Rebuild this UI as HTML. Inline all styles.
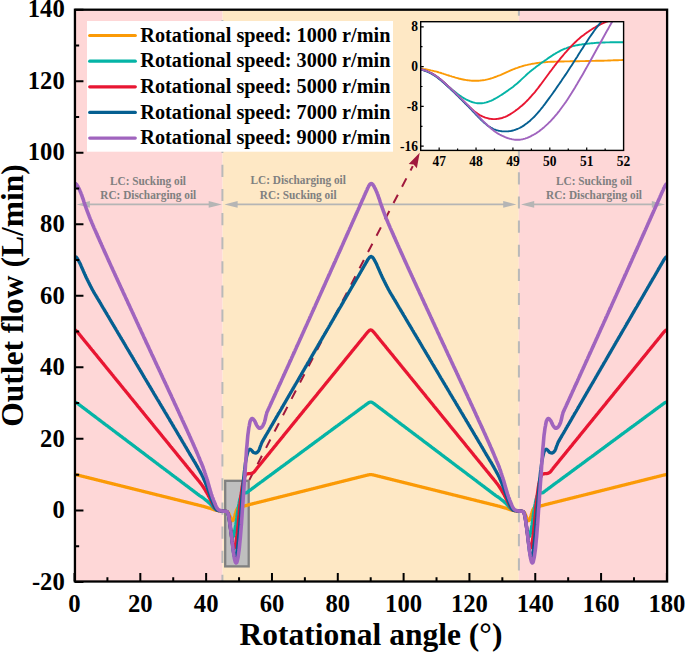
<!DOCTYPE html><html><head><meta charset="utf-8"><style>html,body{margin:0;padding:0;background:#fff;}svg{display:block;}</style></head><body><svg width="685" height="652" viewBox="0 0 685 652"><defs><clipPath id="pc"><rect x="74.95" y="9.70" width="592.15" height="571.80"/></clipPath><clipPath id="ic"><rect x="420.70" y="21.70" width="202.90" height="128.70"/></clipPath></defs><rect width="685" height="652" fill="#fff"/><rect x="74.95" y="9.7" width="147.65" height="571.8" fill="#FED7D7"/><rect x="222.60" y="9.7" width="296.20" height="571.8" fill="#FEE8C5"/><rect x="518.80" y="9.7" width="148.30" height="571.8" fill="#FED7D7"/><line x1="222.4" y1="9.7" x2="222.4" y2="581.5" stroke="#B9B9B9" stroke-width="2" stroke-dasharray="12.2 11.92" stroke-dashoffset="13.74"/><line x1="518.9" y1="9.7" x2="518.9" y2="581.5" stroke="#B9B9B9" stroke-width="2" stroke-dasharray="12.2 11.92" stroke-dashoffset="6.24"/><line x1="88.9" y1="204.4" x2="209.70000000000002" y2="204.4" stroke="#B5B5B5" stroke-width="1.7"/><path d="M76.7,204.4 L89.9,201.0 L89.9,207.8 Z" fill="#B5B5B5"/><path d="M221.9,204.4 L208.70000000000002,201.0 L208.70000000000002,207.8 Z" fill="#B5B5B5"/><line x1="236.6" y1="204.4" x2="504.2" y2="204.4" stroke="#B5B5B5" stroke-width="1.7"/><path d="M224.4,204.4 L237.6,201.0 L237.6,207.8 Z" fill="#B5B5B5"/><path d="M516.4,204.4 L503.2,201.0 L503.2,207.8 Z" fill="#B5B5B5"/><line x1="533.2" y1="204.4" x2="652.8" y2="204.4" stroke="#B5B5B5" stroke-width="1.7"/><path d="M521.0,204.4 L534.2,201.0 L534.2,207.8 Z" fill="#B5B5B5"/><path d="M665.0,204.4 L651.8,201.0 L651.8,207.8 Z" fill="#B5B5B5"/><text x="110.00" y="184.9" font-family="Liberation Serif" font-weight="bold" font-size="12.4" fill="#808080" textLength="76.0" lengthAdjust="spacingAndGlyphs">LC: Sucking oil</text><text x="100.25" y="199.0" font-family="Liberation Serif" font-weight="bold" font-size="12.4" fill="#808080" textLength="96.0" lengthAdjust="spacingAndGlyphs">RC: Discharging oil</text><text x="250.55" y="184.2" font-family="Liberation Serif" font-weight="bold" font-size="12.4" fill="#808080" textLength="95.3" lengthAdjust="spacingAndGlyphs">LC: Discharging oil</text><text x="259.85" y="198.9" font-family="Liberation Serif" font-weight="bold" font-size="12.4" fill="#808080" textLength="76.7" lengthAdjust="spacingAndGlyphs">RC: Sucking oil</text><text x="556.00" y="184.9" font-family="Liberation Serif" font-weight="bold" font-size="12.4" fill="#808080" textLength="76.0" lengthAdjust="spacingAndGlyphs">LC: Sucking oil</text><text x="546.00" y="199.0" font-family="Liberation Serif" font-weight="bold" font-size="12.4" fill="#808080" textLength="96.0" lengthAdjust="spacingAndGlyphs">RC: Discharging oil</text><rect x="225.2" y="480.8" width="23.5" height="85.6" fill="#BFBFBF" stroke="#808080" stroke-width="2.3"/><line x1="249.3" y1="480.0" x2="412.77" y2="166.10" stroke="#A0183C" stroke-width="2" stroke-dasharray="9.4 9.0" stroke-dashoffset="0.55"/><path d="M419.7,152.8 L416.85,168.23 L413.60,164.51 L408.69,163.98 Z" fill="#A0183C"/><g clip-path="url(#pc)" fill="none" stroke-linejoin="round" stroke-linecap="round"><path d="M74.5,474.6 L74.8,474.6 L75.2,474.6 L75.5,474.7 L75.8,474.7 L76.1,474.8 L76.5,474.8 L76.8,474.9 L77.1,474.9 L77.5,475.0 L77.8,475.1 L78.1,475.2 L78.4,475.3 L78.8,475.3 L79.1,475.4 L79.4,475.5 L79.8,475.6 L80.1,475.7 L80.4,475.8 L80.8,475.8 L81.1,475.9 L81.4,476.0 L81.7,476.1 L82.1,476.2 L82.4,476.2 L82.7,476.3 L83.1,476.4 L83.4,476.5 L83.7,476.6 L84.0,476.7 L84.4,476.7 L84.7,476.8 L85.0,476.9 L85.4,477.0 L85.7,477.1 L86.0,477.1 L86.3,477.2 L86.7,477.3 L87.0,477.4 L87.3,477.5 L87.7,477.6 L88.0,477.6 L88.3,477.7 L88.7,477.8 L89.0,477.9 L89.3,478.0 L89.6,478.0 L90.0,478.1 L90.3,478.2 L90.6,478.3 L91.0,478.4 L91.3,478.5 L91.6,478.5 L91.9,478.6 L92.3,478.7 L92.6,478.8 L92.9,478.9 L93.3,478.9 L93.6,479.0 L93.9,479.1 L94.2,479.2 L94.6,479.3 L94.9,479.4 L95.2,479.4 L95.6,479.5 L95.9,479.6 L96.2,479.7 L96.6,479.8 L96.9,479.8 L97.2,479.9 L97.5,480.0 L97.9,480.1 L98.2,480.2 L98.5,480.3 L98.9,480.3 L99.2,480.4 L99.5,480.5 L99.8,480.6 L100.2,480.7 L100.5,480.7 L100.8,480.8 L101.2,480.9 L101.5,481.0 L101.8,481.1 L102.1,481.2 L102.5,481.2 L102.8,481.3 L103.1,481.4 L103.5,481.5 L103.8,481.6 L104.1,481.6 L104.4,481.7 L104.8,481.8 L105.1,481.9 L105.4,482.0 L105.8,482.1 L106.1,482.1 L106.4,482.2 L106.8,482.3 L107.1,482.4 L107.4,482.5 L107.7,482.6 L108.1,482.6 L108.4,482.7 L108.7,482.8 L109.1,482.9 L109.4,483.0 L109.7,483.0 L110.0,483.1 L110.4,483.2 L110.7,483.3 L111.0,483.4 L111.4,483.5 L111.7,483.5 L112.0,483.6 L112.3,483.7 L112.7,483.8 L113.0,483.9 L113.3,483.9 L113.7,484.0 L114.0,484.1 L114.3,484.2 L114.7,484.3 L115.0,484.4 L115.3,484.4 L115.6,484.5 L116.0,484.6 L116.3,484.7 L116.6,484.8 L117.0,484.8 L117.3,484.9 L117.6,485.0 L117.9,485.1 L118.3,485.2 L118.6,485.3 L118.9,485.3 L119.3,485.4 L119.6,485.5 L119.9,485.6 L120.2,485.7 L120.6,485.7 L120.9,485.8 L121.2,485.9 L121.6,486.0 L121.9,486.1 L122.2,486.2 L122.6,486.2 L122.9,486.3 L123.2,486.4 L123.5,486.5 L123.9,486.6 L124.2,486.6 L124.5,486.7 L124.9,486.8 L125.2,486.9 L125.5,487.0 L125.8,487.1 L126.2,487.1 L126.5,487.2 L126.8,487.3 L127.2,487.4 L127.5,487.5 L127.8,487.5 L128.1,487.6 L128.5,487.7 L128.8,487.8 L129.1,487.9 L129.5,488.0 L129.8,488.0 L130.1,488.1 L130.4,488.2 L130.8,488.3 L131.1,488.4 L131.4,488.4 L131.8,488.5 L132.1,488.6 L132.4,488.7 L132.8,488.8 L133.1,488.9 L133.4,488.9 L133.7,489.0 L134.1,489.1 L134.4,489.2 L134.7,489.3 L135.1,489.3 L135.4,489.4 L135.7,489.5 L136.0,489.6 L136.4,489.7 L136.7,489.8 L137.0,489.8 L137.4,489.9 L137.7,490.0 L138.0,490.1 L138.3,490.2 L138.7,490.2 L139.0,490.3 L139.3,490.4 L139.7,490.5 L140.0,490.6 L140.3,490.7 L140.7,490.7 L141.0,490.8 L141.3,490.9 L141.6,491.0 L142.0,491.1 L142.3,491.1 L142.6,491.2 L143.0,491.3 L143.3,491.4 L143.6,491.5 L143.9,491.6 L144.3,491.6 L144.6,491.7 L144.9,491.8 L145.3,491.9 L145.6,492.0 L145.9,492.1 L146.2,492.1 L146.6,492.2 L146.9,492.3 L147.2,492.4 L147.6,492.5 L147.9,492.5 L148.2,492.6 L148.6,492.7 L148.9,492.8 L149.2,492.9 L149.5,493.0 L149.9,493.0 L150.2,493.1 L150.5,493.2 L150.9,493.3 L151.2,493.4 L151.5,493.4 L151.8,493.5 L152.2,493.6 L152.5,493.7 L152.8,493.8 L153.2,493.9 L153.5,493.9 L153.8,494.0 L154.1,494.1 L154.5,494.2 L154.8,494.3 L155.1,494.3 L155.5,494.4 L155.8,494.5 L156.1,494.6 L156.4,494.7 L156.8,494.8 L157.1,494.8 L157.4,494.9 L157.8,495.0 L158.1,495.1 L158.4,495.2 L158.8,495.2 L159.1,495.3 L159.4,495.4 L159.7,495.5 L160.1,495.6 L160.4,495.7 L160.7,495.7 L161.1,495.8 L161.4,495.9 L161.7,496.0 L162.0,496.1 L162.4,496.1 L162.7,496.2 L163.0,496.3 L163.4,496.4 L163.7,496.5 L164.0,496.6 L164.3,496.6 L164.7,496.7 L165.0,496.8 L165.3,496.9 L165.7,497.0 L166.0,497.0 L166.3,497.1 L166.7,497.2 L167.0,497.3 L167.3,497.4 L167.6,497.5 L168.0,497.5 L168.3,497.6 L168.6,497.7 L169.0,497.8 L169.3,497.9 L169.6,497.9 L169.9,498.0 L170.3,498.1 L170.6,498.2 L170.9,498.3 L171.3,498.4 L171.6,498.4 L171.9,498.5 L172.2,498.6 L172.6,498.7 L172.9,498.8 L173.2,498.8 L173.6,498.9 L173.9,499.0 L174.2,499.1 L174.5,499.2 L174.9,499.3 L175.2,499.3 L175.5,499.4 L175.9,499.5 L176.2,499.6 L176.5,499.7 L176.9,499.7 L177.2,499.8 L177.5,499.9 L177.8,500.0 L178.2,500.1 L178.5,500.2 L178.8,500.2 L179.2,500.3 L179.5,500.4 L179.8,500.5 L180.1,500.6 L180.5,500.7 L180.8,500.7 L181.1,500.8 L181.5,500.9 L181.8,501.0 L182.1,501.1 L182.4,501.1 L182.8,501.2 L183.1,501.3 L183.4,501.4 L183.8,501.5 L184.1,501.6 L184.4,501.6 L184.8,501.7 L185.1,501.8 L185.4,501.9 L185.7,502.0 L186.1,502.0 L186.4,502.1 L186.7,502.2 L187.1,502.3 L187.4,502.4 L187.7,502.5 L188.0,502.5 L188.4,502.6 L188.7,502.7 L189.0,502.8 L189.4,502.9 L189.7,502.9 L190.0,503.0 L190.3,503.1 L190.7,503.2 L191.0,503.3 L191.3,503.4 L191.7,503.4 L192.0,503.5 L192.3,503.6 L192.7,503.7 L193.0,503.8 L193.3,503.8 L193.6,503.9 L194.0,504.0 L194.3,504.1 L194.6,504.2 L195.0,504.3 L195.3,504.3 L195.6,504.4 L195.9,504.5 L196.3,504.6 L196.6,504.7 L196.9,504.7 L197.3,504.8 L197.6,504.9 L197.9,505.0 L198.2,505.1 L198.6,505.2 L198.9,505.2 L199.2,505.3 L199.6,505.4 L199.9,505.5 L200.2,505.6 L200.5,505.6 L200.9,505.7 L201.2,505.8 L201.5,505.9 L201.9,506.0 L202.2,506.1 L202.5,506.1 L202.9,506.2 L203.2,506.3 L203.5,506.4 L203.8,506.5 L204.2,506.6 L204.5,506.7 L204.8,506.8 L205.2,506.9 L205.5,507.0 L205.8,507.1 L206.1,507.2 L206.5,507.3 L206.8,507.4 L207.1,507.5 L207.5,507.6 L207.8,507.7 L208.1,507.8 L208.4,507.9 L208.8,508.0 L209.1,508.0 L209.4,508.1 L209.8,508.2 L210.1,508.3 L210.4,508.4 L210.8,508.5 L211.1,508.6 L211.4,508.8 L211.7,508.9 L212.1,509.0 L212.4,509.1 L212.7,509.2 L213.1,509.3 L213.4,509.5 L213.7,509.6 L214.0,509.7 L214.4,509.8 L214.7,509.9 L215.0,510.0 L215.4,510.1 L215.7,510.1 L216.0,510.2 L216.3,510.3 L216.7,510.4 L217.0,510.4 L217.3,510.5 L217.7,510.5 L218.0,510.5 L218.3,510.6 L218.7,510.6 L219.0,510.7 L219.3,510.7 L219.6,510.7 L220.0,510.7 L220.3,510.8 L220.6,510.8 L221.0,510.8 L221.3,510.9 L221.6,510.9 L221.9,511.0 L222.3,511.0 L222.6,511.0 L222.9,511.1 L223.3,511.1 L223.6,511.1 L223.9,511.2 L224.2,511.2 L224.6,511.2 L224.9,511.2 L225.2,511.2 L225.6,511.3 L225.9,511.3 L226.2,511.3 L226.5,511.4 L226.9,511.5 L227.2,511.6 L227.5,511.9 L227.9,512.2 L228.2,512.7 L228.5,513.2 L228.9,513.9 L229.2,514.6 L229.5,515.4 L229.8,516.3 L230.2,517.1 L230.5,518.0 L230.8,518.7 L231.2,519.4 L231.5,519.9 L231.8,520.3 L232.1,520.5 L232.5,520.6 L232.8,520.5 L233.1,520.2 L233.5,519.7 L233.8,519.0 L234.1,518.1 L234.4,517.1 L234.8,515.9 L235.1,514.8 L235.4,513.6 L235.8,512.5 L236.1,511.4 L236.4,510.5 L236.8,509.8 L237.1,509.1 L237.4,508.5 L237.7,508.1 L238.1,507.7 L238.4,507.4 L238.7,507.2 L239.1,507.0 L239.4,506.9 L239.7,506.8 L240.0,506.7 L240.4,506.7 L240.7,506.7 L241.0,506.6 L241.4,506.5 L241.7,506.5 L242.0,506.4 L242.3,506.4 L242.7,506.3 L243.0,506.3 L243.3,506.2 L243.7,506.2 L244.0,506.1 L244.3,506.0 L244.7,505.9 L245.0,505.8 L245.3,505.7 L245.6,505.6 L246.0,505.5 L246.3,505.5 L246.6,505.4 L247.0,505.3 L247.3,505.2 L247.6,505.1 L247.9,505.0 L248.3,504.9 L248.6,504.8 L248.9,504.7 L249.3,504.6 L249.6,504.5 L249.9,504.5 L250.2,504.4 L250.6,504.3 L250.9,504.2 L251.2,504.1 L251.6,504.1 L251.9,504.0 L252.2,503.9 L252.5,503.8 L252.9,503.7 L253.2,503.6 L253.5,503.6 L253.9,503.5 L254.2,503.4 L254.5,503.3 L254.9,503.2 L255.2,503.2 L255.5,503.1 L255.8,503.0 L256.2,502.9 L256.5,502.8 L256.8,502.7 L257.2,502.7 L257.5,502.6 L257.8,502.5 L258.1,502.4 L258.5,502.3 L258.8,502.2 L259.1,502.2 L259.5,502.1 L259.8,502.0 L260.1,501.9 L260.4,501.8 L260.8,501.8 L261.1,501.7 L261.4,501.6 L261.8,501.5 L262.1,501.4 L262.4,501.3 L262.8,501.3 L263.1,501.2 L263.4,501.1 L263.7,501.0 L264.1,500.9 L264.4,500.8 L264.7,500.8 L265.1,500.7 L265.4,500.6 L265.7,500.5 L266.0,500.4 L266.4,500.4 L266.7,500.3 L267.0,500.2 L267.4,500.1 L267.7,500.0 L268.0,499.9 L268.3,499.9 L268.7,499.8 L269.0,499.7 L269.3,499.6 L269.7,499.5 L270.0,499.4 L270.3,499.4 L270.7,499.3 L271.0,499.2 L271.3,499.1 L271.6,499.0 L272.0,499.0 L272.3,498.9 L272.6,498.8 L273.0,498.7 L273.3,498.6 L273.6,498.5 L273.9,498.5 L274.3,498.4 L274.6,498.3 L274.9,498.2 L275.3,498.1 L275.6,498.1 L275.9,498.0 L276.2,497.9 L276.6,497.8 L276.9,497.7 L277.2,497.6 L277.6,497.6 L277.9,497.5 L278.2,497.4 L278.5,497.3 L278.9,497.2 L279.2,497.1 L279.5,497.1 L279.9,497.0 L280.2,496.9 L280.5,496.8 L280.9,496.7 L281.2,496.7 L281.5,496.6 L281.8,496.5 L282.2,496.4 L282.5,496.3 L282.8,496.2 L283.2,496.2 L283.5,496.1 L283.8,496.0 L284.1,495.9 L284.5,495.8 L284.8,495.7 L285.1,495.7 L285.5,495.6 L285.8,495.5 L286.1,495.4 L286.4,495.3 L286.8,495.3 L287.1,495.2 L287.4,495.1 L287.8,495.0 L288.1,494.9 L288.4,494.8 L288.8,494.8 L289.1,494.7 L289.4,494.6 L289.7,494.5 L290.1,494.4 L290.4,494.3 L290.7,494.3 L291.1,494.2 L291.4,494.1 L291.7,494.0 L292.0,493.9 L292.4,493.9 L292.7,493.8 L293.0,493.7 L293.4,493.6 L293.7,493.5 L294.0,493.4 L294.3,493.4 L294.7,493.3 L295.0,493.2 L295.3,493.1 L295.7,493.0 L296.0,493.0 L296.3,492.9 L296.6,492.8 L297.0,492.7 L297.3,492.6 L297.6,492.5 L298.0,492.5 L298.3,492.4 L298.6,492.3 L299.0,492.2 L299.3,492.1 L299.6,492.0 L299.9,492.0 L300.3,491.9 L300.6,491.8 L300.9,491.7 L301.3,491.6 L301.6,491.6 L301.9,491.5 L302.2,491.4 L302.6,491.3 L302.9,491.2 L303.2,491.1 L303.6,491.1 L303.9,491.0 L304.2,490.9 L304.5,490.8 L304.9,490.7 L305.2,490.6 L305.5,490.6 L305.9,490.5 L306.2,490.4 L306.5,490.3 L306.9,490.2 L307.2,490.2 L307.5,490.1 L307.8,490.0 L308.2,489.9 L308.5,489.8 L308.8,489.7 L309.2,489.7 L309.5,489.6 L309.8,489.5 L310.1,489.4 L310.5,489.3 L310.8,489.2 L311.1,489.2 L311.5,489.1 L311.8,489.0 L312.1,488.9 L312.4,488.8 L312.8,488.8 L313.1,488.7 L313.4,488.6 L313.8,488.5 L314.1,488.4 L314.4,488.3 L314.8,488.3 L315.1,488.2 L315.4,488.1 L315.7,488.0 L316.1,487.9 L316.4,487.9 L316.7,487.8 L317.1,487.7 L317.4,487.6 L317.7,487.5 L318.0,487.4 L318.4,487.4 L318.7,487.3 L319.0,487.2 L319.4,487.1 L319.7,487.0 L320.0,486.9 L320.3,486.9 L320.7,486.8 L321.0,486.7 L321.3,486.6 L321.7,486.5 L322.0,486.5 L322.3,486.4 L322.6,486.3 L323.0,486.2 L323.3,486.1 L323.6,486.0 L324.0,486.0 L324.3,485.9 L324.6,485.8 L325.0,485.7 L325.3,485.6 L325.6,485.5 L325.9,485.5 L326.3,485.4 L326.6,485.3 L326.9,485.2 L327.3,485.1 L327.6,485.1 L327.9,485.0 L328.2,484.9 L328.6,484.8 L328.9,484.7 L329.2,484.6 L329.6,484.6 L329.9,484.5 L330.2,484.4 L330.5,484.3 L330.9,484.2 L331.2,484.1 L331.5,484.1 L331.9,484.0 L332.2,483.9 L332.5,483.8 L332.9,483.7 L333.2,483.7 L333.5,483.6 L333.8,483.5 L334.2,483.4 L334.5,483.3 L334.8,483.2 L335.2,483.2 L335.5,483.1 L335.8,483.0 L336.1,482.9 L336.5,482.8 L336.8,482.8 L337.1,482.7 L337.5,482.6 L337.8,482.5 L338.1,482.4 L338.4,482.3 L338.8,482.3 L339.1,482.2 L339.4,482.1 L339.8,482.0 L340.1,481.9 L340.4,481.8 L340.8,481.8 L341.1,481.7 L341.4,481.6 L341.7,481.5 L342.1,481.4 L342.4,481.4 L342.7,481.3 L343.1,481.2 L343.4,481.1 L343.7,481.0 L344.0,480.9 L344.4,480.9 L344.7,480.8 L345.0,480.7 L345.4,480.6 L345.7,480.5 L346.0,480.4 L346.3,480.4 L346.7,480.3 L347.0,480.2 L347.3,480.1 L347.7,480.0 L348.0,480.0 L348.3,479.9 L348.6,479.8 L349.0,479.7 L349.3,479.6 L349.6,479.5 L350.0,479.5 L350.3,479.4 L350.6,479.3 L351.0,479.2 L351.3,479.1 L351.6,479.0 L351.9,479.0 L352.3,478.9 L352.6,478.8 L352.9,478.7 L353.3,478.6 L353.6,478.6 L353.9,478.5 L354.2,478.4 L354.6,478.3 L354.9,478.2 L355.2,478.1 L355.6,478.1 L355.9,478.0 L356.2,477.9 L356.5,477.8 L356.9,477.7 L357.2,477.7 L357.5,477.6 L357.9,477.5 L358.2,477.4 L358.5,477.3 L358.9,477.2 L359.2,477.2 L359.5,477.1 L359.8,477.0 L360.2,476.9 L360.5,476.8 L360.8,476.7 L361.2,476.7 L361.5,476.6 L361.8,476.5 L362.1,476.4 L362.5,476.3 L362.8,476.3 L363.1,476.2 L363.5,476.1 L363.8,476.0 L364.1,475.9 L364.4,475.8 L364.8,475.8 L365.1,475.7 L365.4,475.6 L365.8,475.5 L366.1,475.4 L366.4,475.3 L366.8,475.3 L367.1,475.2 L367.4,475.1 L367.7,475.0 L368.1,475.0 L368.4,474.9 L368.7,474.8 L369.1,474.8 L369.4,474.7 L369.7,474.7 L370.0,474.6 L370.4,474.6 L370.7,474.6 L371.0,474.6 L371.4,474.6 L371.7,474.7 L372.0,474.7 L372.3,474.8 L372.7,474.8 L373.0,474.9 L373.3,474.9 L373.7,475.0 L374.0,475.1 L374.3,475.2 L374.6,475.3 L375.0,475.3 L375.3,475.4 L375.6,475.5 L376.0,475.6 L376.3,475.7 L376.6,475.8 L377.0,475.8 L377.3,475.9 L377.6,476.0 L377.9,476.1 L378.3,476.2 L378.6,476.2 L378.9,476.3 L379.3,476.4 L379.6,476.5 L379.9,476.6 L380.2,476.7 L380.6,476.7 L380.9,476.8 L381.2,476.9 L381.6,477.0 L381.9,477.1 L382.2,477.1 L382.5,477.2 L382.9,477.3 L383.2,477.4 L383.5,477.5 L383.9,477.6 L384.2,477.6 L384.5,477.7 L384.9,477.8 L385.2,477.9 L385.5,478.0 L385.8,478.0 L386.2,478.1 L386.5,478.2 L386.8,478.3 L387.2,478.4 L387.5,478.5 L387.8,478.5 L388.1,478.6 L388.5,478.7 L388.8,478.8 L389.1,478.9 L389.5,478.9 L389.8,479.0 L390.1,479.1 L390.4,479.2 L390.8,479.3 L391.1,479.4 L391.4,479.4 L391.8,479.5 L392.1,479.6 L392.4,479.7 L392.8,479.8 L393.1,479.8 L393.4,479.9 L393.7,480.0 L394.1,480.1 L394.4,480.2 L394.7,480.3 L395.1,480.3 L395.4,480.4 L395.7,480.5 L396.0,480.6 L396.4,480.7 L396.7,480.7 L397.0,480.8 L397.4,480.9 L397.7,481.0 L398.0,481.1 L398.3,481.2 L398.7,481.2 L399.0,481.3 L399.3,481.4 L399.7,481.5 L400.0,481.6 L400.3,481.6 L400.6,481.7 L401.0,481.8 L401.3,481.9 L401.6,482.0 L402.0,482.1 L402.3,482.1 L402.6,482.2 L403.0,482.3 L403.3,482.4 L403.6,482.5 L403.9,482.6 L404.3,482.6 L404.6,482.7 L404.9,482.8 L405.3,482.9 L405.6,483.0 L405.9,483.0 L406.2,483.1 L406.6,483.2 L406.9,483.3 L407.2,483.4 L407.6,483.5 L407.9,483.5 L408.2,483.6 L408.5,483.7 L408.9,483.8 L409.2,483.9 L409.5,483.9 L409.9,484.0 L410.2,484.1 L410.5,484.2 L410.9,484.3 L411.2,484.4 L411.5,484.4 L411.8,484.5 L412.2,484.6 L412.5,484.7 L412.8,484.8 L413.2,484.8 L413.5,484.9 L413.8,485.0 L414.1,485.1 L414.5,485.2 L414.8,485.3 L415.1,485.3 L415.5,485.4 L415.8,485.5 L416.1,485.6 L416.4,485.7 L416.8,485.7 L417.1,485.8 L417.4,485.9 L417.8,486.0 L418.1,486.1 L418.4,486.2 L418.8,486.2 L419.1,486.3 L419.4,486.4 L419.7,486.5 L420.1,486.6 L420.4,486.6 L420.7,486.7 L421.1,486.8 L421.4,486.9 L421.7,487.0 L422.0,487.1 L422.4,487.1 L422.7,487.2 L423.0,487.3 L423.4,487.4 L423.7,487.5 L424.0,487.5 L424.3,487.6 L424.7,487.7 L425.0,487.8 L425.3,487.9 L425.7,488.0 L426.0,488.0 L426.3,488.1 L426.6,488.2 L427.0,488.3 L427.3,488.4 L427.6,488.4 L428.0,488.5 L428.3,488.6 L428.6,488.7 L429.0,488.8 L429.3,488.9 L429.6,488.9 L429.9,489.0 L430.3,489.1 L430.6,489.2 L430.9,489.3 L431.3,489.3 L431.6,489.4 L431.9,489.5 L432.2,489.6 L432.6,489.7 L432.9,489.8 L433.2,489.8 L433.6,489.9 L433.9,490.0 L434.2,490.1 L434.5,490.2 L434.9,490.2 L435.2,490.3 L435.5,490.4 L435.9,490.5 L436.2,490.6 L436.5,490.7 L436.9,490.7 L437.2,490.8 L437.5,490.9 L437.8,491.0 L438.2,491.1 L438.5,491.1 L438.8,491.2 L439.2,491.3 L439.5,491.4 L439.8,491.5 L440.1,491.6 L440.5,491.6 L440.8,491.7 L441.1,491.8 L441.5,491.9 L441.8,492.0 L442.1,492.1 L442.4,492.1 L442.8,492.2 L443.1,492.3 L443.4,492.4 L443.8,492.5 L444.1,492.5 L444.4,492.6 L444.8,492.7 L445.1,492.8 L445.4,492.9 L445.7,493.0 L446.1,493.0 L446.4,493.1 L446.7,493.2 L447.1,493.3 L447.4,493.4 L447.7,493.4 L448.0,493.5 L448.4,493.6 L448.7,493.7 L449.0,493.8 L449.4,493.9 L449.7,493.9 L450.0,494.0 L450.3,494.1 L450.7,494.2 L451.0,494.3 L451.3,494.3 L451.7,494.4 L452.0,494.5 L452.3,494.6 L452.6,494.7 L453.0,494.8 L453.3,494.8 L453.6,494.9 L454.0,495.0 L454.3,495.1 L454.6,495.2 L455.0,495.2 L455.3,495.3 L455.6,495.4 L455.9,495.5 L456.3,495.6 L456.6,495.7 L456.9,495.7 L457.3,495.8 L457.6,495.9 L457.9,496.0 L458.2,496.1 L458.6,496.1 L458.9,496.2 L459.2,496.3 L459.6,496.4 L459.9,496.5 L460.2,496.6 L460.5,496.6 L460.9,496.7 L461.2,496.8 L461.5,496.9 L461.9,497.0 L462.2,497.0 L462.5,497.1 L462.9,497.2 L463.2,497.3 L463.5,497.4 L463.8,497.5 L464.2,497.5 L464.5,497.6 L464.8,497.7 L465.2,497.8 L465.5,497.9 L465.8,497.9 L466.1,498.0 L466.5,498.1 L466.8,498.2 L467.1,498.3 L467.5,498.4 L467.8,498.4 L468.1,498.5 L468.4,498.6 L468.8,498.7 L469.1,498.8 L469.4,498.8 L469.8,498.9 L470.1,499.0 L470.4,499.1 L470.7,499.2 L471.1,499.3 L471.4,499.3 L471.7,499.4 L472.1,499.5 L472.4,499.6 L472.7,499.7 L473.1,499.7 L473.4,499.8 L473.7,499.9 L474.0,500.0 L474.4,500.1 L474.7,500.2 L475.0,500.2 L475.4,500.3 L475.7,500.4 L476.0,500.5 L476.3,500.6 L476.7,500.7 L477.0,500.7 L477.3,500.8 L477.7,500.9 L478.0,501.0 L478.3,501.1 L478.6,501.1 L479.0,501.2 L479.3,501.3 L479.6,501.4 L480.0,501.5 L480.3,501.6 L480.6,501.6 L481.0,501.7 L481.3,501.8 L481.6,501.9 L481.9,502.0 L482.3,502.0 L482.6,502.1 L482.9,502.2 L483.3,502.3 L483.6,502.4 L483.9,502.5 L484.2,502.5 L484.6,502.6 L484.9,502.7 L485.2,502.8 L485.6,502.9 L485.9,502.9 L486.2,503.0 L486.5,503.1 L486.9,503.2 L487.2,503.3 L487.5,503.4 L487.9,503.4 L488.2,503.5 L488.5,503.6 L488.9,503.7 L489.2,503.8 L489.5,503.8 L489.8,503.9 L490.2,504.0 L490.5,504.1 L490.8,504.2 L491.2,504.3 L491.5,504.3 L491.8,504.4 L492.1,504.5 L492.5,504.6 L492.8,504.7 L493.1,504.7 L493.5,504.8 L493.8,504.9 L494.1,505.0 L494.4,505.1 L494.8,505.2 L495.1,505.2 L495.4,505.3 L495.8,505.4 L496.1,505.5 L496.4,505.6 L496.7,505.6 L497.1,505.7 L497.4,505.8 L497.7,505.9 L498.1,506.0 L498.4,506.1 L498.7,506.1 L499.1,506.2 L499.4,506.3 L499.7,506.4 L500.0,506.5 L500.4,506.6 L500.7,506.7 L501.0,506.8 L501.4,506.9 L501.7,507.0 L502.0,507.1 L502.3,507.2 L502.7,507.3 L503.0,507.4 L503.3,507.5 L503.7,507.6 L504.0,507.7 L504.3,507.8 L504.6,507.9 L505.0,508.0 L505.3,508.0 L505.6,508.1 L506.0,508.2 L506.3,508.3 L506.6,508.4 L507.0,508.5 L507.3,508.6 L507.6,508.8 L507.9,508.9 L508.3,509.0 L508.6,509.1 L508.9,509.2 L509.3,509.3 L509.6,509.5 L509.9,509.6 L510.2,509.7 L510.6,509.8 L510.9,509.9 L511.2,510.0 L511.6,510.1 L511.9,510.1 L512.2,510.2 L512.5,510.3 L512.9,510.4 L513.2,510.4 L513.5,510.5 L513.9,510.5 L514.2,510.5 L514.5,510.6 L514.9,510.6 L515.2,510.7 L515.5,510.7 L515.8,510.7 L516.2,510.7 L516.5,510.8 L516.8,510.8 L517.2,510.8 L517.5,510.9 L517.8,510.9 L518.1,511.0 L518.5,511.0 L518.8,511.0 L519.1,511.1 L519.5,511.1 L519.8,511.1 L520.1,511.2 L520.4,511.2 L520.8,511.2 L521.1,511.2 L521.4,511.2 L521.8,511.3 L522.1,511.3 L522.4,511.3 L522.7,511.4 L523.1,511.5 L523.4,511.6 L523.7,511.9 L524.1,512.2 L524.4,512.7 L524.7,513.2 L525.1,513.9 L525.4,514.6 L525.7,515.4 L526.0,516.3 L526.4,517.1 L526.7,518.0 L527.0,518.7 L527.4,519.4 L527.7,519.9 L528.0,520.3 L528.3,520.5 L528.7,520.6 L529.0,520.5 L529.3,520.2 L529.7,519.7 L530.0,519.0 L530.3,518.1 L530.6,517.1 L531.0,515.9 L531.3,514.8 L531.6,513.6 L532.0,512.5 L532.3,511.4 L532.6,510.5 L533.0,509.8 L533.3,509.1 L533.6,508.5 L533.9,508.1 L534.3,507.7 L534.6,507.4 L534.9,507.2 L535.3,507.0 L535.6,506.9 L535.9,506.8 L536.2,506.7 L536.6,506.7 L536.9,506.7 L537.2,506.6 L537.6,506.5 L537.9,506.5 L538.2,506.4 L538.5,506.4 L538.9,506.3 L539.2,506.3 L539.5,506.2 L539.9,506.2 L540.2,506.1 L540.5,506.0 L540.9,505.9 L541.2,505.8 L541.5,505.7 L541.8,505.6 L542.2,505.5 L542.5,505.5 L542.8,505.4 L543.2,505.3 L543.5,505.2 L543.8,505.1 L544.1,505.0 L544.5,504.9 L544.8,504.8 L545.1,504.7 L545.5,504.6 L545.8,504.5 L546.1,504.5 L546.4,504.4 L546.8,504.3 L547.1,504.2 L547.4,504.1 L547.8,504.1 L548.1,504.0 L548.4,503.9 L548.7,503.8 L549.1,503.7 L549.4,503.6 L549.7,503.6 L550.1,503.5 L550.4,503.4 L550.7,503.3 L551.1,503.2 L551.4,503.2 L551.7,503.1 L552.0,503.0 L552.4,502.9 L552.7,502.8 L553.0,502.7 L553.4,502.7 L553.7,502.6 L554.0,502.5 L554.3,502.4 L554.7,502.3 L555.0,502.2 L555.3,502.2 L555.7,502.1 L556.0,502.0 L556.3,501.9 L556.6,501.8 L557.0,501.8 L557.3,501.7 L557.6,501.6 L558.0,501.5 L558.3,501.4 L558.6,501.3 L559.0,501.3 L559.3,501.2 L559.6,501.1 L559.9,501.0 L560.3,500.9 L560.6,500.8 L560.9,500.8 L561.3,500.7 L561.6,500.6 L561.9,500.5 L562.2,500.4 L562.6,500.4 L562.9,500.3 L563.2,500.2 L563.6,500.1 L563.9,500.0 L564.2,499.9 L564.5,499.9 L564.9,499.8 L565.2,499.7 L565.5,499.6 L565.9,499.5 L566.2,499.4 L566.5,499.4 L566.9,499.3 L567.2,499.2 L567.5,499.1 L567.8,499.0 L568.2,499.0 L568.5,498.9 L568.8,498.8 L569.2,498.7 L569.5,498.6 L569.8,498.5 L570.1,498.5 L570.5,498.4 L570.8,498.3 L571.1,498.2 L571.5,498.1 L571.8,498.1 L572.1,498.0 L572.4,497.9 L572.8,497.8 L573.1,497.7 L573.4,497.6 L573.8,497.6 L574.1,497.5 L574.4,497.4 L574.7,497.3 L575.1,497.2 L575.4,497.1 L575.7,497.1 L576.1,497.0 L576.4,496.9 L576.7,496.8 L577.1,496.7 L577.4,496.7 L577.7,496.6 L578.0,496.5 L578.4,496.4 L578.7,496.3 L579.0,496.2 L579.4,496.2 L579.7,496.1 L580.0,496.0 L580.3,495.9 L580.7,495.8 L581.0,495.7 L581.3,495.7 L581.7,495.6 L582.0,495.5 L582.3,495.4 L582.6,495.3 L583.0,495.3 L583.3,495.2 L583.6,495.1 L584.0,495.0 L584.3,494.9 L584.6,494.8 L585.0,494.8 L585.3,494.7 L585.6,494.6 L585.9,494.5 L586.3,494.4 L586.6,494.3 L586.9,494.3 L587.3,494.2 L587.6,494.1 L587.9,494.0 L588.2,493.9 L588.6,493.9 L588.9,493.8 L589.2,493.7 L589.6,493.6 L589.9,493.5 L590.2,493.4 L590.5,493.4 L590.9,493.3 L591.2,493.2 L591.5,493.1 L591.9,493.0 L592.2,493.0 L592.5,492.9 L592.9,492.8 L593.2,492.7 L593.5,492.6 L593.8,492.5 L594.2,492.5 L594.5,492.4 L594.8,492.3 L595.2,492.2 L595.5,492.1 L595.8,492.0 L596.1,492.0 L596.5,491.9 L596.8,491.8 L597.1,491.7 L597.5,491.6 L597.8,491.6 L598.1,491.5 L598.4,491.4 L598.8,491.3 L599.1,491.2 L599.4,491.1 L599.8,491.1 L600.1,491.0 L600.4,490.9 L600.7,490.8 L601.1,490.7 L601.4,490.6 L601.7,490.6 L602.1,490.5 L602.4,490.4 L602.7,490.3 L603.1,490.2 L603.4,490.2 L603.7,490.1 L604.0,490.0 L604.4,489.9 L604.7,489.8 L605.0,489.7 L605.4,489.7 L605.7,489.6 L606.0,489.5 L606.3,489.4 L606.7,489.3 L607.0,489.2 L607.3,489.2 L607.7,489.1 L608.0,489.0 L608.3,488.9 L608.6,488.8 L609.0,488.8 L609.3,488.7 L609.6,488.6 L610.0,488.5 L610.3,488.4 L610.6,488.3 L611.0,488.3 L611.3,488.2 L611.6,488.1 L611.9,488.0 L612.3,487.9 L612.6,487.9 L612.9,487.8 L613.3,487.7 L613.6,487.6 L613.9,487.5 L614.2,487.4 L614.6,487.4 L614.9,487.3 L615.2,487.2 L615.6,487.1 L615.9,487.0 L616.2,486.9 L616.5,486.9 L616.9,486.8 L617.2,486.7 L617.5,486.6 L617.9,486.5 L618.2,486.5 L618.5,486.4 L618.8,486.3 L619.2,486.2 L619.5,486.1 L619.8,486.0 L620.2,486.0 L620.5,485.9 L620.8,485.8 L621.2,485.7 L621.5,485.6 L621.8,485.5 L622.1,485.5 L622.5,485.4 L622.8,485.3 L623.1,485.2 L623.5,485.1 L623.8,485.1 L624.1,485.0 L624.4,484.9 L624.8,484.8 L625.1,484.7 L625.4,484.6 L625.8,484.6 L626.1,484.5 L626.4,484.4 L626.7,484.3 L627.1,484.2 L627.4,484.1 L627.7,484.1 L628.1,484.0 L628.4,483.9 L628.7,483.8 L629.1,483.7 L629.4,483.7 L629.7,483.6 L630.0,483.5 L630.4,483.4 L630.7,483.3 L631.0,483.2 L631.4,483.2 L631.7,483.1 L632.0,483.0 L632.3,482.9 L632.7,482.8 L633.0,482.8 L633.3,482.7 L633.7,482.6 L634.0,482.5 L634.3,482.4 L634.6,482.3 L635.0,482.3 L635.3,482.2 L635.6,482.1 L636.0,482.0 L636.3,481.9 L636.6,481.8 L637.0,481.8 L637.3,481.7 L637.6,481.6 L637.9,481.5 L638.3,481.4 L638.6,481.4 L638.9,481.3 L639.3,481.2 L639.6,481.1 L639.9,481.0 L640.2,480.9 L640.6,480.9 L640.9,480.8 L641.2,480.7 L641.6,480.6 L641.9,480.5 L642.2,480.4 L642.5,480.4 L642.9,480.3 L643.2,480.2 L643.5,480.1 L643.9,480.0 L644.2,480.0 L644.5,479.9 L644.8,479.8 L645.2,479.7 L645.5,479.6 L645.8,479.5 L646.2,479.5 L646.5,479.4 L646.8,479.3 L647.2,479.2 L647.5,479.1 L647.8,479.0 L648.1,479.0 L648.5,478.9 L648.8,478.8 L649.1,478.7 L649.5,478.6 L649.8,478.6 L650.1,478.5 L650.4,478.4 L650.8,478.3 L651.1,478.2 L651.4,478.1 L651.8,478.1 L652.1,478.0 L652.4,477.9 L652.7,477.8 L653.1,477.7 L653.4,477.7 L653.7,477.6 L654.1,477.5 L654.4,477.4 L654.7,477.3 L655.1,477.2 L655.4,477.2 L655.7,477.1 L656.0,477.0 L656.4,476.9 L656.7,476.8 L657.0,476.7 L657.4,476.7 L657.7,476.6 L658.0,476.5 L658.3,476.4 L658.7,476.3 L659.0,476.3 L659.3,476.2 L659.7,476.1 L660.0,476.0 L660.3,475.9 L660.6,475.8 L661.0,475.8 L661.3,475.7 L661.6,475.6 L662.0,475.5 L662.3,475.4 L662.6,475.3 L663.0,475.3 L663.3,475.2 L663.6,475.1 L663.9,475.0 L664.3,475.0 L664.6,474.9 L664.9,474.8 L665.3,474.8 L665.6,474.7 L665.9,474.7 L666.2,474.6 L666.6,474.6 L666.9,474.6" stroke="#FB9A06" stroke-width="3.3"/><path d="M74.5,402.1 L74.8,402.1 L75.2,402.2 L75.5,402.3 L75.8,402.4 L76.1,402.6 L76.5,402.8 L76.8,403.0 L77.1,403.2 L77.5,403.4 L77.8,403.6 L78.1,403.9 L78.4,404.1 L78.8,404.4 L79.1,404.6 L79.4,404.9 L79.8,405.1 L80.1,405.4 L80.4,405.6 L80.8,405.9 L81.1,406.1 L81.4,406.4 L81.7,406.6 L82.1,406.9 L82.4,407.1 L82.7,407.4 L83.1,407.6 L83.4,407.9 L83.7,408.1 L84.0,408.3 L84.4,408.6 L84.7,408.8 L85.0,409.1 L85.4,409.3 L85.7,409.6 L86.0,409.8 L86.3,410.1 L86.7,410.3 L87.0,410.6 L87.3,410.8 L87.7,411.1 L88.0,411.3 L88.3,411.6 L88.7,411.8 L89.0,412.1 L89.3,412.3 L89.6,412.6 L90.0,412.8 L90.3,413.1 L90.6,413.3 L91.0,413.6 L91.3,413.8 L91.6,414.1 L91.9,414.3 L92.3,414.6 L92.6,414.8 L92.9,415.1 L93.3,415.3 L93.6,415.6 L93.9,415.8 L94.2,416.1 L94.6,416.3 L94.9,416.6 L95.2,416.8 L95.6,417.0 L95.9,417.3 L96.2,417.5 L96.6,417.8 L96.9,418.0 L97.2,418.3 L97.5,418.5 L97.9,418.8 L98.2,419.0 L98.5,419.3 L98.9,419.5 L99.2,419.8 L99.5,420.0 L99.8,420.3 L100.2,420.5 L100.5,420.8 L100.8,421.0 L101.2,421.3 L101.5,421.5 L101.8,421.8 L102.1,422.0 L102.5,422.3 L102.8,422.5 L103.1,422.8 L103.5,423.0 L103.8,423.3 L104.1,423.5 L104.4,423.8 L104.8,424.0 L105.1,424.3 L105.4,424.5 L105.8,424.8 L106.1,425.0 L106.4,425.3 L106.8,425.5 L107.1,425.7 L107.4,426.0 L107.7,426.2 L108.1,426.5 L108.4,426.7 L108.7,427.0 L109.1,427.2 L109.4,427.5 L109.7,427.7 L110.0,428.0 L110.4,428.2 L110.7,428.5 L111.0,428.7 L111.4,429.0 L111.7,429.2 L112.0,429.5 L112.3,429.7 L112.7,430.0 L113.0,430.2 L113.3,430.5 L113.7,430.7 L114.0,431.0 L114.3,431.2 L114.7,431.5 L115.0,431.7 L115.3,432.0 L115.6,432.2 L116.0,432.5 L116.3,432.7 L116.6,433.0 L117.0,433.2 L117.3,433.5 L117.6,433.7 L117.9,434.0 L118.3,434.2 L118.6,434.4 L118.9,434.7 L119.3,434.9 L119.6,435.2 L119.9,435.4 L120.2,435.7 L120.6,435.9 L120.9,436.2 L121.2,436.4 L121.6,436.7 L121.9,436.9 L122.2,437.2 L122.6,437.4 L122.9,437.7 L123.2,437.9 L123.5,438.2 L123.9,438.4 L124.2,438.7 L124.5,438.9 L124.9,439.2 L125.2,439.4 L125.5,439.7 L125.8,439.9 L126.2,440.2 L126.5,440.4 L126.8,440.7 L127.2,440.9 L127.5,441.2 L127.8,441.4 L128.1,441.7 L128.5,441.9 L128.8,442.2 L129.1,442.4 L129.5,442.7 L129.8,442.9 L130.1,443.1 L130.4,443.4 L130.8,443.6 L131.1,443.9 L131.4,444.1 L131.8,444.4 L132.1,444.6 L132.4,444.9 L132.8,445.1 L133.1,445.4 L133.4,445.6 L133.7,445.9 L134.1,446.1 L134.4,446.4 L134.7,446.6 L135.1,446.9 L135.4,447.1 L135.7,447.4 L136.0,447.6 L136.4,447.9 L136.7,448.1 L137.0,448.4 L137.4,448.6 L137.7,448.9 L138.0,449.1 L138.3,449.4 L138.7,449.6 L139.0,449.9 L139.3,450.1 L139.7,450.4 L140.0,450.6 L140.3,450.9 L140.7,451.1 L141.0,451.4 L141.3,451.6 L141.6,451.8 L142.0,452.1 L142.3,452.3 L142.6,452.6 L143.0,452.8 L143.3,453.1 L143.6,453.3 L143.9,453.6 L144.3,453.8 L144.6,454.1 L144.9,454.3 L145.3,454.6 L145.6,454.8 L145.9,455.1 L146.2,455.3 L146.6,455.6 L146.9,455.8 L147.2,456.1 L147.6,456.3 L147.9,456.6 L148.2,456.8 L148.6,457.1 L148.9,457.3 L149.2,457.6 L149.5,457.8 L149.9,458.1 L150.2,458.3 L150.5,458.6 L150.9,458.8 L151.2,459.1 L151.5,459.3 L151.8,459.6 L152.2,459.8 L152.5,460.0 L152.8,460.3 L153.2,460.5 L153.5,460.8 L153.8,461.0 L154.1,461.3 L154.5,461.5 L154.8,461.8 L155.1,462.0 L155.5,462.3 L155.8,462.5 L156.1,462.8 L156.4,463.0 L156.8,463.3 L157.1,463.5 L157.4,463.8 L157.8,464.0 L158.1,464.3 L158.4,464.5 L158.8,464.8 L159.1,465.0 L159.4,465.3 L159.7,465.5 L160.1,465.8 L160.4,466.0 L160.7,466.3 L161.1,466.5 L161.4,466.8 L161.7,467.0 L162.0,467.3 L162.4,467.5 L162.7,467.8 L163.0,468.0 L163.4,468.3 L163.7,468.5 L164.0,468.7 L164.3,469.0 L164.7,469.2 L165.0,469.5 L165.3,469.7 L165.7,470.0 L166.0,470.2 L166.3,470.5 L166.7,470.7 L167.0,471.0 L167.3,471.2 L167.6,471.5 L168.0,471.7 L168.3,472.0 L168.6,472.2 L169.0,472.5 L169.3,472.7 L169.6,473.0 L169.9,473.2 L170.3,473.5 L170.6,473.7 L170.9,474.0 L171.3,474.2 L171.6,474.5 L171.9,474.7 L172.2,475.0 L172.6,475.2 L172.9,475.5 L173.2,475.7 L173.6,476.0 L173.9,476.2 L174.2,476.5 L174.5,476.7 L174.9,477.0 L175.2,477.2 L175.5,477.4 L175.9,477.7 L176.2,477.9 L176.5,478.2 L176.9,478.4 L177.2,478.7 L177.5,478.9 L177.8,479.2 L178.2,479.4 L178.5,479.7 L178.8,479.9 L179.2,480.2 L179.5,480.4 L179.8,480.7 L180.1,480.9 L180.5,481.2 L180.8,481.4 L181.1,481.7 L181.5,481.9 L181.8,482.2 L182.1,482.4 L182.4,482.7 L182.8,482.9 L183.1,483.2 L183.4,483.4 L183.8,483.7 L184.1,483.9 L184.4,484.2 L184.8,484.4 L185.1,484.7 L185.4,484.9 L185.7,485.2 L186.1,485.4 L186.4,485.7 L186.7,485.9 L187.1,486.1 L187.4,486.4 L187.7,486.6 L188.0,486.9 L188.4,487.1 L188.7,487.4 L189.0,487.6 L189.4,487.9 L189.7,488.1 L190.0,488.4 L190.3,488.6 L190.7,488.9 L191.0,489.1 L191.3,489.4 L191.7,489.6 L192.0,489.9 L192.3,490.1 L192.7,490.4 L193.0,490.6 L193.3,490.9 L193.6,491.1 L194.0,491.4 L194.3,491.6 L194.6,491.9 L195.0,492.1 L195.3,492.4 L195.6,492.6 L195.9,492.9 L196.3,493.1 L196.6,493.4 L196.9,493.6 L197.3,493.9 L197.6,494.1 L197.9,494.4 L198.2,494.6 L198.6,494.8 L198.9,495.1 L199.2,495.3 L199.6,495.6 L199.9,495.8 L200.2,496.0 L200.5,496.2 L200.9,496.4 L201.2,496.6 L201.5,496.8 L201.9,497.0 L202.2,497.2 L202.5,497.5 L202.9,497.7 L203.2,498.0 L203.5,498.2 L203.8,498.5 L204.2,498.8 L204.5,499.0 L204.8,499.3 L205.2,499.6 L205.5,499.8 L205.8,500.1 L206.1,500.3 L206.5,500.6 L206.8,500.9 L207.1,501.1 L207.5,501.4 L207.8,501.7 L208.1,502.0 L208.4,502.3 L208.8,502.6 L209.1,502.9 L209.4,503.2 L209.8,503.5 L210.1,503.8 L210.4,504.1 L210.8,504.5 L211.1,504.8 L211.4,505.2 L211.7,505.6 L212.1,505.9 L212.4,506.3 L212.7,506.6 L213.1,507.0 L213.4,507.4 L213.7,507.8 L214.0,508.1 L214.4,508.4 L214.7,508.7 L215.0,509.0 L215.4,509.3 L215.7,509.5 L216.0,509.7 L216.3,509.9 L216.7,510.0 L217.0,510.2 L217.3,510.3 L217.7,510.4 L218.0,510.5 L218.3,510.5 L218.7,510.6 L219.0,510.6 L219.3,510.7 L219.6,510.7 L220.0,510.7 L220.3,510.8 L220.6,510.8 L221.0,510.8 L221.3,510.9 L221.6,510.9 L221.9,511.0 L222.3,511.0 L222.6,511.0 L222.9,511.1 L223.3,511.1 L223.6,511.1 L223.9,511.2 L224.2,511.2 L224.6,511.2 L224.9,511.2 L225.2,511.2 L225.6,511.3 L225.9,511.3 L226.2,511.4 L226.5,511.5 L226.9,511.6 L227.2,511.9 L227.5,512.4 L227.9,513.1 L228.2,514.0 L228.5,515.3 L228.9,517.0 L229.2,518.9 L229.5,521.1 L229.8,523.5 L230.2,525.8 L230.5,528.0 L230.8,530.0 L231.2,531.9 L231.5,533.5 L231.8,534.9 L232.1,535.9 L232.5,536.6 L232.8,536.8 L233.1,536.6 L233.5,536.0 L233.8,535.0 L234.1,533.7 L234.4,532.2 L234.8,530.5 L235.1,528.8 L235.4,526.9 L235.8,525.0 L236.1,522.8 L236.4,520.4 L236.8,517.9 L237.1,515.5 L237.4,513.3 L237.7,511.2 L238.1,509.2 L238.4,507.3 L238.7,505.4 L239.1,503.6 L239.4,501.8 L239.7,500.2 L240.0,498.9 L240.4,497.7 L240.7,496.7 L241.0,495.9 L241.4,495.2 L241.7,494.7 L242.0,494.3 L242.3,494.0 L242.7,493.7 L243.0,493.5 L243.3,493.3 L243.7,493.1 L244.0,493.0 L244.3,493.0 L244.7,492.9 L245.0,492.9 L245.3,492.9 L245.6,492.9 L246.0,492.8 L246.3,492.8 L246.6,492.7 L247.0,492.6 L247.3,492.3 L247.6,492.0 L247.9,491.7 L248.3,491.5 L248.6,491.2 L248.9,491.0 L249.3,490.7 L249.6,490.5 L249.9,490.3 L250.2,490.0 L250.6,489.8 L250.9,489.5 L251.2,489.3 L251.6,489.0 L251.9,488.8 L252.2,488.6 L252.5,488.3 L252.9,488.1 L253.2,487.8 L253.5,487.6 L253.9,487.3 L254.2,487.1 L254.5,486.9 L254.9,486.6 L255.2,486.4 L255.5,486.1 L255.8,485.9 L256.2,485.6 L256.5,485.4 L256.8,485.2 L257.2,484.9 L257.5,484.7 L257.8,484.4 L258.1,484.2 L258.5,483.9 L258.8,483.7 L259.1,483.5 L259.5,483.2 L259.8,483.0 L260.1,482.7 L260.4,482.5 L260.8,482.2 L261.1,482.0 L261.4,481.8 L261.8,481.5 L262.1,481.3 L262.4,481.0 L262.8,480.8 L263.1,480.5 L263.4,480.3 L263.7,480.1 L264.1,479.8 L264.4,479.6 L264.7,479.3 L265.1,479.1 L265.4,478.8 L265.7,478.6 L266.0,478.4 L266.4,478.1 L266.7,477.9 L267.0,477.6 L267.4,477.4 L267.7,477.1 L268.0,476.9 L268.3,476.7 L268.7,476.4 L269.0,476.2 L269.3,475.9 L269.7,475.7 L270.0,475.4 L270.3,475.2 L270.7,475.0 L271.0,474.7 L271.3,474.5 L271.6,474.2 L272.0,474.0 L272.3,473.7 L272.6,473.5 L273.0,473.3 L273.3,473.0 L273.6,472.8 L273.9,472.5 L274.3,472.3 L274.6,472.0 L274.9,471.8 L275.3,471.6 L275.6,471.3 L275.9,471.1 L276.2,470.8 L276.6,470.6 L276.9,470.3 L277.2,470.1 L277.6,469.9 L277.9,469.6 L278.2,469.4 L278.5,469.1 L278.9,468.9 L279.2,468.6 L279.5,468.4 L279.9,468.2 L280.2,467.9 L280.5,467.7 L280.9,467.4 L281.2,467.2 L281.5,466.9 L281.8,466.7 L282.2,466.5 L282.5,466.2 L282.8,466.0 L283.2,465.7 L283.5,465.5 L283.8,465.3 L284.1,465.0 L284.5,464.8 L284.8,464.5 L285.1,464.3 L285.5,464.0 L285.8,463.8 L286.1,463.6 L286.4,463.3 L286.8,463.1 L287.1,462.8 L287.4,462.6 L287.8,462.3 L288.1,462.1 L288.4,461.9 L288.8,461.6 L289.1,461.4 L289.4,461.1 L289.7,460.9 L290.1,460.6 L290.4,460.4 L290.7,460.2 L291.1,459.9 L291.4,459.7 L291.7,459.4 L292.0,459.2 L292.4,458.9 L292.7,458.7 L293.0,458.5 L293.4,458.2 L293.7,458.0 L294.0,457.7 L294.3,457.5 L294.7,457.2 L295.0,457.0 L295.3,456.8 L295.7,456.5 L296.0,456.3 L296.3,456.0 L296.6,455.8 L297.0,455.5 L297.3,455.3 L297.6,455.1 L298.0,454.8 L298.3,454.6 L298.6,454.3 L299.0,454.1 L299.3,453.8 L299.6,453.6 L299.9,453.4 L300.3,453.1 L300.6,452.9 L300.9,452.6 L301.3,452.4 L301.6,452.1 L301.9,451.9 L302.2,451.7 L302.6,451.4 L302.9,451.2 L303.2,450.9 L303.6,450.7 L303.9,450.4 L304.2,450.2 L304.5,450.0 L304.9,449.7 L305.2,449.5 L305.5,449.2 L305.9,449.0 L306.2,448.7 L306.5,448.5 L306.9,448.3 L307.2,448.0 L307.5,447.8 L307.8,447.5 L308.2,447.3 L308.5,447.0 L308.8,446.8 L309.2,446.6 L309.5,446.3 L309.8,446.1 L310.1,445.8 L310.5,445.6 L310.8,445.3 L311.1,445.1 L311.5,444.9 L311.8,444.6 L312.1,444.4 L312.4,444.1 L312.8,443.9 L313.1,443.6 L313.4,443.4 L313.8,443.2 L314.1,442.9 L314.4,442.7 L314.8,442.4 L315.1,442.2 L315.4,441.9 L315.7,441.7 L316.1,441.5 L316.4,441.2 L316.7,441.0 L317.1,440.7 L317.4,440.5 L317.7,440.2 L318.0,440.0 L318.4,439.8 L318.7,439.5 L319.0,439.3 L319.4,439.0 L319.7,438.8 L320.0,438.5 L320.3,438.3 L320.7,438.1 L321.0,437.8 L321.3,437.6 L321.7,437.3 L322.0,437.1 L322.3,436.8 L322.6,436.6 L323.0,436.4 L323.3,436.1 L323.6,435.9 L324.0,435.6 L324.3,435.4 L324.6,435.1 L325.0,434.9 L325.3,434.7 L325.6,434.4 L325.9,434.2 L326.3,433.9 L326.6,433.7 L326.9,433.4 L327.3,433.2 L327.6,433.0 L327.9,432.7 L328.2,432.5 L328.6,432.2 L328.9,432.0 L329.2,431.7 L329.6,431.5 L329.9,431.3 L330.2,431.0 L330.5,430.8 L330.9,430.5 L331.2,430.3 L331.5,430.0 L331.9,429.8 L332.2,429.6 L332.5,429.3 L332.9,429.1 L333.2,428.8 L333.5,428.6 L333.8,428.3 L334.2,428.1 L334.5,427.9 L334.8,427.6 L335.2,427.4 L335.5,427.1 L335.8,426.9 L336.1,426.6 L336.5,426.4 L336.8,426.2 L337.1,425.9 L337.5,425.7 L337.8,425.4 L338.1,425.2 L338.4,424.9 L338.8,424.7 L339.1,424.5 L339.4,424.2 L339.8,424.0 L340.1,423.7 L340.4,423.5 L340.8,423.2 L341.1,423.0 L341.4,422.8 L341.7,422.5 L342.1,422.3 L342.4,422.0 L342.7,421.8 L343.1,421.5 L343.4,421.3 L343.7,421.1 L344.0,420.8 L344.4,420.6 L344.7,420.3 L345.0,420.1 L345.4,419.8 L345.7,419.6 L346.0,419.4 L346.3,419.1 L346.7,418.9 L347.0,418.6 L347.3,418.4 L347.7,418.1 L348.0,417.9 L348.3,417.7 L348.6,417.4 L349.0,417.2 L349.3,416.9 L349.6,416.7 L350.0,416.4 L350.3,416.2 L350.6,416.0 L351.0,415.7 L351.3,415.5 L351.6,415.2 L351.9,415.0 L352.3,414.7 L352.6,414.5 L352.9,414.3 L353.3,414.0 L353.6,413.8 L353.9,413.5 L354.2,413.3 L354.6,413.0 L354.9,412.8 L355.2,412.6 L355.6,412.3 L355.9,412.1 L356.2,411.8 L356.5,411.6 L356.9,411.3 L357.2,411.1 L357.5,410.9 L357.9,410.6 L358.2,410.4 L358.5,410.1 L358.9,409.9 L359.2,409.6 L359.5,409.4 L359.8,409.2 L360.2,408.9 L360.5,408.7 L360.8,408.4 L361.2,408.2 L361.5,407.9 L361.8,407.7 L362.1,407.5 L362.5,407.2 L362.8,407.0 L363.1,406.7 L363.5,406.5 L363.8,406.2 L364.1,406.0 L364.4,405.8 L364.8,405.5 L365.1,405.3 L365.4,405.0 L365.8,404.8 L366.1,404.5 L366.4,404.3 L366.8,404.1 L367.1,403.8 L367.4,403.6 L367.7,403.4 L368.1,403.1 L368.4,402.9 L368.7,402.7 L369.1,402.5 L369.4,402.4 L369.7,402.3 L370.0,402.2 L370.4,402.1 L370.7,402.1 L371.0,402.1 L371.4,402.2 L371.7,402.3 L372.0,402.4 L372.3,402.6 L372.7,402.8 L373.0,403.0 L373.3,403.2 L373.7,403.4 L374.0,403.6 L374.3,403.9 L374.6,404.1 L375.0,404.4 L375.3,404.6 L375.6,404.9 L376.0,405.1 L376.3,405.4 L376.6,405.6 L377.0,405.9 L377.3,406.1 L377.6,406.4 L377.9,406.6 L378.3,406.9 L378.6,407.1 L378.9,407.4 L379.3,407.6 L379.6,407.9 L379.9,408.1 L380.2,408.3 L380.6,408.6 L380.9,408.8 L381.2,409.1 L381.6,409.3 L381.9,409.6 L382.2,409.8 L382.5,410.1 L382.9,410.3 L383.2,410.6 L383.5,410.8 L383.9,411.1 L384.2,411.3 L384.5,411.6 L384.9,411.8 L385.2,412.1 L385.5,412.3 L385.8,412.6 L386.2,412.8 L386.5,413.1 L386.8,413.3 L387.2,413.6 L387.5,413.8 L387.8,414.1 L388.1,414.3 L388.5,414.6 L388.8,414.8 L389.1,415.1 L389.5,415.3 L389.8,415.6 L390.1,415.8 L390.4,416.1 L390.8,416.3 L391.1,416.6 L391.4,416.8 L391.8,417.0 L392.1,417.3 L392.4,417.5 L392.8,417.8 L393.1,418.0 L393.4,418.3 L393.7,418.5 L394.1,418.8 L394.4,419.0 L394.7,419.3 L395.1,419.5 L395.4,419.8 L395.7,420.0 L396.0,420.3 L396.4,420.5 L396.7,420.8 L397.0,421.0 L397.4,421.3 L397.7,421.5 L398.0,421.8 L398.3,422.0 L398.7,422.3 L399.0,422.5 L399.3,422.8 L399.7,423.0 L400.0,423.3 L400.3,423.5 L400.6,423.8 L401.0,424.0 L401.3,424.3 L401.6,424.5 L402.0,424.8 L402.3,425.0 L402.6,425.3 L403.0,425.5 L403.3,425.7 L403.6,426.0 L403.9,426.2 L404.3,426.5 L404.6,426.7 L404.9,427.0 L405.3,427.2 L405.6,427.5 L405.9,427.7 L406.2,428.0 L406.6,428.2 L406.9,428.5 L407.2,428.7 L407.6,429.0 L407.9,429.2 L408.2,429.5 L408.5,429.7 L408.9,430.0 L409.2,430.2 L409.5,430.5 L409.9,430.7 L410.2,431.0 L410.5,431.2 L410.9,431.5 L411.2,431.7 L411.5,432.0 L411.8,432.2 L412.2,432.5 L412.5,432.7 L412.8,433.0 L413.2,433.2 L413.5,433.5 L413.8,433.7 L414.1,434.0 L414.5,434.2 L414.8,434.4 L415.1,434.7 L415.5,434.9 L415.8,435.2 L416.1,435.4 L416.4,435.7 L416.8,435.9 L417.1,436.2 L417.4,436.4 L417.8,436.7 L418.1,436.9 L418.4,437.2 L418.8,437.4 L419.1,437.7 L419.4,437.9 L419.7,438.2 L420.1,438.4 L420.4,438.7 L420.7,438.9 L421.1,439.2 L421.4,439.4 L421.7,439.7 L422.0,439.9 L422.4,440.2 L422.7,440.4 L423.0,440.7 L423.4,440.9 L423.7,441.2 L424.0,441.4 L424.3,441.7 L424.7,441.9 L425.0,442.2 L425.3,442.4 L425.7,442.7 L426.0,442.9 L426.3,443.1 L426.6,443.4 L427.0,443.6 L427.3,443.9 L427.6,444.1 L428.0,444.4 L428.3,444.6 L428.6,444.9 L429.0,445.1 L429.3,445.4 L429.6,445.6 L429.9,445.9 L430.3,446.1 L430.6,446.4 L430.9,446.6 L431.3,446.9 L431.6,447.1 L431.9,447.4 L432.2,447.6 L432.6,447.9 L432.9,448.1 L433.2,448.4 L433.6,448.6 L433.9,448.9 L434.2,449.1 L434.5,449.4 L434.9,449.6 L435.2,449.9 L435.5,450.1 L435.9,450.4 L436.2,450.6 L436.5,450.9 L436.9,451.1 L437.2,451.4 L437.5,451.6 L437.8,451.8 L438.2,452.1 L438.5,452.3 L438.8,452.6 L439.2,452.8 L439.5,453.1 L439.8,453.3 L440.1,453.6 L440.5,453.8 L440.8,454.1 L441.1,454.3 L441.5,454.6 L441.8,454.8 L442.1,455.1 L442.4,455.3 L442.8,455.6 L443.1,455.8 L443.4,456.1 L443.8,456.3 L444.1,456.6 L444.4,456.8 L444.8,457.1 L445.1,457.3 L445.4,457.6 L445.7,457.8 L446.1,458.1 L446.4,458.3 L446.7,458.6 L447.1,458.8 L447.4,459.1 L447.7,459.3 L448.0,459.6 L448.4,459.8 L448.7,460.0 L449.0,460.3 L449.4,460.5 L449.7,460.8 L450.0,461.0 L450.3,461.3 L450.7,461.5 L451.0,461.8 L451.3,462.0 L451.7,462.3 L452.0,462.5 L452.3,462.8 L452.6,463.0 L453.0,463.3 L453.3,463.5 L453.6,463.8 L454.0,464.0 L454.3,464.3 L454.6,464.5 L455.0,464.8 L455.3,465.0 L455.6,465.3 L455.9,465.5 L456.3,465.8 L456.6,466.0 L456.9,466.3 L457.3,466.5 L457.6,466.8 L457.9,467.0 L458.2,467.3 L458.6,467.5 L458.9,467.8 L459.2,468.0 L459.6,468.3 L459.9,468.5 L460.2,468.7 L460.5,469.0 L460.9,469.2 L461.2,469.5 L461.5,469.7 L461.9,470.0 L462.2,470.2 L462.5,470.5 L462.9,470.7 L463.2,471.0 L463.5,471.2 L463.8,471.5 L464.2,471.7 L464.5,472.0 L464.8,472.2 L465.2,472.5 L465.5,472.7 L465.8,473.0 L466.1,473.2 L466.5,473.5 L466.8,473.7 L467.1,474.0 L467.5,474.2 L467.8,474.5 L468.1,474.7 L468.4,475.0 L468.8,475.2 L469.1,475.5 L469.4,475.7 L469.8,476.0 L470.1,476.2 L470.4,476.5 L470.7,476.7 L471.1,477.0 L471.4,477.2 L471.7,477.4 L472.1,477.7 L472.4,477.9 L472.7,478.2 L473.1,478.4 L473.4,478.7 L473.7,478.9 L474.0,479.2 L474.4,479.4 L474.7,479.7 L475.0,479.9 L475.4,480.2 L475.7,480.4 L476.0,480.7 L476.3,480.9 L476.7,481.2 L477.0,481.4 L477.3,481.7 L477.7,481.9 L478.0,482.2 L478.3,482.4 L478.6,482.7 L479.0,482.9 L479.3,483.2 L479.6,483.4 L480.0,483.7 L480.3,483.9 L480.6,484.2 L481.0,484.4 L481.3,484.7 L481.6,484.9 L481.9,485.2 L482.3,485.4 L482.6,485.7 L482.9,485.9 L483.3,486.1 L483.6,486.4 L483.9,486.6 L484.2,486.9 L484.6,487.1 L484.9,487.4 L485.2,487.6 L485.6,487.9 L485.9,488.1 L486.2,488.4 L486.5,488.6 L486.9,488.9 L487.2,489.1 L487.5,489.4 L487.9,489.6 L488.2,489.9 L488.5,490.1 L488.9,490.4 L489.2,490.6 L489.5,490.9 L489.8,491.1 L490.2,491.4 L490.5,491.6 L490.8,491.9 L491.2,492.1 L491.5,492.4 L491.8,492.6 L492.1,492.9 L492.5,493.1 L492.8,493.4 L493.1,493.6 L493.5,493.9 L493.8,494.1 L494.1,494.4 L494.4,494.6 L494.8,494.8 L495.1,495.1 L495.4,495.3 L495.8,495.6 L496.1,495.8 L496.4,496.0 L496.7,496.2 L497.1,496.4 L497.4,496.6 L497.7,496.8 L498.1,497.0 L498.4,497.2 L498.7,497.5 L499.1,497.7 L499.4,498.0 L499.7,498.2 L500.0,498.5 L500.4,498.8 L500.7,499.0 L501.0,499.3 L501.4,499.6 L501.7,499.8 L502.0,500.1 L502.3,500.3 L502.7,500.6 L503.0,500.9 L503.3,501.1 L503.7,501.4 L504.0,501.7 L504.3,502.0 L504.6,502.3 L505.0,502.6 L505.3,502.9 L505.6,503.2 L506.0,503.5 L506.3,503.8 L506.6,504.1 L507.0,504.5 L507.3,504.8 L507.6,505.2 L507.9,505.6 L508.3,505.9 L508.6,506.3 L508.9,506.6 L509.3,507.0 L509.6,507.4 L509.9,507.8 L510.2,508.1 L510.6,508.4 L510.9,508.7 L511.2,509.0 L511.6,509.3 L511.9,509.5 L512.2,509.7 L512.5,509.9 L512.9,510.0 L513.2,510.2 L513.5,510.3 L513.9,510.4 L514.2,510.5 L514.5,510.5 L514.9,510.6 L515.2,510.6 L515.5,510.7 L515.8,510.7 L516.2,510.7 L516.5,510.8 L516.8,510.8 L517.2,510.8 L517.5,510.9 L517.8,510.9 L518.1,511.0 L518.5,511.0 L518.8,511.0 L519.1,511.1 L519.5,511.1 L519.8,511.1 L520.1,511.2 L520.4,511.2 L520.8,511.2 L521.1,511.2 L521.4,511.2 L521.8,511.3 L522.1,511.3 L522.4,511.4 L522.7,511.5 L523.1,511.6 L523.4,511.9 L523.7,512.4 L524.1,513.1 L524.4,514.0 L524.7,515.3 L525.1,517.0 L525.4,518.9 L525.7,521.1 L526.0,523.5 L526.4,525.8 L526.7,528.0 L527.0,530.0 L527.4,531.9 L527.7,533.5 L528.0,534.9 L528.3,535.9 L528.7,536.6 L529.0,536.8 L529.3,536.6 L529.7,536.0 L530.0,535.0 L530.3,533.7 L530.6,532.2 L531.0,530.5 L531.3,528.8 L531.6,526.9 L532.0,525.0 L532.3,522.8 L532.6,520.4 L533.0,517.9 L533.3,515.5 L533.6,513.3 L533.9,511.2 L534.3,509.2 L534.6,507.3 L534.9,505.4 L535.3,503.6 L535.6,501.8 L535.9,500.2 L536.2,498.9 L536.6,497.7 L536.9,496.7 L537.2,495.9 L537.6,495.2 L537.9,494.7 L538.2,494.3 L538.5,494.0 L538.9,493.7 L539.2,493.5 L539.5,493.3 L539.9,493.1 L540.2,493.0 L540.5,493.0 L540.9,492.9 L541.2,492.9 L541.5,492.9 L541.8,492.9 L542.2,492.8 L542.5,492.8 L542.8,492.7 L543.2,492.6 L543.5,492.3 L543.8,492.0 L544.1,491.7 L544.5,491.5 L544.8,491.2 L545.1,491.0 L545.5,490.7 L545.8,490.5 L546.1,490.3 L546.4,490.0 L546.8,489.8 L547.1,489.5 L547.4,489.3 L547.8,489.0 L548.1,488.8 L548.4,488.6 L548.7,488.3 L549.1,488.1 L549.4,487.8 L549.7,487.6 L550.1,487.3 L550.4,487.1 L550.7,486.9 L551.1,486.6 L551.4,486.4 L551.7,486.1 L552.0,485.9 L552.4,485.6 L552.7,485.4 L553.0,485.2 L553.4,484.9 L553.7,484.7 L554.0,484.4 L554.3,484.2 L554.7,483.9 L555.0,483.7 L555.3,483.5 L555.7,483.2 L556.0,483.0 L556.3,482.7 L556.6,482.5 L557.0,482.2 L557.3,482.0 L557.6,481.8 L558.0,481.5 L558.3,481.3 L558.6,481.0 L559.0,480.8 L559.3,480.5 L559.6,480.3 L559.9,480.1 L560.3,479.8 L560.6,479.6 L560.9,479.3 L561.3,479.1 L561.6,478.8 L561.9,478.6 L562.2,478.4 L562.6,478.1 L562.9,477.9 L563.2,477.6 L563.6,477.4 L563.9,477.1 L564.2,476.9 L564.5,476.7 L564.9,476.4 L565.2,476.2 L565.5,475.9 L565.9,475.7 L566.2,475.4 L566.5,475.2 L566.9,475.0 L567.2,474.7 L567.5,474.5 L567.8,474.2 L568.2,474.0 L568.5,473.7 L568.8,473.5 L569.2,473.3 L569.5,473.0 L569.8,472.8 L570.1,472.5 L570.5,472.3 L570.8,472.0 L571.1,471.8 L571.5,471.6 L571.8,471.3 L572.1,471.1 L572.4,470.8 L572.8,470.6 L573.1,470.3 L573.4,470.1 L573.8,469.9 L574.1,469.6 L574.4,469.4 L574.7,469.1 L575.1,468.9 L575.4,468.6 L575.7,468.4 L576.1,468.2 L576.4,467.9 L576.7,467.7 L577.1,467.4 L577.4,467.2 L577.7,466.9 L578.0,466.7 L578.4,466.5 L578.7,466.2 L579.0,466.0 L579.4,465.7 L579.7,465.5 L580.0,465.3 L580.3,465.0 L580.7,464.8 L581.0,464.5 L581.3,464.3 L581.7,464.0 L582.0,463.8 L582.3,463.6 L582.6,463.3 L583.0,463.1 L583.3,462.8 L583.6,462.6 L584.0,462.3 L584.3,462.1 L584.6,461.9 L585.0,461.6 L585.3,461.4 L585.6,461.1 L585.9,460.9 L586.3,460.6 L586.6,460.4 L586.9,460.2 L587.3,459.9 L587.6,459.7 L587.9,459.4 L588.2,459.2 L588.6,458.9 L588.9,458.7 L589.2,458.5 L589.6,458.2 L589.9,458.0 L590.2,457.7 L590.5,457.5 L590.9,457.2 L591.2,457.0 L591.5,456.8 L591.9,456.5 L592.2,456.3 L592.5,456.0 L592.9,455.8 L593.2,455.5 L593.5,455.3 L593.8,455.1 L594.2,454.8 L594.5,454.6 L594.8,454.3 L595.2,454.1 L595.5,453.8 L595.8,453.6 L596.1,453.4 L596.5,453.1 L596.8,452.9 L597.1,452.6 L597.5,452.4 L597.8,452.1 L598.1,451.9 L598.4,451.7 L598.8,451.4 L599.1,451.2 L599.4,450.9 L599.8,450.7 L600.1,450.4 L600.4,450.2 L600.7,450.0 L601.1,449.7 L601.4,449.5 L601.7,449.2 L602.1,449.0 L602.4,448.7 L602.7,448.5 L603.1,448.3 L603.4,448.0 L603.7,447.8 L604.0,447.5 L604.4,447.3 L604.7,447.0 L605.0,446.8 L605.4,446.6 L605.7,446.3 L606.0,446.1 L606.3,445.8 L606.7,445.6 L607.0,445.3 L607.3,445.1 L607.7,444.9 L608.0,444.6 L608.3,444.4 L608.6,444.1 L609.0,443.9 L609.3,443.6 L609.6,443.4 L610.0,443.2 L610.3,442.9 L610.6,442.7 L611.0,442.4 L611.3,442.2 L611.6,441.9 L611.9,441.7 L612.3,441.5 L612.6,441.2 L612.9,441.0 L613.3,440.7 L613.6,440.5 L613.9,440.2 L614.2,440.0 L614.6,439.8 L614.9,439.5 L615.2,439.3 L615.6,439.0 L615.9,438.8 L616.2,438.5 L616.5,438.3 L616.9,438.1 L617.2,437.8 L617.5,437.6 L617.9,437.3 L618.2,437.1 L618.5,436.8 L618.8,436.6 L619.2,436.4 L619.5,436.1 L619.8,435.9 L620.2,435.6 L620.5,435.4 L620.8,435.1 L621.2,434.9 L621.5,434.7 L621.8,434.4 L622.1,434.2 L622.5,433.9 L622.8,433.7 L623.1,433.4 L623.5,433.2 L623.8,433.0 L624.1,432.7 L624.4,432.5 L624.8,432.2 L625.1,432.0 L625.4,431.7 L625.8,431.5 L626.1,431.3 L626.4,431.0 L626.7,430.8 L627.1,430.5 L627.4,430.3 L627.7,430.0 L628.1,429.8 L628.4,429.6 L628.7,429.3 L629.1,429.1 L629.4,428.8 L629.7,428.6 L630.0,428.3 L630.4,428.1 L630.7,427.9 L631.0,427.6 L631.4,427.4 L631.7,427.1 L632.0,426.9 L632.3,426.6 L632.7,426.4 L633.0,426.2 L633.3,425.9 L633.7,425.7 L634.0,425.4 L634.3,425.2 L634.6,424.9 L635.0,424.7 L635.3,424.5 L635.6,424.2 L636.0,424.0 L636.3,423.7 L636.6,423.5 L637.0,423.2 L637.3,423.0 L637.6,422.8 L637.9,422.5 L638.3,422.3 L638.6,422.0 L638.9,421.8 L639.3,421.5 L639.6,421.3 L639.9,421.1 L640.2,420.8 L640.6,420.6 L640.9,420.3 L641.2,420.1 L641.6,419.8 L641.9,419.6 L642.2,419.4 L642.5,419.1 L642.9,418.9 L643.2,418.6 L643.5,418.4 L643.9,418.1 L644.2,417.9 L644.5,417.7 L644.8,417.4 L645.2,417.2 L645.5,416.9 L645.8,416.7 L646.2,416.4 L646.5,416.2 L646.8,416.0 L647.2,415.7 L647.5,415.5 L647.8,415.2 L648.1,415.0 L648.5,414.7 L648.8,414.5 L649.1,414.3 L649.5,414.0 L649.8,413.8 L650.1,413.5 L650.4,413.3 L650.8,413.0 L651.1,412.8 L651.4,412.6 L651.8,412.3 L652.1,412.1 L652.4,411.8 L652.7,411.6 L653.1,411.3 L653.4,411.1 L653.7,410.9 L654.1,410.6 L654.4,410.4 L654.7,410.1 L655.1,409.9 L655.4,409.6 L655.7,409.4 L656.0,409.2 L656.4,408.9 L656.7,408.7 L657.0,408.4 L657.4,408.2 L657.7,407.9 L658.0,407.7 L658.3,407.5 L658.7,407.2 L659.0,407.0 L659.3,406.7 L659.7,406.5 L660.0,406.2 L660.3,406.0 L660.6,405.8 L661.0,405.5 L661.3,405.3 L661.6,405.0 L662.0,404.8 L662.3,404.5 L662.6,404.3 L663.0,404.1 L663.3,403.8 L663.6,403.6 L663.9,403.4 L664.3,403.1 L664.6,402.9 L664.9,402.7 L665.3,402.5 L665.6,402.4 L665.9,402.3 L666.2,402.2 L666.6,402.1 L666.9,402.1" stroke="#05B4A6" stroke-width="3.3"/><path d="M74.5,330.0 L74.8,330.0 L75.2,330.1 L75.5,330.2 L75.8,330.4 L76.1,330.7 L76.5,331.0 L76.8,331.3 L77.1,331.7 L77.5,332.0 L77.8,332.4 L78.1,332.8 L78.4,333.2 L78.8,333.6 L79.1,334.0 L79.4,334.4 L79.8,334.8 L80.1,335.2 L80.4,335.6 L80.8,336.0 L81.1,336.4 L81.4,336.8 L81.7,337.3 L82.1,337.7 L82.4,338.1 L82.7,338.5 L83.1,338.9 L83.4,339.3 L83.7,339.7 L84.0,340.1 L84.4,340.5 L84.7,340.9 L85.0,341.3 L85.4,341.7 L85.7,342.1 L86.0,342.5 L86.3,342.9 L86.7,343.3 L87.0,343.7 L87.3,344.1 L87.7,344.5 L88.0,344.9 L88.3,345.3 L88.7,345.7 L89.0,346.1 L89.3,346.5 L89.6,347.0 L90.0,347.4 L90.3,347.8 L90.6,348.2 L91.0,348.6 L91.3,349.0 L91.6,349.4 L91.9,349.8 L92.3,350.2 L92.6,350.6 L92.9,351.0 L93.3,351.4 L93.6,351.8 L93.9,352.2 L94.2,352.6 L94.6,353.0 L94.9,353.4 L95.2,353.8 L95.6,354.2 L95.9,354.6 L96.2,355.0 L96.6,355.4 L96.9,355.8 L97.2,356.2 L97.5,356.7 L97.9,357.1 L98.2,357.5 L98.5,357.9 L98.9,358.3 L99.2,358.7 L99.5,359.1 L99.8,359.5 L100.2,359.9 L100.5,360.3 L100.8,360.7 L101.2,361.1 L101.5,361.5 L101.8,361.9 L102.1,362.3 L102.5,362.7 L102.8,363.1 L103.1,363.5 L103.5,363.9 L103.8,364.3 L104.1,364.7 L104.4,365.1 L104.8,365.5 L105.1,365.9 L105.4,366.3 L105.8,366.8 L106.1,367.2 L106.4,367.6 L106.8,368.0 L107.1,368.4 L107.4,368.8 L107.7,369.2 L108.1,369.6 L108.4,370.0 L108.7,370.4 L109.1,370.8 L109.4,371.2 L109.7,371.6 L110.0,372.0 L110.4,372.4 L110.7,372.8 L111.0,373.2 L111.4,373.6 L111.7,374.0 L112.0,374.4 L112.3,374.8 L112.7,375.2 L113.0,375.6 L113.3,376.0 L113.7,376.5 L114.0,376.9 L114.3,377.3 L114.7,377.7 L115.0,378.1 L115.3,378.5 L115.6,378.9 L116.0,379.3 L116.3,379.7 L116.6,380.1 L117.0,380.5 L117.3,380.9 L117.6,381.3 L117.9,381.7 L118.3,382.1 L118.6,382.5 L118.9,382.9 L119.3,383.3 L119.6,383.7 L119.9,384.1 L120.2,384.5 L120.6,384.9 L120.9,385.3 L121.2,385.7 L121.6,386.2 L121.9,386.6 L122.2,387.0 L122.6,387.4 L122.9,387.8 L123.2,388.2 L123.5,388.6 L123.9,389.0 L124.2,389.4 L124.5,389.8 L124.9,390.2 L125.2,390.6 L125.5,391.0 L125.8,391.4 L126.2,391.8 L126.5,392.2 L126.8,392.6 L127.2,393.0 L127.5,393.4 L127.8,393.8 L128.1,394.2 L128.5,394.6 L128.8,395.0 L129.1,395.4 L129.5,395.9 L129.8,396.3 L130.1,396.7 L130.4,397.1 L130.8,397.5 L131.1,397.9 L131.4,398.3 L131.8,398.7 L132.1,399.1 L132.4,399.5 L132.8,399.9 L133.1,400.3 L133.4,400.7 L133.7,401.1 L134.1,401.5 L134.4,401.9 L134.7,402.3 L135.1,402.7 L135.4,403.1 L135.7,403.5 L136.0,403.9 L136.4,404.3 L136.7,404.7 L137.0,405.1 L137.4,405.6 L137.7,406.0 L138.0,406.4 L138.3,406.8 L138.7,407.2 L139.0,407.6 L139.3,408.0 L139.7,408.4 L140.0,408.8 L140.3,409.2 L140.7,409.6 L141.0,410.0 L141.3,410.4 L141.6,410.8 L142.0,411.2 L142.3,411.6 L142.6,412.0 L143.0,412.4 L143.3,412.8 L143.6,413.2 L143.9,413.6 L144.3,414.0 L144.6,414.4 L144.9,414.8 L145.3,415.2 L145.6,415.7 L145.9,416.1 L146.2,416.5 L146.6,416.9 L146.9,417.3 L147.2,417.7 L147.6,418.1 L147.9,418.5 L148.2,418.9 L148.6,419.3 L148.9,419.7 L149.2,420.1 L149.5,420.5 L149.9,420.9 L150.2,421.3 L150.5,421.7 L150.9,422.1 L151.2,422.5 L151.5,422.9 L151.8,423.3 L152.2,423.7 L152.5,424.1 L152.8,424.5 L153.2,424.9 L153.5,425.4 L153.8,425.8 L154.1,426.2 L154.5,426.6 L154.8,427.0 L155.1,427.4 L155.5,427.8 L155.8,428.2 L156.1,428.6 L156.4,429.0 L156.8,429.4 L157.1,429.8 L157.4,430.2 L157.8,430.6 L158.1,431.0 L158.4,431.4 L158.8,431.8 L159.1,432.2 L159.4,432.6 L159.7,433.0 L160.1,433.4 L160.4,433.8 L160.7,434.2 L161.1,434.6 L161.4,435.1 L161.7,435.5 L162.0,435.9 L162.4,436.3 L162.7,436.7 L163.0,437.1 L163.4,437.5 L163.7,437.9 L164.0,438.3 L164.3,438.7 L164.7,439.1 L165.0,439.5 L165.3,439.9 L165.7,440.3 L166.0,440.7 L166.3,441.1 L166.7,441.5 L167.0,441.9 L167.3,442.3 L167.6,442.7 L168.0,443.1 L168.3,443.5 L168.6,443.9 L169.0,444.3 L169.3,444.8 L169.6,445.2 L169.9,445.6 L170.3,446.0 L170.6,446.4 L170.9,446.8 L171.3,447.2 L171.6,447.6 L171.9,448.0 L172.2,448.4 L172.6,448.8 L172.9,449.2 L173.2,449.6 L173.6,450.0 L173.9,450.4 L174.2,450.8 L174.5,451.2 L174.9,451.6 L175.2,452.0 L175.5,452.4 L175.9,452.8 L176.2,453.2 L176.5,453.6 L176.9,454.0 L177.2,454.5 L177.5,454.9 L177.8,455.3 L178.2,455.7 L178.5,456.1 L178.8,456.5 L179.2,456.9 L179.5,457.3 L179.8,457.7 L180.1,458.1 L180.5,458.5 L180.8,458.9 L181.1,459.3 L181.5,459.7 L181.8,460.1 L182.1,460.5 L182.4,460.9 L182.8,461.3 L183.1,461.7 L183.4,462.1 L183.8,462.5 L184.1,462.9 L184.4,463.3 L184.8,463.7 L185.1,464.1 L185.4,464.6 L185.7,465.0 L186.1,465.4 L186.4,465.8 L186.7,466.2 L187.1,466.6 L187.4,467.0 L187.7,467.4 L188.0,467.8 L188.4,468.2 L188.7,468.6 L189.0,469.0 L189.4,469.4 L189.7,469.8 L190.0,470.2 L190.3,470.6 L190.7,471.0 L191.0,471.4 L191.3,471.8 L191.7,472.2 L192.0,472.6 L192.3,473.0 L192.7,473.4 L193.0,473.8 L193.3,474.3 L193.6,474.7 L194.0,475.1 L194.3,475.5 L194.6,475.9 L195.0,476.3 L195.3,476.7 L195.6,477.1 L195.9,477.5 L196.3,477.9 L196.6,478.3 L196.9,478.7 L197.3,479.1 L197.6,479.5 L197.9,479.9 L198.2,480.3 L198.6,480.7 L198.9,481.1 L199.2,481.5 L199.6,481.9 L199.9,482.4 L200.2,482.8 L200.5,483.2 L200.9,483.6 L201.2,484.1 L201.5,484.5 L201.9,485.0 L202.2,485.5 L202.5,486.0 L202.9,486.4 L203.2,486.9 L203.5,487.4 L203.8,487.9 L204.2,488.4 L204.5,489.0 L204.8,489.5 L205.2,490.0 L205.5,490.6 L205.8,491.1 L206.1,491.7 L206.5,492.2 L206.8,492.8 L207.1,493.4 L207.5,494.0 L207.8,494.5 L208.1,495.1 L208.4,495.8 L208.8,496.4 L209.1,497.0 L209.4,497.7 L209.8,498.3 L210.1,499.0 L210.4,499.6 L210.8,500.3 L211.1,500.9 L211.4,501.6 L211.7,502.2 L212.1,502.9 L212.4,503.5 L212.7,504.2 L213.1,504.8 L213.4,505.5 L213.7,506.1 L214.0,506.6 L214.4,507.2 L214.7,507.7 L215.0,508.2 L215.4,508.6 L215.7,509.0 L216.0,509.3 L216.3,509.6 L216.7,509.9 L217.0,510.1 L217.3,510.2 L217.7,510.4 L218.0,510.4 L218.3,510.5 L218.7,510.6 L219.0,510.6 L219.3,510.7 L219.6,510.7 L220.0,510.7 L220.3,510.8 L220.6,510.8 L221.0,510.8 L221.3,510.9 L221.6,510.9 L221.9,511.0 L222.3,511.0 L222.6,511.0 L222.9,511.1 L223.3,511.1 L223.6,511.1 L223.9,511.2 L224.2,511.2 L224.6,511.2 L224.9,511.2 L225.2,511.2 L225.6,511.3 L225.9,511.3 L226.2,511.4 L226.5,511.5 L226.9,511.6 L227.2,511.9 L227.5,512.4 L227.9,513.1 L228.2,514.0 L228.5,515.3 L228.9,516.9 L229.2,518.8 L229.5,521.0 L229.8,523.4 L230.2,525.9 L230.5,528.5 L230.8,531.1 L231.2,533.7 L231.5,536.3 L231.8,538.9 L232.1,541.3 L232.5,543.4 L232.8,545.2 L233.1,546.5 L233.5,547.4 L233.8,548.0 L234.1,548.1 L234.4,547.9 L234.8,547.3 L235.1,546.4 L235.4,545.0 L235.8,543.4 L236.1,541.5 L236.4,539.4 L236.8,537.1 L237.1,534.5 L237.4,531.6 L237.7,528.5 L238.1,525.1 L238.4,521.6 L238.7,518.0 L239.1,514.4 L239.4,510.9 L239.7,507.5 L240.0,504.2 L240.4,501.0 L240.7,498.0 L241.0,495.2 L241.4,492.6 L241.7,490.2 L242.0,488.0 L242.3,486.0 L242.7,484.2 L243.0,482.6 L243.3,481.1 L243.7,479.7 L244.0,478.5 L244.3,477.5 L244.7,476.7 L245.0,476.0 L245.3,475.4 L245.6,474.9 L246.0,474.5 L246.3,474.2 L246.6,473.8 L247.0,473.8 L247.3,473.8 L247.6,473.8 L247.9,473.8 L248.3,473.7 L248.6,473.7 L248.9,473.7 L249.3,473.7 L249.6,473.7 L249.9,473.6 L250.2,473.6 L250.6,473.6 L250.9,473.5 L251.2,473.4 L251.6,473.4 L251.9,473.2 L252.2,473.1 L252.5,473.0 L252.9,472.8 L253.2,472.7 L253.5,472.4 L253.9,472.1 L254.2,471.8 L254.5,471.4 L254.9,471.0 L255.2,470.6 L255.5,470.2 L255.8,469.7 L256.2,469.3 L256.5,468.9 L256.8,468.4 L257.2,468.0 L257.5,467.6 L257.8,467.2 L258.1,466.8 L258.5,466.4 L258.8,466.0 L259.1,465.6 L259.5,465.2 L259.8,464.8 L260.1,464.4 L260.4,464.0 L260.8,463.6 L261.1,463.2 L261.4,462.8 L261.8,462.4 L262.1,462.0 L262.4,461.6 L262.8,461.2 L263.1,460.7 L263.4,460.3 L263.7,459.9 L264.1,459.5 L264.4,459.1 L264.7,458.7 L265.1,458.3 L265.4,457.9 L265.7,457.5 L266.0,457.1 L266.4,456.7 L266.7,456.3 L267.0,455.9 L267.4,455.5 L267.7,455.1 L268.0,454.7 L268.3,454.3 L268.7,453.9 L269.0,453.5 L269.3,453.1 L269.7,452.6 L270.0,452.2 L270.3,451.8 L270.7,451.4 L271.0,451.0 L271.3,450.6 L271.6,450.2 L272.0,449.8 L272.3,449.4 L272.6,449.0 L273.0,448.6 L273.3,448.2 L273.6,447.8 L273.9,447.4 L274.3,447.0 L274.6,446.6 L274.9,446.2 L275.3,445.8 L275.6,445.4 L275.9,445.0 L276.2,444.6 L276.6,444.1 L276.9,443.7 L277.2,443.3 L277.6,442.9 L277.9,442.5 L278.2,442.1 L278.5,441.7 L278.9,441.3 L279.2,440.9 L279.5,440.5 L279.9,440.1 L280.2,439.7 L280.5,439.3 L280.9,438.9 L281.2,438.5 L281.5,438.1 L281.8,437.7 L282.2,437.3 L282.5,436.9 L282.8,436.5 L283.2,436.1 L283.5,435.6 L283.8,435.2 L284.1,434.8 L284.5,434.4 L284.8,434.0 L285.1,433.6 L285.5,433.2 L285.8,432.8 L286.1,432.4 L286.4,432.0 L286.8,431.6 L287.1,431.2 L287.4,430.8 L287.8,430.4 L288.1,430.0 L288.4,429.6 L288.8,429.2 L289.1,428.8 L289.4,428.4 L289.7,428.0 L290.1,427.5 L290.4,427.1 L290.7,426.7 L291.1,426.3 L291.4,425.9 L291.7,425.5 L292.0,425.1 L292.4,424.7 L292.7,424.3 L293.0,423.9 L293.4,423.5 L293.7,423.1 L294.0,422.7 L294.3,422.3 L294.7,421.9 L295.0,421.5 L295.3,421.1 L295.7,420.7 L296.0,420.3 L296.3,419.9 L296.6,419.5 L297.0,419.0 L297.3,418.6 L297.6,418.2 L298.0,417.8 L298.3,417.4 L298.6,417.0 L299.0,416.6 L299.3,416.2 L299.6,415.8 L299.9,415.4 L300.3,415.0 L300.6,414.6 L300.9,414.2 L301.3,413.8 L301.6,413.4 L301.9,413.0 L302.2,412.6 L302.6,412.2 L302.9,411.8 L303.2,411.4 L303.6,411.0 L303.9,410.5 L304.2,410.1 L304.5,409.7 L304.9,409.3 L305.2,408.9 L305.5,408.5 L305.9,408.1 L306.2,407.7 L306.5,407.3 L306.9,406.9 L307.2,406.5 L307.5,406.1 L307.8,405.7 L308.2,405.3 L308.5,404.9 L308.8,404.5 L309.2,404.1 L309.5,403.7 L309.8,403.3 L310.1,402.9 L310.5,402.4 L310.8,402.0 L311.1,401.6 L311.5,401.2 L311.8,400.8 L312.1,400.4 L312.4,400.0 L312.8,399.6 L313.1,399.2 L313.4,398.8 L313.8,398.4 L314.1,398.0 L314.4,397.6 L314.8,397.2 L315.1,396.8 L315.4,396.4 L315.7,396.0 L316.1,395.6 L316.4,395.2 L316.7,394.8 L317.1,394.4 L317.4,393.9 L317.7,393.5 L318.0,393.1 L318.4,392.7 L318.7,392.3 L319.0,391.9 L319.4,391.5 L319.7,391.1 L320.0,390.7 L320.3,390.3 L320.7,389.9 L321.0,389.5 L321.3,389.1 L321.7,388.7 L322.0,388.3 L322.3,387.9 L322.6,387.5 L323.0,387.1 L323.3,386.7 L323.6,386.3 L324.0,385.8 L324.3,385.4 L324.6,385.0 L325.0,384.6 L325.3,384.2 L325.6,383.8 L325.9,383.4 L326.3,383.0 L326.6,382.6 L326.9,382.2 L327.3,381.8 L327.6,381.4 L327.9,381.0 L328.2,380.6 L328.6,380.2 L328.9,379.8 L329.2,379.4 L329.6,379.0 L329.9,378.6 L330.2,378.2 L330.5,377.8 L330.9,377.3 L331.2,376.9 L331.5,376.5 L331.9,376.1 L332.2,375.7 L332.5,375.3 L332.9,374.9 L333.2,374.5 L333.5,374.1 L333.8,373.7 L334.2,373.3 L334.5,372.9 L334.8,372.5 L335.2,372.1 L335.5,371.7 L335.8,371.3 L336.1,370.9 L336.5,370.5 L336.8,370.1 L337.1,369.7 L337.5,369.3 L337.8,368.8 L338.1,368.4 L338.4,368.0 L338.8,367.6 L339.1,367.2 L339.4,366.8 L339.8,366.4 L340.1,366.0 L340.4,365.6 L340.8,365.2 L341.1,364.8 L341.4,364.4 L341.7,364.0 L342.1,363.6 L342.4,363.2 L342.7,362.8 L343.1,362.4 L343.4,362.0 L343.7,361.6 L344.0,361.2 L344.4,360.7 L344.7,360.3 L345.0,359.9 L345.4,359.5 L345.7,359.1 L346.0,358.7 L346.3,358.3 L346.7,357.9 L347.0,357.5 L347.3,357.1 L347.7,356.7 L348.0,356.3 L348.3,355.9 L348.6,355.5 L349.0,355.1 L349.3,354.7 L349.6,354.3 L350.0,353.9 L350.3,353.5 L350.6,353.1 L351.0,352.7 L351.3,352.2 L351.6,351.8 L351.9,351.4 L352.3,351.0 L352.6,350.6 L352.9,350.2 L353.3,349.8 L353.6,349.4 L353.9,349.0 L354.2,348.6 L354.6,348.2 L354.9,347.8 L355.2,347.4 L355.6,347.0 L355.9,346.6 L356.2,346.2 L356.5,345.8 L356.9,345.4 L357.2,345.0 L357.5,344.6 L357.9,344.2 L358.2,343.7 L358.5,343.3 L358.9,342.9 L359.2,342.5 L359.5,342.1 L359.8,341.7 L360.2,341.3 L360.5,340.9 L360.8,340.5 L361.2,340.1 L361.5,339.7 L361.8,339.3 L362.1,338.9 L362.5,338.5 L362.8,338.1 L363.1,337.7 L363.5,337.3 L363.8,336.9 L364.1,336.5 L364.4,336.1 L364.8,335.6 L365.1,335.2 L365.4,334.8 L365.8,334.4 L366.1,334.0 L366.4,333.6 L366.8,333.2 L367.1,332.8 L367.4,332.4 L367.7,332.0 L368.1,331.7 L368.4,331.3 L368.7,331.0 L369.1,330.7 L369.4,330.4 L369.7,330.2 L370.0,330.1 L370.4,330.0 L370.7,330.0 L371.0,330.0 L371.4,330.1 L371.7,330.2 L372.0,330.4 L372.3,330.7 L372.7,331.0 L373.0,331.3 L373.3,331.7 L373.7,332.0 L374.0,332.4 L374.3,332.8 L374.6,333.2 L375.0,333.6 L375.3,334.0 L375.6,334.4 L376.0,334.8 L376.3,335.2 L376.6,335.6 L377.0,336.0 L377.3,336.4 L377.6,336.8 L377.9,337.3 L378.3,337.7 L378.6,338.1 L378.9,338.5 L379.3,338.9 L379.6,339.3 L379.9,339.7 L380.2,340.1 L380.6,340.5 L380.9,340.9 L381.2,341.3 L381.6,341.7 L381.9,342.1 L382.2,342.5 L382.5,342.9 L382.9,343.3 L383.2,343.7 L383.5,344.1 L383.9,344.5 L384.2,344.9 L384.5,345.3 L384.9,345.7 L385.2,346.1 L385.5,346.5 L385.8,347.0 L386.2,347.4 L386.5,347.8 L386.8,348.2 L387.2,348.6 L387.5,349.0 L387.8,349.4 L388.1,349.8 L388.5,350.2 L388.8,350.6 L389.1,351.0 L389.5,351.4 L389.8,351.8 L390.1,352.2 L390.4,352.6 L390.8,353.0 L391.1,353.4 L391.4,353.8 L391.8,354.2 L392.1,354.6 L392.4,355.0 L392.8,355.4 L393.1,355.8 L393.4,356.2 L393.7,356.7 L394.1,357.1 L394.4,357.5 L394.7,357.9 L395.1,358.3 L395.4,358.7 L395.7,359.1 L396.0,359.5 L396.4,359.9 L396.7,360.3 L397.0,360.7 L397.4,361.1 L397.7,361.5 L398.0,361.9 L398.3,362.3 L398.7,362.7 L399.0,363.1 L399.3,363.5 L399.7,363.9 L400.0,364.3 L400.3,364.7 L400.6,365.1 L401.0,365.5 L401.3,365.9 L401.6,366.3 L402.0,366.8 L402.3,367.2 L402.6,367.6 L403.0,368.0 L403.3,368.4 L403.6,368.8 L403.9,369.2 L404.3,369.6 L404.6,370.0 L404.9,370.4 L405.3,370.8 L405.6,371.2 L405.9,371.6 L406.2,372.0 L406.6,372.4 L406.9,372.8 L407.2,373.2 L407.6,373.6 L407.9,374.0 L408.2,374.4 L408.5,374.8 L408.9,375.2 L409.2,375.6 L409.5,376.0 L409.9,376.5 L410.2,376.9 L410.5,377.3 L410.9,377.7 L411.2,378.1 L411.5,378.5 L411.8,378.9 L412.2,379.3 L412.5,379.7 L412.8,380.1 L413.2,380.5 L413.5,380.9 L413.8,381.3 L414.1,381.7 L414.5,382.1 L414.8,382.5 L415.1,382.9 L415.5,383.3 L415.8,383.7 L416.1,384.1 L416.4,384.5 L416.8,384.9 L417.1,385.3 L417.4,385.7 L417.8,386.2 L418.1,386.6 L418.4,387.0 L418.8,387.4 L419.1,387.8 L419.4,388.2 L419.7,388.6 L420.1,389.0 L420.4,389.4 L420.7,389.8 L421.1,390.2 L421.4,390.6 L421.7,391.0 L422.0,391.4 L422.4,391.8 L422.7,392.2 L423.0,392.6 L423.4,393.0 L423.7,393.4 L424.0,393.8 L424.3,394.2 L424.7,394.6 L425.0,395.0 L425.3,395.4 L425.7,395.9 L426.0,396.3 L426.3,396.7 L426.6,397.1 L427.0,397.5 L427.3,397.9 L427.6,398.3 L428.0,398.7 L428.3,399.1 L428.6,399.5 L429.0,399.9 L429.3,400.3 L429.6,400.7 L429.9,401.1 L430.3,401.5 L430.6,401.9 L430.9,402.3 L431.3,402.7 L431.6,403.1 L431.9,403.5 L432.2,403.9 L432.6,404.3 L432.9,404.7 L433.2,405.1 L433.6,405.6 L433.9,406.0 L434.2,406.4 L434.5,406.8 L434.9,407.2 L435.2,407.6 L435.5,408.0 L435.9,408.4 L436.2,408.8 L436.5,409.2 L436.9,409.6 L437.2,410.0 L437.5,410.4 L437.8,410.8 L438.2,411.2 L438.5,411.6 L438.8,412.0 L439.2,412.4 L439.5,412.8 L439.8,413.2 L440.1,413.6 L440.5,414.0 L440.8,414.4 L441.1,414.8 L441.5,415.2 L441.8,415.7 L442.1,416.1 L442.4,416.5 L442.8,416.9 L443.1,417.3 L443.4,417.7 L443.8,418.1 L444.1,418.5 L444.4,418.9 L444.8,419.3 L445.1,419.7 L445.4,420.1 L445.7,420.5 L446.1,420.9 L446.4,421.3 L446.7,421.7 L447.1,422.1 L447.4,422.5 L447.7,422.9 L448.0,423.3 L448.4,423.7 L448.7,424.1 L449.0,424.5 L449.4,424.9 L449.7,425.4 L450.0,425.8 L450.3,426.2 L450.7,426.6 L451.0,427.0 L451.3,427.4 L451.7,427.8 L452.0,428.2 L452.3,428.6 L452.6,429.0 L453.0,429.4 L453.3,429.8 L453.6,430.2 L454.0,430.6 L454.3,431.0 L454.6,431.4 L455.0,431.8 L455.3,432.2 L455.6,432.6 L455.9,433.0 L456.3,433.4 L456.6,433.8 L456.9,434.2 L457.3,434.6 L457.6,435.1 L457.9,435.5 L458.2,435.9 L458.6,436.3 L458.9,436.7 L459.2,437.1 L459.6,437.5 L459.9,437.9 L460.2,438.3 L460.5,438.7 L460.9,439.1 L461.2,439.5 L461.5,439.9 L461.9,440.3 L462.2,440.7 L462.5,441.1 L462.9,441.5 L463.2,441.9 L463.5,442.3 L463.8,442.7 L464.2,443.1 L464.5,443.5 L464.8,443.9 L465.2,444.3 L465.5,444.8 L465.8,445.2 L466.1,445.6 L466.5,446.0 L466.8,446.4 L467.1,446.8 L467.5,447.2 L467.8,447.6 L468.1,448.0 L468.4,448.4 L468.8,448.8 L469.1,449.2 L469.4,449.6 L469.8,450.0 L470.1,450.4 L470.4,450.8 L470.7,451.2 L471.1,451.6 L471.4,452.0 L471.7,452.4 L472.1,452.8 L472.4,453.2 L472.7,453.6 L473.1,454.0 L473.4,454.5 L473.7,454.9 L474.0,455.3 L474.4,455.7 L474.7,456.1 L475.0,456.5 L475.4,456.9 L475.7,457.3 L476.0,457.7 L476.3,458.1 L476.7,458.5 L477.0,458.9 L477.3,459.3 L477.7,459.7 L478.0,460.1 L478.3,460.5 L478.6,460.9 L479.0,461.3 L479.3,461.7 L479.6,462.1 L480.0,462.5 L480.3,462.9 L480.6,463.3 L481.0,463.7 L481.3,464.1 L481.6,464.6 L481.9,465.0 L482.3,465.4 L482.6,465.8 L482.9,466.2 L483.3,466.6 L483.6,467.0 L483.9,467.4 L484.2,467.8 L484.6,468.2 L484.9,468.6 L485.2,469.0 L485.6,469.4 L485.9,469.8 L486.2,470.2 L486.5,470.6 L486.9,471.0 L487.2,471.4 L487.5,471.8 L487.9,472.2 L488.2,472.6 L488.5,473.0 L488.9,473.4 L489.2,473.8 L489.5,474.3 L489.8,474.7 L490.2,475.1 L490.5,475.5 L490.8,475.9 L491.2,476.3 L491.5,476.7 L491.8,477.1 L492.1,477.5 L492.5,477.9 L492.8,478.3 L493.1,478.7 L493.5,479.1 L493.8,479.5 L494.1,479.9 L494.4,480.3 L494.8,480.7 L495.1,481.1 L495.4,481.5 L495.8,481.9 L496.1,482.4 L496.4,482.8 L496.7,483.2 L497.1,483.6 L497.4,484.1 L497.7,484.5 L498.1,485.0 L498.4,485.5 L498.7,486.0 L499.1,486.4 L499.4,486.9 L499.7,487.4 L500.0,487.9 L500.4,488.4 L500.7,489.0 L501.0,489.5 L501.4,490.0 L501.7,490.6 L502.0,491.1 L502.3,491.7 L502.7,492.2 L503.0,492.8 L503.3,493.4 L503.7,494.0 L504.0,494.5 L504.3,495.1 L504.6,495.8 L505.0,496.4 L505.3,497.0 L505.6,497.7 L506.0,498.3 L506.3,499.0 L506.6,499.6 L507.0,500.3 L507.3,500.9 L507.6,501.6 L507.9,502.2 L508.3,502.9 L508.6,503.5 L508.9,504.2 L509.3,504.8 L509.6,505.5 L509.9,506.1 L510.2,506.6 L510.6,507.2 L510.9,507.7 L511.2,508.2 L511.6,508.6 L511.9,509.0 L512.2,509.3 L512.5,509.6 L512.9,509.9 L513.2,510.1 L513.5,510.2 L513.9,510.4 L514.2,510.4 L514.5,510.5 L514.9,510.6 L515.2,510.6 L515.5,510.7 L515.8,510.7 L516.2,510.7 L516.5,510.8 L516.8,510.8 L517.2,510.8 L517.5,510.9 L517.8,510.9 L518.1,511.0 L518.5,511.0 L518.8,511.0 L519.1,511.1 L519.5,511.1 L519.8,511.1 L520.1,511.2 L520.4,511.2 L520.8,511.2 L521.1,511.2 L521.4,511.2 L521.8,511.3 L522.1,511.3 L522.4,511.4 L522.7,511.5 L523.1,511.6 L523.4,511.9 L523.7,512.4 L524.1,513.1 L524.4,514.0 L524.7,515.3 L525.1,516.9 L525.4,518.8 L525.7,521.0 L526.0,523.4 L526.4,525.9 L526.7,528.5 L527.0,531.1 L527.4,533.7 L527.7,536.3 L528.0,538.9 L528.3,541.3 L528.7,543.4 L529.0,545.2 L529.3,546.5 L529.7,547.4 L530.0,548.0 L530.3,548.1 L530.6,547.9 L531.0,547.3 L531.3,546.4 L531.6,545.0 L532.0,543.4 L532.3,541.5 L532.6,539.4 L533.0,537.1 L533.3,534.5 L533.6,531.6 L533.9,528.5 L534.3,525.1 L534.6,521.6 L534.9,518.0 L535.3,514.4 L535.6,510.9 L535.9,507.5 L536.2,504.2 L536.6,501.0 L536.9,498.0 L537.2,495.2 L537.6,492.6 L537.9,490.2 L538.2,488.0 L538.5,486.0 L538.9,484.2 L539.2,482.6 L539.5,481.1 L539.9,479.7 L540.2,478.5 L540.5,477.5 L540.9,476.7 L541.2,476.0 L541.5,475.4 L541.8,474.9 L542.2,474.5 L542.5,474.2 L542.8,473.8 L543.2,473.8 L543.5,473.8 L543.8,473.8 L544.1,473.8 L544.5,473.7 L544.8,473.7 L545.1,473.7 L545.5,473.7 L545.8,473.7 L546.1,473.6 L546.4,473.6 L546.8,473.6 L547.1,473.5 L547.4,473.4 L547.8,473.4 L548.1,473.2 L548.4,473.1 L548.7,473.0 L549.1,472.8 L549.4,472.7 L549.7,472.4 L550.1,472.1 L550.4,471.8 L550.7,471.4 L551.1,471.0 L551.4,470.6 L551.7,470.2 L552.0,469.7 L552.4,469.3 L552.7,468.9 L553.0,468.4 L553.4,468.0 L553.7,467.6 L554.0,467.2 L554.3,466.8 L554.7,466.4 L555.0,466.0 L555.3,465.6 L555.7,465.2 L556.0,464.8 L556.3,464.4 L556.6,464.0 L557.0,463.6 L557.3,463.2 L557.6,462.8 L558.0,462.4 L558.3,462.0 L558.6,461.6 L559.0,461.2 L559.3,460.7 L559.6,460.3 L559.9,459.9 L560.3,459.5 L560.6,459.1 L560.9,458.7 L561.3,458.3 L561.6,457.9 L561.9,457.5 L562.2,457.1 L562.6,456.7 L562.9,456.3 L563.2,455.9 L563.6,455.5 L563.9,455.1 L564.2,454.7 L564.5,454.3 L564.9,453.9 L565.2,453.5 L565.5,453.1 L565.9,452.6 L566.2,452.2 L566.5,451.8 L566.9,451.4 L567.2,451.0 L567.5,450.6 L567.8,450.2 L568.2,449.8 L568.5,449.4 L568.8,449.0 L569.2,448.6 L569.5,448.2 L569.8,447.8 L570.1,447.4 L570.5,447.0 L570.8,446.6 L571.1,446.2 L571.5,445.8 L571.8,445.4 L572.1,445.0 L572.4,444.6 L572.8,444.1 L573.1,443.7 L573.4,443.3 L573.8,442.9 L574.1,442.5 L574.4,442.1 L574.7,441.7 L575.1,441.3 L575.4,440.9 L575.7,440.5 L576.1,440.1 L576.4,439.7 L576.7,439.3 L577.1,438.9 L577.4,438.5 L577.7,438.1 L578.0,437.7 L578.4,437.3 L578.7,436.9 L579.0,436.5 L579.4,436.1 L579.7,435.6 L580.0,435.2 L580.3,434.8 L580.7,434.4 L581.0,434.0 L581.3,433.6 L581.7,433.2 L582.0,432.8 L582.3,432.4 L582.6,432.0 L583.0,431.6 L583.3,431.2 L583.6,430.8 L584.0,430.4 L584.3,430.0 L584.6,429.6 L585.0,429.2 L585.3,428.8 L585.6,428.4 L585.9,428.0 L586.3,427.5 L586.6,427.1 L586.9,426.7 L587.3,426.3 L587.6,425.9 L587.9,425.5 L588.2,425.1 L588.6,424.7 L588.9,424.3 L589.2,423.9 L589.6,423.5 L589.9,423.1 L590.2,422.7 L590.5,422.3 L590.9,421.9 L591.2,421.5 L591.5,421.1 L591.9,420.7 L592.2,420.3 L592.5,419.9 L592.9,419.5 L593.2,419.0 L593.5,418.6 L593.8,418.2 L594.2,417.8 L594.5,417.4 L594.8,417.0 L595.2,416.6 L595.5,416.2 L595.8,415.8 L596.1,415.4 L596.5,415.0 L596.8,414.6 L597.1,414.2 L597.5,413.8 L597.8,413.4 L598.1,413.0 L598.4,412.6 L598.8,412.2 L599.1,411.8 L599.4,411.4 L599.8,411.0 L600.1,410.5 L600.4,410.1 L600.7,409.7 L601.1,409.3 L601.4,408.9 L601.7,408.5 L602.1,408.1 L602.4,407.7 L602.7,407.3 L603.1,406.9 L603.4,406.5 L603.7,406.1 L604.0,405.7 L604.4,405.3 L604.7,404.9 L605.0,404.5 L605.4,404.1 L605.7,403.7 L606.0,403.3 L606.3,402.9 L606.7,402.4 L607.0,402.0 L607.3,401.6 L607.7,401.2 L608.0,400.8 L608.3,400.4 L608.6,400.0 L609.0,399.6 L609.3,399.2 L609.6,398.8 L610.0,398.4 L610.3,398.0 L610.6,397.6 L611.0,397.2 L611.3,396.8 L611.6,396.4 L611.9,396.0 L612.3,395.6 L612.6,395.2 L612.9,394.8 L613.3,394.4 L613.6,393.9 L613.9,393.5 L614.2,393.1 L614.6,392.7 L614.9,392.3 L615.2,391.9 L615.6,391.5 L615.9,391.1 L616.2,390.7 L616.5,390.3 L616.9,389.9 L617.2,389.5 L617.5,389.1 L617.9,388.7 L618.2,388.3 L618.5,387.9 L618.8,387.5 L619.2,387.1 L619.5,386.7 L619.8,386.3 L620.2,385.8 L620.5,385.4 L620.8,385.0 L621.2,384.6 L621.5,384.2 L621.8,383.8 L622.1,383.4 L622.5,383.0 L622.8,382.6 L623.1,382.2 L623.5,381.8 L623.8,381.4 L624.1,381.0 L624.4,380.6 L624.8,380.2 L625.1,379.8 L625.4,379.4 L625.8,379.0 L626.1,378.6 L626.4,378.2 L626.7,377.8 L627.1,377.3 L627.4,376.9 L627.7,376.5 L628.1,376.1 L628.4,375.7 L628.7,375.3 L629.1,374.9 L629.4,374.5 L629.7,374.1 L630.0,373.7 L630.4,373.3 L630.7,372.9 L631.0,372.5 L631.4,372.1 L631.7,371.7 L632.0,371.3 L632.3,370.9 L632.7,370.5 L633.0,370.1 L633.3,369.7 L633.7,369.3 L634.0,368.8 L634.3,368.4 L634.6,368.0 L635.0,367.6 L635.3,367.2 L635.6,366.8 L636.0,366.4 L636.3,366.0 L636.6,365.6 L637.0,365.2 L637.3,364.8 L637.6,364.4 L637.9,364.0 L638.3,363.6 L638.6,363.2 L638.9,362.8 L639.3,362.4 L639.6,362.0 L639.9,361.6 L640.2,361.2 L640.6,360.7 L640.9,360.3 L641.2,359.9 L641.6,359.5 L641.9,359.1 L642.2,358.7 L642.5,358.3 L642.9,357.9 L643.2,357.5 L643.5,357.1 L643.9,356.7 L644.2,356.3 L644.5,355.9 L644.8,355.5 L645.2,355.1 L645.5,354.7 L645.8,354.3 L646.2,353.9 L646.5,353.5 L646.8,353.1 L647.2,352.7 L647.5,352.2 L647.8,351.8 L648.1,351.4 L648.5,351.0 L648.8,350.6 L649.1,350.2 L649.5,349.8 L649.8,349.4 L650.1,349.0 L650.4,348.6 L650.8,348.2 L651.1,347.8 L651.4,347.4 L651.8,347.0 L652.1,346.6 L652.4,346.2 L652.7,345.8 L653.1,345.4 L653.4,345.0 L653.7,344.6 L654.1,344.2 L654.4,343.7 L654.7,343.3 L655.1,342.9 L655.4,342.5 L655.7,342.1 L656.0,341.7 L656.4,341.3 L656.7,340.9 L657.0,340.5 L657.4,340.1 L657.7,339.7 L658.0,339.3 L658.3,338.9 L658.7,338.5 L659.0,338.1 L659.3,337.7 L659.7,337.3 L660.0,336.9 L660.3,336.5 L660.6,336.1 L661.0,335.6 L661.3,335.2 L661.6,334.8 L662.0,334.4 L662.3,334.0 L662.6,333.6 L663.0,333.2 L663.3,332.8 L663.6,332.4 L663.9,332.0 L664.3,331.7 L664.6,331.3 L664.9,331.0 L665.3,330.7 L665.6,330.4 L665.9,330.2 L666.2,330.1 L666.6,330.0 L666.9,330.0" stroke="#E81632" stroke-width="3.3"/><path d="M74.5,256.6 L74.8,256.5 L75.2,256.5 L75.5,256.7 L75.8,256.8 L76.1,257.1 L76.5,257.4 L76.8,257.8 L77.1,258.3 L77.5,258.8 L77.8,259.3 L78.1,259.9 L78.4,260.5 L78.8,261.1 L79.1,261.7 L79.4,262.4 L79.8,263.0 L80.1,263.7 L80.4,264.4 L80.8,265.1 L81.1,265.9 L81.4,266.6 L81.7,267.4 L82.1,268.1 L82.4,268.8 L82.7,269.6 L83.1,270.3 L83.4,271.1 L83.7,271.8 L84.0,272.6 L84.4,273.3 L84.7,274.1 L85.0,274.8 L85.4,275.6 L85.7,276.3 L86.0,277.0 L86.3,277.7 L86.7,278.4 L87.0,279.1 L87.3,279.7 L87.7,280.4 L88.0,281.1 L88.3,281.7 L88.7,282.4 L89.0,283.1 L89.3,283.7 L89.6,284.4 L90.0,285.0 L90.3,285.6 L90.6,286.3 L91.0,286.9 L91.3,287.5 L91.6,288.1 L91.9,288.8 L92.3,289.4 L92.6,290.0 L92.9,290.6 L93.3,291.2 L93.6,291.8 L93.9,292.3 L94.2,292.9 L94.6,293.5 L94.9,294.0 L95.2,294.6 L95.6,295.2 L95.9,295.7 L96.2,296.3 L96.6,296.8 L96.9,297.4 L97.2,297.9 L97.5,298.5 L97.9,299.0 L98.2,299.5 L98.5,300.1 L98.9,300.6 L99.2,301.2 L99.5,301.7 L99.8,302.3 L100.2,302.8 L100.5,303.4 L100.8,303.9 L101.2,304.5 L101.5,305.1 L101.8,305.6 L102.1,306.2 L102.5,306.7 L102.8,307.3 L103.1,307.8 L103.5,308.4 L103.8,308.9 L104.1,309.5 L104.4,310.1 L104.8,310.6 L105.1,311.2 L105.4,311.7 L105.8,312.3 L106.1,312.8 L106.4,313.4 L106.8,313.9 L107.1,314.5 L107.4,315.1 L107.7,315.6 L108.1,316.2 L108.4,316.7 L108.7,317.3 L109.1,317.8 L109.4,318.4 L109.7,319.0 L110.0,319.5 L110.4,320.1 L110.7,320.6 L111.0,321.2 L111.4,321.7 L111.7,322.3 L112.0,322.8 L112.3,323.4 L112.7,324.0 L113.0,324.5 L113.3,325.1 L113.7,325.6 L114.0,326.2 L114.3,326.7 L114.7,327.3 L115.0,327.8 L115.3,328.4 L115.6,328.9 L116.0,329.5 L116.3,330.1 L116.6,330.6 L117.0,331.2 L117.3,331.7 L117.6,332.3 L117.9,332.8 L118.3,333.4 L118.6,333.9 L118.9,334.5 L119.3,335.1 L119.6,335.6 L119.9,336.2 L120.2,336.7 L120.6,337.3 L120.9,337.8 L121.2,338.4 L121.6,338.9 L121.9,339.5 L122.2,340.0 L122.6,340.6 L122.9,341.2 L123.2,341.7 L123.5,342.3 L123.9,342.8 L124.2,343.4 L124.5,343.9 L124.9,344.5 L125.2,345.0 L125.5,345.6 L125.8,346.2 L126.2,346.7 L126.5,347.3 L126.8,347.8 L127.2,348.4 L127.5,348.9 L127.8,349.5 L128.1,350.0 L128.5,350.6 L128.8,351.1 L129.1,351.7 L129.5,352.3 L129.8,352.8 L130.1,353.4 L130.4,353.9 L130.8,354.5 L131.1,355.0 L131.4,355.6 L131.8,356.1 L132.1,356.7 L132.4,357.2 L132.8,357.8 L133.1,358.4 L133.4,358.9 L133.7,359.5 L134.1,360.0 L134.4,360.6 L134.7,361.1 L135.1,361.7 L135.4,362.2 L135.7,362.8 L136.0,363.3 L136.4,363.9 L136.7,364.5 L137.0,365.0 L137.4,365.6 L137.7,366.1 L138.0,366.7 L138.3,367.2 L138.7,367.8 L139.0,368.3 L139.3,368.9 L139.7,369.5 L140.0,370.0 L140.3,370.6 L140.7,371.1 L141.0,371.7 L141.3,372.2 L141.6,372.8 L142.0,373.3 L142.3,373.9 L142.6,374.4 L143.0,375.0 L143.3,375.6 L143.6,376.1 L143.9,376.7 L144.3,377.2 L144.6,377.8 L144.9,378.3 L145.3,378.9 L145.6,379.4 L145.9,380.0 L146.2,380.5 L146.6,381.1 L146.9,381.6 L147.2,382.2 L147.6,382.8 L147.9,383.3 L148.2,383.9 L148.6,384.4 L148.9,385.0 L149.2,385.5 L149.5,386.1 L149.9,386.6 L150.2,387.2 L150.5,387.7 L150.9,388.3 L151.2,388.8 L151.5,389.4 L151.8,389.9 L152.2,390.5 L152.5,391.0 L152.8,391.6 L153.2,392.2 L153.5,392.7 L153.8,393.3 L154.1,393.8 L154.5,394.4 L154.8,394.9 L155.1,395.5 L155.5,396.0 L155.8,396.6 L156.1,397.1 L156.4,397.7 L156.8,398.2 L157.1,398.8 L157.4,399.3 L157.8,399.9 L158.1,400.4 L158.4,401.0 L158.8,401.5 L159.1,402.1 L159.4,402.7 L159.7,403.2 L160.1,403.8 L160.4,404.3 L160.7,404.9 L161.1,405.4 L161.4,406.0 L161.7,406.5 L162.0,407.1 L162.4,407.6 L162.7,408.2 L163.0,408.7 L163.4,409.3 L163.7,409.8 L164.0,410.4 L164.3,410.9 L164.7,411.5 L165.0,412.1 L165.3,412.6 L165.7,413.2 L166.0,413.7 L166.3,414.3 L166.7,414.8 L167.0,415.4 L167.3,415.9 L167.6,416.5 L168.0,417.0 L168.3,417.6 L168.6,418.1 L169.0,418.7 L169.3,419.2 L169.6,419.8 L169.9,420.4 L170.3,420.9 L170.6,421.5 L170.9,422.0 L171.3,422.6 L171.6,423.1 L171.9,423.7 L172.2,424.2 L172.6,424.8 L172.9,425.3 L173.2,425.9 L173.6,426.4 L173.9,427.0 L174.2,427.6 L174.5,428.1 L174.9,428.7 L175.2,429.2 L175.5,429.8 L175.9,430.3 L176.2,430.9 L176.5,431.4 L176.9,432.0 L177.2,432.6 L177.5,433.1 L177.8,433.7 L178.2,434.2 L178.5,434.8 L178.8,435.3 L179.2,435.9 L179.5,436.4 L179.8,437.0 L180.1,437.6 L180.5,438.1 L180.8,438.7 L181.1,439.2 L181.5,439.8 L181.8,440.3 L182.1,440.9 L182.4,441.5 L182.8,442.0 L183.1,442.6 L183.4,443.1 L183.8,443.7 L184.1,444.2 L184.4,444.8 L184.8,445.4 L185.1,445.9 L185.4,446.5 L185.7,447.0 L186.1,447.6 L186.4,448.2 L186.7,448.7 L187.1,449.3 L187.4,449.8 L187.7,450.4 L188.0,451.0 L188.4,451.5 L188.7,452.1 L189.0,452.6 L189.4,453.2 L189.7,453.8 L190.0,454.3 L190.3,454.9 L190.7,455.4 L191.0,456.0 L191.3,456.5 L191.7,457.1 L192.0,457.6 L192.3,458.2 L192.7,458.7 L193.0,459.3 L193.3,459.8 L193.6,460.4 L194.0,460.9 L194.3,461.5 L194.6,462.0 L195.0,462.6 L195.3,463.2 L195.6,463.7 L195.9,464.3 L196.3,464.8 L196.6,465.4 L196.9,466.0 L197.3,466.6 L197.6,467.1 L197.9,467.7 L198.2,468.3 L198.6,468.9 L198.9,469.5 L199.2,470.1 L199.6,470.7 L199.9,471.3 L200.2,471.9 L200.5,472.5 L200.9,473.1 L201.2,473.7 L201.5,474.3 L201.9,475.0 L202.2,475.7 L202.5,476.3 L202.9,477.0 L203.2,477.7 L203.5,478.4 L203.8,479.2 L204.2,479.9 L204.5,480.7 L204.8,481.4 L205.2,482.2 L205.5,483.0 L205.8,483.8 L206.1,484.6 L206.5,485.5 L206.8,486.3 L207.1,487.2 L207.5,488.1 L207.8,488.9 L208.1,489.8 L208.4,490.7 L208.8,491.7 L209.1,492.6 L209.4,493.5 L209.8,494.5 L210.1,495.4 L210.4,496.3 L210.8,497.2 L211.1,498.1 L211.4,499.0 L211.7,499.9 L212.1,500.7 L212.4,501.6 L212.7,502.4 L213.1,503.3 L213.4,504.1 L213.7,504.9 L214.0,505.6 L214.4,506.3 L214.7,506.9 L215.0,507.6 L215.4,508.1 L215.7,508.6 L216.0,509.0 L216.3,509.4 L216.7,509.7 L217.0,510.0 L217.3,510.1 L217.7,510.3 L218.0,510.4 L218.3,510.5 L218.7,510.6 L219.0,510.6 L219.3,510.7 L219.6,510.7 L220.0,510.7 L220.3,510.8 L220.6,510.8 L221.0,510.8 L221.3,510.9 L221.6,510.9 L221.9,511.0 L222.3,511.0 L222.6,511.0 L222.9,511.1 L223.3,511.1 L223.6,511.1 L223.9,511.2 L224.2,511.2 L224.6,511.2 L224.9,511.2 L225.2,511.2 L225.6,511.3 L225.9,511.3 L226.2,511.3 L226.5,511.5 L226.9,511.6 L227.2,512.0 L227.5,512.5 L227.9,513.3 L228.2,514.3 L228.5,515.7 L228.9,517.3 L229.2,519.3 L229.5,521.5 L229.8,523.8 L230.2,526.3 L230.5,528.8 L230.8,531.4 L231.2,534.0 L231.5,536.6 L231.8,539.4 L232.1,542.1 L232.5,544.9 L232.8,547.6 L233.1,550.2 L233.5,552.5 L233.8,554.3 L234.1,555.6 L234.4,556.4 L234.8,556.9 L235.1,557.0 L235.4,556.8 L235.8,556.3 L236.1,555.5 L236.4,554.3 L236.8,552.7 L237.1,550.7 L237.4,548.4 L237.7,545.8 L238.1,542.8 L238.4,539.6 L238.7,536.2 L239.1,532.5 L239.4,528.8 L239.7,525.0 L240.0,521.1 L240.4,517.2 L240.7,513.2 L241.0,509.2 L241.4,505.1 L241.7,500.9 L242.0,496.6 L242.3,492.5 L242.7,488.6 L243.0,484.8 L243.3,481.3 L243.7,477.9 L244.0,474.9 L244.3,472.0 L244.7,469.2 L245.0,466.6 L245.3,464.2 L245.6,461.9 L246.0,459.9 L246.3,458.2 L246.6,456.6 L247.0,455.2 L247.3,453.8 L247.6,452.7 L247.9,451.7 L248.3,451.0 L248.6,450.5 L248.9,450.0 L249.3,449.6 L249.6,449.3 L249.9,449.2 L250.2,449.3 L250.6,449.5 L250.9,449.7 L251.2,450.0 L251.6,450.3 L251.9,450.6 L252.2,451.1 L252.5,451.5 L252.9,451.9 L253.2,452.3 L253.5,452.5 L253.9,452.6 L254.2,452.7 L254.5,452.8 L254.9,452.9 L255.2,452.9 L255.5,453.0 L255.8,453.0 L256.2,453.0 L256.5,452.8 L256.8,452.6 L257.2,452.4 L257.5,452.1 L257.8,451.7 L258.1,451.4 L258.5,451.0 L258.8,450.4 L259.1,449.7 L259.5,448.9 L259.8,448.1 L260.1,447.1 L260.4,446.2 L260.8,445.3 L261.1,444.4 L261.4,443.5 L261.8,442.7 L262.1,442.0 L262.4,441.4 L262.8,440.9 L263.1,440.3 L263.4,439.7 L263.7,439.1 L264.1,438.6 L264.4,438.0 L264.7,437.4 L265.1,436.9 L265.4,436.3 L265.7,435.7 L266.0,435.2 L266.4,434.6 L266.7,434.0 L267.0,433.5 L267.4,432.9 L267.7,432.3 L268.0,431.8 L268.3,431.2 L268.7,430.6 L269.0,430.1 L269.3,429.5 L269.7,428.9 L270.0,428.4 L270.3,427.8 L270.7,427.2 L271.0,426.7 L271.3,426.1 L271.6,425.5 L272.0,425.0 L272.3,424.4 L272.6,423.8 L273.0,423.3 L273.3,422.7 L273.6,422.1 L273.9,421.6 L274.3,421.0 L274.6,420.4 L274.9,419.9 L275.3,419.3 L275.6,418.7 L275.9,418.1 L276.2,417.6 L276.6,417.0 L276.9,416.4 L277.2,415.9 L277.6,415.3 L277.9,414.7 L278.2,414.2 L278.5,413.6 L278.9,413.0 L279.2,412.5 L279.5,411.9 L279.9,411.3 L280.2,410.8 L280.5,410.2 L280.9,409.6 L281.2,409.1 L281.5,408.5 L281.8,407.9 L282.2,407.4 L282.5,406.8 L282.8,406.2 L283.2,405.7 L283.5,405.1 L283.8,404.5 L284.1,404.0 L284.5,403.4 L284.8,402.8 L285.1,402.3 L285.5,401.7 L285.8,401.1 L286.1,400.6 L286.4,400.0 L286.8,399.4 L287.1,398.9 L287.4,398.3 L287.8,397.7 L288.1,397.1 L288.4,396.6 L288.8,396.0 L289.1,395.4 L289.4,394.9 L289.7,394.3 L290.1,393.7 L290.4,393.2 L290.7,392.6 L291.1,392.0 L291.4,391.5 L291.7,390.9 L292.0,390.3 L292.4,389.8 L292.7,389.2 L293.0,388.6 L293.4,388.1 L293.7,387.5 L294.0,386.9 L294.3,386.4 L294.7,385.8 L295.0,385.2 L295.3,384.7 L295.7,384.1 L296.0,383.5 L296.3,383.0 L296.6,382.4 L297.0,381.8 L297.3,381.3 L297.6,380.7 L298.0,380.1 L298.3,379.6 L298.6,379.0 L299.0,378.4 L299.3,377.9 L299.6,377.3 L299.9,376.7 L300.3,376.1 L300.6,375.6 L300.9,375.0 L301.3,374.4 L301.6,373.9 L301.9,373.3 L302.2,372.7 L302.6,372.2 L302.9,371.6 L303.2,371.0 L303.6,370.5 L303.9,369.9 L304.2,369.3 L304.5,368.8 L304.9,368.2 L305.2,367.6 L305.5,367.1 L305.9,366.5 L306.2,365.9 L306.5,365.4 L306.9,364.8 L307.2,364.2 L307.5,363.7 L307.8,363.1 L308.2,362.5 L308.5,362.0 L308.8,361.4 L309.2,360.8 L309.5,360.3 L309.8,359.7 L310.1,359.1 L310.5,358.6 L310.8,358.0 L311.1,357.4 L311.5,356.9 L311.8,356.3 L312.1,355.7 L312.4,355.1 L312.8,354.6 L313.1,354.0 L313.4,353.4 L313.8,352.9 L314.1,352.3 L314.4,351.7 L314.8,351.2 L315.1,350.6 L315.4,350.0 L315.7,349.5 L316.1,348.9 L316.4,348.3 L316.7,347.8 L317.1,347.2 L317.4,346.6 L317.7,346.1 L318.0,345.5 L318.4,344.9 L318.7,344.4 L319.0,343.8 L319.4,343.2 L319.7,342.7 L320.0,342.1 L320.3,341.5 L320.7,341.0 L321.0,340.4 L321.3,339.8 L321.7,339.3 L322.0,338.7 L322.3,338.1 L322.6,337.6 L323.0,337.0 L323.3,336.4 L323.6,335.9 L324.0,335.3 L324.3,334.7 L324.6,334.1 L325.0,333.6 L325.3,333.0 L325.6,332.4 L325.9,331.9 L326.3,331.3 L326.6,330.7 L326.9,330.2 L327.3,329.6 L327.6,329.0 L327.9,328.5 L328.2,327.9 L328.6,327.3 L328.9,326.8 L329.2,326.2 L329.6,325.6 L329.9,325.1 L330.2,324.5 L330.5,323.9 L330.9,323.4 L331.2,322.8 L331.5,322.2 L331.9,321.7 L332.2,321.1 L332.5,320.5 L332.9,320.0 L333.2,319.4 L333.5,318.8 L333.8,318.3 L334.2,317.7 L334.5,317.1 L334.8,316.6 L335.2,316.0 L335.5,315.4 L335.8,314.9 L336.1,314.3 L336.5,313.7 L336.8,313.1 L337.1,312.6 L337.5,312.0 L337.8,311.4 L338.1,310.9 L338.4,310.3 L338.8,309.7 L339.1,309.2 L339.4,308.6 L339.8,308.0 L340.1,307.5 L340.4,306.9 L340.8,306.3 L341.1,305.8 L341.4,305.2 L341.7,304.6 L342.1,304.1 L342.4,303.5 L342.7,302.9 L343.1,302.4 L343.4,301.8 L343.7,301.2 L344.0,300.7 L344.4,300.1 L344.7,299.5 L345.0,299.0 L345.4,298.4 L345.7,297.8 L346.0,297.3 L346.3,296.7 L346.7,296.1 L347.0,295.6 L347.3,295.0 L347.7,294.4 L348.0,293.9 L348.3,293.3 L348.6,292.7 L349.0,292.1 L349.3,291.6 L349.6,291.0 L350.0,290.4 L350.3,289.9 L350.6,289.3 L351.0,288.7 L351.3,288.2 L351.6,287.6 L351.9,287.0 L352.3,286.5 L352.6,285.9 L352.9,285.3 L353.3,284.8 L353.6,284.2 L353.9,283.6 L354.2,283.1 L354.6,282.5 L354.9,281.9 L355.2,281.4 L355.6,280.8 L355.9,280.2 L356.2,279.7 L356.5,279.1 L356.9,278.5 L357.2,278.0 L357.5,277.4 L357.9,276.8 L358.2,276.3 L358.5,275.7 L358.9,275.1 L359.2,274.6 L359.5,274.0 L359.8,273.4 L360.2,272.8 L360.5,272.3 L360.8,271.7 L361.2,271.1 L361.5,270.6 L361.8,270.0 L362.1,269.4 L362.5,268.9 L362.8,268.3 L363.1,267.7 L363.5,267.2 L363.8,266.6 L364.1,266.0 L364.4,265.5 L364.8,264.9 L365.1,264.3 L365.4,263.8 L365.8,263.2 L366.1,262.6 L366.4,262.1 L366.8,261.5 L367.1,260.9 L367.4,260.4 L367.7,259.8 L368.1,259.3 L368.4,258.8 L368.7,258.3 L369.1,257.9 L369.4,257.5 L369.7,257.2 L370.0,256.9 L370.4,256.7 L370.7,256.6 L371.0,256.5 L371.4,256.5 L371.7,256.7 L372.0,256.8 L372.3,257.1 L372.7,257.4 L373.0,257.8 L373.3,258.3 L373.7,258.8 L374.0,259.3 L374.3,259.9 L374.6,260.5 L375.0,261.1 L375.3,261.7 L375.6,262.4 L376.0,263.0 L376.3,263.7 L376.6,264.4 L377.0,265.1 L377.3,265.9 L377.6,266.6 L377.9,267.4 L378.3,268.1 L378.6,268.8 L378.9,269.6 L379.3,270.3 L379.6,271.1 L379.9,271.8 L380.2,272.6 L380.6,273.3 L380.9,274.1 L381.2,274.8 L381.6,275.6 L381.9,276.3 L382.2,277.0 L382.5,277.7 L382.9,278.4 L383.2,279.1 L383.5,279.7 L383.9,280.4 L384.2,281.1 L384.5,281.7 L384.9,282.4 L385.2,283.1 L385.5,283.7 L385.8,284.4 L386.2,285.0 L386.5,285.6 L386.8,286.3 L387.2,286.9 L387.5,287.5 L387.8,288.1 L388.1,288.8 L388.5,289.4 L388.8,290.0 L389.1,290.6 L389.5,291.2 L389.8,291.8 L390.1,292.3 L390.4,292.9 L390.8,293.5 L391.1,294.0 L391.4,294.6 L391.8,295.2 L392.1,295.7 L392.4,296.3 L392.8,296.8 L393.1,297.4 L393.4,297.9 L393.7,298.5 L394.1,299.0 L394.4,299.5 L394.7,300.1 L395.1,300.6 L395.4,301.2 L395.7,301.7 L396.0,302.3 L396.4,302.8 L396.7,303.4 L397.0,303.9 L397.4,304.5 L397.7,305.1 L398.0,305.6 L398.3,306.2 L398.7,306.7 L399.0,307.3 L399.3,307.8 L399.7,308.4 L400.0,308.9 L400.3,309.5 L400.6,310.1 L401.0,310.6 L401.3,311.2 L401.6,311.7 L402.0,312.3 L402.3,312.8 L402.6,313.4 L403.0,313.9 L403.3,314.5 L403.6,315.1 L403.9,315.6 L404.3,316.2 L404.6,316.7 L404.9,317.3 L405.3,317.8 L405.6,318.4 L405.9,319.0 L406.2,319.5 L406.6,320.1 L406.9,320.6 L407.2,321.2 L407.6,321.7 L407.9,322.3 L408.2,322.8 L408.5,323.4 L408.9,324.0 L409.2,324.5 L409.5,325.1 L409.9,325.6 L410.2,326.2 L410.5,326.7 L410.9,327.3 L411.2,327.8 L411.5,328.4 L411.8,328.9 L412.2,329.5 L412.5,330.1 L412.8,330.6 L413.2,331.2 L413.5,331.7 L413.8,332.3 L414.1,332.8 L414.5,333.4 L414.8,333.9 L415.1,334.5 L415.5,335.1 L415.8,335.6 L416.1,336.2 L416.4,336.7 L416.8,337.3 L417.1,337.8 L417.4,338.4 L417.8,338.9 L418.1,339.5 L418.4,340.0 L418.8,340.6 L419.1,341.2 L419.4,341.7 L419.7,342.3 L420.1,342.8 L420.4,343.4 L420.7,343.9 L421.1,344.5 L421.4,345.0 L421.7,345.6 L422.0,346.2 L422.4,346.7 L422.7,347.3 L423.0,347.8 L423.4,348.4 L423.7,348.9 L424.0,349.5 L424.3,350.0 L424.7,350.6 L425.0,351.1 L425.3,351.7 L425.7,352.3 L426.0,352.8 L426.3,353.4 L426.6,353.9 L427.0,354.5 L427.3,355.0 L427.6,355.6 L428.0,356.1 L428.3,356.7 L428.6,357.2 L429.0,357.8 L429.3,358.4 L429.6,358.9 L429.9,359.5 L430.3,360.0 L430.6,360.6 L430.9,361.1 L431.3,361.7 L431.6,362.2 L431.9,362.8 L432.2,363.3 L432.6,363.9 L432.9,364.5 L433.2,365.0 L433.6,365.6 L433.9,366.1 L434.2,366.7 L434.5,367.2 L434.9,367.8 L435.2,368.3 L435.5,368.9 L435.9,369.5 L436.2,370.0 L436.5,370.6 L436.9,371.1 L437.2,371.7 L437.5,372.2 L437.8,372.8 L438.2,373.3 L438.5,373.9 L438.8,374.4 L439.2,375.0 L439.5,375.6 L439.8,376.1 L440.1,376.7 L440.5,377.2 L440.8,377.8 L441.1,378.3 L441.5,378.9 L441.8,379.4 L442.1,380.0 L442.4,380.5 L442.8,381.1 L443.1,381.6 L443.4,382.2 L443.8,382.8 L444.1,383.3 L444.4,383.9 L444.8,384.4 L445.1,385.0 L445.4,385.5 L445.7,386.1 L446.1,386.6 L446.4,387.2 L446.7,387.7 L447.1,388.3 L447.4,388.8 L447.7,389.4 L448.0,389.9 L448.4,390.5 L448.7,391.0 L449.0,391.6 L449.4,392.2 L449.7,392.7 L450.0,393.3 L450.3,393.8 L450.7,394.4 L451.0,394.9 L451.3,395.5 L451.7,396.0 L452.0,396.6 L452.3,397.1 L452.6,397.7 L453.0,398.2 L453.3,398.8 L453.6,399.3 L454.0,399.9 L454.3,400.4 L454.6,401.0 L455.0,401.5 L455.3,402.1 L455.6,402.7 L455.9,403.2 L456.3,403.8 L456.6,404.3 L456.9,404.9 L457.3,405.4 L457.6,406.0 L457.9,406.5 L458.2,407.1 L458.6,407.6 L458.9,408.2 L459.2,408.7 L459.6,409.3 L459.9,409.8 L460.2,410.4 L460.5,410.9 L460.9,411.5 L461.2,412.1 L461.5,412.6 L461.9,413.2 L462.2,413.7 L462.5,414.3 L462.9,414.8 L463.2,415.4 L463.5,415.9 L463.8,416.5 L464.2,417.0 L464.5,417.6 L464.8,418.1 L465.2,418.7 L465.5,419.2 L465.8,419.8 L466.1,420.4 L466.5,420.9 L466.8,421.5 L467.1,422.0 L467.5,422.6 L467.8,423.1 L468.1,423.7 L468.4,424.2 L468.8,424.8 L469.1,425.3 L469.4,425.9 L469.8,426.4 L470.1,427.0 L470.4,427.6 L470.7,428.1 L471.1,428.7 L471.4,429.2 L471.7,429.8 L472.1,430.3 L472.4,430.9 L472.7,431.4 L473.1,432.0 L473.4,432.6 L473.7,433.1 L474.0,433.7 L474.4,434.2 L474.7,434.8 L475.0,435.3 L475.4,435.9 L475.7,436.4 L476.0,437.0 L476.3,437.6 L476.7,438.1 L477.0,438.7 L477.3,439.2 L477.7,439.8 L478.0,440.3 L478.3,440.9 L478.6,441.5 L479.0,442.0 L479.3,442.6 L479.6,443.1 L480.0,443.7 L480.3,444.2 L480.6,444.8 L481.0,445.4 L481.3,445.9 L481.6,446.5 L481.9,447.0 L482.3,447.6 L482.6,448.2 L482.9,448.7 L483.3,449.3 L483.6,449.8 L483.9,450.4 L484.2,451.0 L484.6,451.5 L484.9,452.1 L485.2,452.6 L485.6,453.2 L485.9,453.8 L486.2,454.3 L486.5,454.9 L486.9,455.4 L487.2,456.0 L487.5,456.5 L487.9,457.1 L488.2,457.6 L488.5,458.2 L488.9,458.7 L489.2,459.3 L489.5,459.8 L489.8,460.4 L490.2,460.9 L490.5,461.5 L490.8,462.0 L491.2,462.6 L491.5,463.2 L491.8,463.7 L492.1,464.3 L492.5,464.8 L492.8,465.4 L493.1,466.0 L493.5,466.6 L493.8,467.1 L494.1,467.7 L494.4,468.3 L494.8,468.9 L495.1,469.5 L495.4,470.1 L495.8,470.7 L496.1,471.3 L496.4,471.9 L496.7,472.5 L497.1,473.1 L497.4,473.7 L497.7,474.3 L498.1,475.0 L498.4,475.7 L498.7,476.3 L499.1,477.0 L499.4,477.7 L499.7,478.4 L500.0,479.2 L500.4,479.9 L500.7,480.7 L501.0,481.4 L501.4,482.2 L501.7,483.0 L502.0,483.8 L502.3,484.6 L502.7,485.5 L503.0,486.3 L503.3,487.2 L503.7,488.1 L504.0,488.9 L504.3,489.8 L504.6,490.7 L505.0,491.7 L505.3,492.6 L505.6,493.5 L506.0,494.5 L506.3,495.4 L506.6,496.3 L507.0,497.2 L507.3,498.1 L507.6,499.0 L507.9,499.9 L508.3,500.7 L508.6,501.6 L508.9,502.4 L509.3,503.3 L509.6,504.1 L509.9,504.9 L510.2,505.6 L510.6,506.3 L510.9,506.9 L511.2,507.6 L511.6,508.1 L511.9,508.6 L512.2,509.0 L512.5,509.4 L512.9,509.7 L513.2,510.0 L513.5,510.1 L513.9,510.3 L514.2,510.4 L514.5,510.5 L514.9,510.6 L515.2,510.6 L515.5,510.7 L515.8,510.7 L516.2,510.7 L516.5,510.8 L516.8,510.8 L517.2,510.8 L517.5,510.9 L517.8,510.9 L518.1,511.0 L518.5,511.0 L518.8,511.0 L519.1,511.1 L519.5,511.1 L519.8,511.1 L520.1,511.2 L520.4,511.2 L520.8,511.2 L521.1,511.2 L521.4,511.2 L521.8,511.3 L522.1,511.3 L522.4,511.3 L522.7,511.5 L523.1,511.6 L523.4,512.0 L523.7,512.5 L524.1,513.3 L524.4,514.3 L524.7,515.7 L525.1,517.3 L525.4,519.3 L525.7,521.5 L526.0,523.8 L526.4,526.3 L526.7,528.8 L527.0,531.4 L527.4,534.0 L527.7,536.6 L528.0,539.4 L528.3,542.1 L528.7,544.9 L529.0,547.6 L529.3,550.2 L529.7,552.5 L530.0,554.3 L530.3,555.6 L530.6,556.4 L531.0,556.9 L531.3,557.0 L531.6,556.8 L532.0,556.3 L532.3,555.5 L532.6,554.3 L533.0,552.7 L533.3,550.7 L533.6,548.4 L533.9,545.8 L534.3,542.8 L534.6,539.6 L534.9,536.2 L535.3,532.5 L535.6,528.8 L535.9,525.0 L536.2,521.1 L536.6,517.2 L536.9,513.2 L537.2,509.2 L537.6,505.1 L537.9,500.9 L538.2,496.6 L538.5,492.5 L538.9,488.6 L539.2,484.8 L539.5,481.3 L539.9,477.9 L540.2,474.9 L540.5,472.0 L540.9,469.2 L541.2,466.6 L541.5,464.2 L541.8,461.9 L542.2,459.9 L542.5,458.2 L542.8,456.6 L543.2,455.2 L543.5,453.8 L543.8,452.7 L544.1,451.7 L544.5,451.0 L544.8,450.5 L545.1,450.0 L545.5,449.6 L545.8,449.3 L546.1,449.2 L546.4,449.3 L546.8,449.5 L547.1,449.7 L547.4,450.0 L547.8,450.3 L548.1,450.6 L548.4,451.1 L548.7,451.5 L549.1,451.9 L549.4,452.3 L549.7,452.5 L550.1,452.6 L550.4,452.7 L550.7,452.8 L551.1,452.9 L551.4,452.9 L551.7,453.0 L552.0,453.0 L552.4,453.0 L552.7,452.8 L553.0,452.6 L553.4,452.4 L553.7,452.1 L554.0,451.7 L554.3,451.4 L554.7,451.0 L555.0,450.4 L555.3,449.7 L555.7,448.9 L556.0,448.1 L556.3,447.1 L556.6,446.2 L557.0,445.3 L557.3,444.4 L557.6,443.5 L558.0,442.7 L558.3,442.0 L558.6,441.4 L559.0,440.9 L559.3,440.3 L559.6,439.7 L559.9,439.1 L560.3,438.6 L560.6,438.0 L560.9,437.4 L561.3,436.9 L561.6,436.3 L561.9,435.7 L562.2,435.2 L562.6,434.6 L562.9,434.0 L563.2,433.5 L563.6,432.9 L563.9,432.3 L564.2,431.8 L564.5,431.2 L564.9,430.6 L565.2,430.1 L565.5,429.5 L565.9,428.9 L566.2,428.4 L566.5,427.8 L566.9,427.2 L567.2,426.7 L567.5,426.1 L567.8,425.5 L568.2,425.0 L568.5,424.4 L568.8,423.8 L569.2,423.3 L569.5,422.7 L569.8,422.1 L570.1,421.6 L570.5,421.0 L570.8,420.4 L571.1,419.9 L571.5,419.3 L571.8,418.7 L572.1,418.1 L572.4,417.6 L572.8,417.0 L573.1,416.4 L573.4,415.9 L573.8,415.3 L574.1,414.7 L574.4,414.2 L574.7,413.6 L575.1,413.0 L575.4,412.5 L575.7,411.9 L576.1,411.3 L576.4,410.8 L576.7,410.2 L577.1,409.6 L577.4,409.1 L577.7,408.5 L578.0,407.9 L578.4,407.4 L578.7,406.8 L579.0,406.2 L579.4,405.7 L579.7,405.1 L580.0,404.5 L580.3,404.0 L580.7,403.4 L581.0,402.8 L581.3,402.3 L581.7,401.7 L582.0,401.1 L582.3,400.6 L582.6,400.0 L583.0,399.4 L583.3,398.9 L583.6,398.3 L584.0,397.7 L584.3,397.1 L584.6,396.6 L585.0,396.0 L585.3,395.4 L585.6,394.9 L585.9,394.3 L586.3,393.7 L586.6,393.2 L586.9,392.6 L587.3,392.0 L587.6,391.5 L587.9,390.9 L588.2,390.3 L588.6,389.8 L588.9,389.2 L589.2,388.6 L589.6,388.1 L589.9,387.5 L590.2,386.9 L590.5,386.4 L590.9,385.8 L591.2,385.2 L591.5,384.7 L591.9,384.1 L592.2,383.5 L592.5,383.0 L592.9,382.4 L593.2,381.8 L593.5,381.3 L593.8,380.7 L594.2,380.1 L594.5,379.6 L594.8,379.0 L595.2,378.4 L595.5,377.9 L595.8,377.3 L596.1,376.7 L596.5,376.1 L596.8,375.6 L597.1,375.0 L597.5,374.4 L597.8,373.9 L598.1,373.3 L598.4,372.7 L598.8,372.2 L599.1,371.6 L599.4,371.0 L599.8,370.5 L600.1,369.9 L600.4,369.3 L600.7,368.8 L601.1,368.2 L601.4,367.6 L601.7,367.1 L602.1,366.5 L602.4,365.9 L602.7,365.4 L603.1,364.8 L603.4,364.2 L603.7,363.7 L604.0,363.1 L604.4,362.5 L604.7,362.0 L605.0,361.4 L605.4,360.8 L605.7,360.3 L606.0,359.7 L606.3,359.1 L606.7,358.6 L607.0,358.0 L607.3,357.4 L607.7,356.9 L608.0,356.3 L608.3,355.7 L608.6,355.1 L609.0,354.6 L609.3,354.0 L609.6,353.4 L610.0,352.9 L610.3,352.3 L610.6,351.7 L611.0,351.2 L611.3,350.6 L611.6,350.0 L611.9,349.5 L612.3,348.9 L612.6,348.3 L612.9,347.8 L613.3,347.2 L613.6,346.6 L613.9,346.1 L614.2,345.5 L614.6,344.9 L614.9,344.4 L615.2,343.8 L615.6,343.2 L615.9,342.7 L616.2,342.1 L616.5,341.5 L616.9,341.0 L617.2,340.4 L617.5,339.8 L617.9,339.3 L618.2,338.7 L618.5,338.1 L618.8,337.6 L619.2,337.0 L619.5,336.4 L619.8,335.9 L620.2,335.3 L620.5,334.7 L620.8,334.1 L621.2,333.6 L621.5,333.0 L621.8,332.4 L622.1,331.9 L622.5,331.3 L622.8,330.7 L623.1,330.2 L623.5,329.6 L623.8,329.0 L624.1,328.5 L624.4,327.9 L624.8,327.3 L625.1,326.8 L625.4,326.2 L625.8,325.6 L626.1,325.1 L626.4,324.5 L626.7,323.9 L627.1,323.4 L627.4,322.8 L627.7,322.2 L628.1,321.7 L628.4,321.1 L628.7,320.5 L629.1,320.0 L629.4,319.4 L629.7,318.8 L630.0,318.3 L630.4,317.7 L630.7,317.1 L631.0,316.6 L631.4,316.0 L631.7,315.4 L632.0,314.9 L632.3,314.3 L632.7,313.7 L633.0,313.1 L633.3,312.6 L633.7,312.0 L634.0,311.4 L634.3,310.9 L634.6,310.3 L635.0,309.7 L635.3,309.2 L635.6,308.6 L636.0,308.0 L636.3,307.5 L636.6,306.9 L637.0,306.3 L637.3,305.8 L637.6,305.2 L637.9,304.6 L638.3,304.1 L638.6,303.5 L638.9,302.9 L639.3,302.4 L639.6,301.8 L639.9,301.2 L640.2,300.7 L640.6,300.1 L640.9,299.5 L641.2,299.0 L641.6,298.4 L641.9,297.8 L642.2,297.3 L642.5,296.7 L642.9,296.1 L643.2,295.6 L643.5,295.0 L643.9,294.4 L644.2,293.9 L644.5,293.3 L644.8,292.7 L645.2,292.1 L645.5,291.6 L645.8,291.0 L646.2,290.4 L646.5,289.9 L646.8,289.3 L647.2,288.7 L647.5,288.2 L647.8,287.6 L648.1,287.0 L648.5,286.5 L648.8,285.9 L649.1,285.3 L649.5,284.8 L649.8,284.2 L650.1,283.6 L650.4,283.1 L650.8,282.5 L651.1,281.9 L651.4,281.4 L651.8,280.8 L652.1,280.2 L652.4,279.7 L652.7,279.1 L653.1,278.5 L653.4,278.0 L653.7,277.4 L654.1,276.8 L654.4,276.3 L654.7,275.7 L655.1,275.1 L655.4,274.6 L655.7,274.0 L656.0,273.4 L656.4,272.8 L656.7,272.3 L657.0,271.7 L657.4,271.1 L657.7,270.6 L658.0,270.0 L658.3,269.4 L658.7,268.9 L659.0,268.3 L659.3,267.7 L659.7,267.2 L660.0,266.6 L660.3,266.0 L660.6,265.5 L661.0,264.9 L661.3,264.3 L661.6,263.8 L662.0,263.2 L662.3,262.6 L662.6,262.1 L663.0,261.5 L663.3,260.9 L663.6,260.4 L663.9,259.8 L664.3,259.3 L664.6,258.8 L664.9,258.3 L665.3,257.9 L665.6,257.5 L665.9,257.2 L666.2,256.9 L666.6,256.7 L666.9,256.6" stroke="#055F91" stroke-width="3.3"/><path d="M74.5,183.7 L74.8,183.6 L75.2,183.6 L75.5,183.7 L75.8,183.8 L76.1,184.1 L76.5,184.4 L76.8,184.8 L77.1,185.3 L77.5,185.8 L77.8,186.4 L78.1,187.0 L78.4,187.6 L78.8,188.3 L79.1,188.9 L79.4,189.7 L79.8,190.4 L80.1,191.2 L80.4,191.9 L80.8,192.7 L81.1,193.6 L81.4,194.4 L81.7,195.3 L82.1,196.2 L82.4,197.2 L82.7,198.2 L83.1,199.1 L83.4,200.1 L83.7,201.1 L84.0,202.1 L84.4,203.1 L84.7,204.1 L85.0,205.0 L85.4,205.9 L85.7,206.9 L86.0,207.8 L86.3,208.7 L86.7,209.6 L87.0,210.5 L87.3,211.4 L87.7,212.2 L88.0,213.1 L88.3,214.0 L88.7,214.9 L89.0,215.7 L89.3,216.6 L89.6,217.4 L90.0,218.2 L90.3,219.1 L90.6,219.9 L91.0,220.7 L91.3,221.4 L91.6,222.2 L91.9,223.0 L92.3,223.8 L92.6,224.5 L92.9,225.3 L93.3,226.1 L93.6,226.8 L93.9,227.6 L94.2,228.3 L94.6,229.1 L94.9,229.8 L95.2,230.5 L95.6,231.3 L95.9,232.0 L96.2,232.8 L96.6,233.5 L96.9,234.3 L97.2,235.0 L97.5,235.8 L97.9,236.5 L98.2,237.3 L98.5,238.0 L98.9,238.7 L99.2,239.5 L99.5,240.2 L99.8,241.0 L100.2,241.7 L100.5,242.5 L100.8,243.2 L101.2,243.9 L101.5,244.7 L101.8,245.4 L102.1,246.1 L102.5,246.9 L102.8,247.6 L103.1,248.3 L103.5,249.1 L103.8,249.8 L104.1,250.5 L104.4,251.3 L104.8,252.0 L105.1,252.7 L105.4,253.5 L105.8,254.2 L106.1,254.9 L106.4,255.7 L106.8,256.4 L107.1,257.1 L107.4,257.9 L107.7,258.6 L108.1,259.3 L108.4,260.0 L108.7,260.8 L109.1,261.5 L109.4,262.2 L109.7,262.9 L110.0,263.7 L110.4,264.4 L110.7,265.1 L111.0,265.8 L111.4,266.6 L111.7,267.3 L112.0,268.0 L112.3,268.7 L112.7,269.4 L113.0,270.2 L113.3,270.9 L113.7,271.6 L114.0,272.3 L114.3,273.0 L114.7,273.8 L115.0,274.5 L115.3,275.2 L115.6,275.9 L116.0,276.6 L116.3,277.4 L116.6,278.1 L117.0,278.8 L117.3,279.5 L117.6,280.2 L117.9,280.9 L118.3,281.7 L118.6,282.4 L118.9,283.1 L119.3,283.8 L119.6,284.5 L119.9,285.2 L120.2,285.9 L120.6,286.7 L120.9,287.4 L121.2,288.1 L121.6,288.8 L121.9,289.5 L122.2,290.2 L122.6,290.9 L122.9,291.7 L123.2,292.4 L123.5,293.1 L123.9,293.8 L124.2,294.5 L124.5,295.2 L124.9,295.9 L125.2,296.6 L125.5,297.4 L125.8,298.1 L126.2,298.8 L126.5,299.5 L126.8,300.2 L127.2,300.9 L127.5,301.6 L127.8,302.3 L128.1,303.1 L128.5,303.8 L128.8,304.5 L129.1,305.2 L129.5,305.9 L129.8,306.6 L130.1,307.3 L130.4,308.0 L130.8,308.8 L131.1,309.5 L131.4,310.2 L131.8,310.9 L132.1,311.6 L132.4,312.3 L132.8,313.0 L133.1,313.7 L133.4,314.4 L133.7,315.2 L134.1,315.9 L134.4,316.6 L134.7,317.3 L135.1,318.0 L135.4,318.7 L135.7,319.4 L136.0,320.1 L136.4,320.9 L136.7,321.6 L137.0,322.3 L137.4,323.0 L137.7,323.7 L138.0,324.4 L138.3,325.1 L138.7,325.9 L139.0,326.6 L139.3,327.3 L139.7,328.0 L140.0,328.7 L140.3,329.4 L140.7,330.1 L141.0,330.9 L141.3,331.6 L141.6,332.3 L142.0,333.0 L142.3,333.7 L142.6,334.4 L143.0,335.1 L143.3,335.9 L143.6,336.6 L143.9,337.3 L144.3,338.0 L144.6,338.7 L144.9,339.4 L145.3,340.1 L145.6,340.8 L145.9,341.5 L146.2,342.3 L146.6,343.0 L146.9,343.7 L147.2,344.4 L147.6,345.1 L147.9,345.8 L148.2,346.5 L148.6,347.2 L148.9,347.9 L149.2,348.6 L149.5,349.3 L149.9,350.1 L150.2,350.8 L150.5,351.5 L150.9,352.2 L151.2,352.9 L151.5,353.6 L151.8,354.3 L152.2,355.0 L152.5,355.7 L152.8,356.4 L153.2,357.1 L153.5,357.8 L153.8,358.5 L154.1,359.2 L154.5,359.9 L154.8,360.6 L155.1,361.3 L155.5,362.1 L155.8,362.8 L156.1,363.5 L156.4,364.2 L156.8,364.9 L157.1,365.6 L157.4,366.3 L157.8,367.0 L158.1,367.7 L158.4,368.4 L158.8,369.1 L159.1,369.8 L159.4,370.5 L159.7,371.2 L160.1,371.9 L160.4,372.6 L160.7,373.3 L161.1,374.0 L161.4,374.7 L161.7,375.4 L162.0,376.1 L162.4,376.9 L162.7,377.6 L163.0,378.3 L163.4,379.0 L163.7,379.7 L164.0,380.4 L164.3,381.1 L164.7,381.8 L165.0,382.5 L165.3,383.2 L165.7,383.9 L166.0,384.6 L166.3,385.3 L166.7,386.0 L167.0,386.7 L167.3,387.4 L167.6,388.2 L168.0,388.9 L168.3,389.6 L168.6,390.3 L169.0,391.0 L169.3,391.7 L169.6,392.4 L169.9,393.1 L170.3,393.8 L170.6,394.5 L170.9,395.2 L171.3,395.9 L171.6,396.7 L171.9,397.4 L172.2,398.1 L172.6,398.8 L172.9,399.5 L173.2,400.2 L173.6,400.9 L173.9,401.6 L174.2,402.3 L174.5,403.1 L174.9,403.8 L175.2,404.5 L175.5,405.2 L175.9,405.9 L176.2,406.6 L176.5,407.3 L176.9,408.1 L177.2,408.8 L177.5,409.5 L177.8,410.2 L178.2,410.9 L178.5,411.6 L178.8,412.4 L179.2,413.1 L179.5,413.8 L179.8,414.5 L180.1,415.2 L180.5,416.0 L180.8,416.7 L181.1,417.4 L181.5,418.1 L181.8,418.8 L182.1,419.6 L182.4,420.3 L182.8,421.0 L183.1,421.7 L183.4,422.4 L183.8,423.2 L184.1,423.9 L184.4,424.6 L184.8,425.3 L185.1,426.0 L185.4,426.8 L185.7,427.5 L186.1,428.2 L186.4,428.9 L186.7,429.6 L187.1,430.4 L187.4,431.1 L187.7,431.8 L188.0,432.5 L188.4,433.3 L188.7,434.0 L189.0,434.7 L189.4,435.4 L189.7,436.2 L190.0,436.9 L190.3,437.6 L190.7,438.4 L191.0,439.1 L191.3,439.8 L191.7,440.6 L192.0,441.3 L192.3,442.0 L192.7,442.8 L193.0,443.5 L193.3,444.2 L193.6,445.0 L194.0,445.7 L194.3,446.5 L194.6,447.2 L195.0,448.0 L195.3,448.8 L195.6,449.5 L195.9,450.3 L196.3,451.0 L196.6,451.8 L196.9,452.6 L197.3,453.4 L197.6,454.1 L197.9,454.9 L198.2,455.7 L198.6,456.5 L198.9,457.3 L199.2,458.1 L199.6,458.9 L199.9,459.7 L200.2,460.5 L200.5,461.2 L200.9,462.0 L201.2,462.8 L201.5,463.6 L201.9,464.4 L202.2,465.2 L202.5,466.1 L202.9,466.9 L203.2,467.8 L203.5,468.7 L203.8,469.7 L204.2,470.6 L204.5,471.6 L204.8,472.6 L205.2,473.6 L205.5,474.6 L205.8,475.5 L206.1,476.6 L206.5,477.6 L206.8,478.6 L207.1,479.7 L207.5,480.7 L207.8,481.8 L208.1,482.9 L208.4,484.1 L208.8,485.3 L209.1,486.5 L209.4,487.7 L209.8,488.8 L210.1,490.0 L210.4,491.1 L210.8,492.2 L211.1,493.2 L211.4,494.3 L211.7,495.2 L212.1,496.2 L212.4,497.2 L212.7,498.1 L213.1,498.9 L213.4,499.8 L213.7,500.6 L214.0,501.4 L214.4,502.2 L214.7,503.0 L215.0,503.8 L215.4,504.6 L215.7,505.4 L216.0,506.1 L216.3,506.8 L216.7,507.4 L217.0,508.0 L217.3,508.5 L217.7,509.0 L218.0,509.3 L218.3,509.6 L218.7,509.8 L219.0,510.0 L219.3,510.1 L219.6,510.3 L220.0,510.4 L220.3,510.5 L220.6,510.6 L221.0,510.7 L221.3,510.8 L221.6,510.9 L221.9,510.9 L222.3,511.0 L222.6,511.0 L222.9,511.1 L223.3,511.1 L223.6,511.1 L223.9,511.2 L224.2,511.2 L224.6,511.2 L224.9,511.2 L225.2,511.2 L225.6,511.3 L225.9,511.3 L226.2,511.4 L226.5,511.5 L226.9,511.6 L227.2,511.9 L227.5,512.4 L227.9,513.1 L228.2,514.0 L228.5,515.3 L228.9,516.9 L229.2,518.8 L229.5,521.0 L229.8,523.4 L230.2,525.9 L230.5,528.4 L230.8,530.9 L231.2,533.5 L231.5,536.1 L231.8,538.8 L232.1,541.5 L232.5,544.2 L232.8,547.0 L233.1,549.8 L233.5,552.4 L233.8,554.7 L234.1,556.8 L234.4,558.6 L234.8,560.1 L235.1,561.2 L235.4,562.1 L235.8,562.7 L236.1,563.0 L236.4,562.9 L236.8,562.4 L237.1,561.5 L237.4,560.2 L237.7,558.8 L238.1,557.0 L238.4,555.0 L238.7,552.7 L239.1,550.1 L239.4,547.3 L239.7,544.2 L240.0,540.8 L240.4,537.1 L240.7,533.1 L241.0,529.0 L241.4,524.7 L241.7,520.2 L242.0,515.6 L242.3,510.9 L242.7,506.1 L243.0,501.4 L243.3,496.6 L243.7,491.8 L244.0,487.0 L244.3,482.3 L244.7,477.7 L245.0,473.2 L245.3,468.4 L245.6,463.2 L246.0,458.0 L246.3,453.2 L246.6,448.9 L247.0,445.0 L247.3,441.3 L247.6,437.9 L247.9,434.7 L248.3,431.9 L248.6,429.6 L248.9,427.5 L249.3,425.6 L249.6,423.8 L249.9,422.3 L250.2,421.1 L250.6,420.3 L250.9,419.7 L251.2,419.2 L251.6,418.8 L251.9,418.6 L252.2,418.5 L252.5,418.6 L252.9,418.8 L253.2,419.1 L253.5,419.5 L253.9,419.9 L254.2,420.3 L254.5,420.7 L254.9,421.3 L255.2,422.0 L255.5,422.8 L255.8,423.5 L256.2,424.2 L256.5,424.9 L256.8,425.5 L257.2,426.0 L257.5,426.4 L257.8,426.8 L258.1,427.2 L258.5,427.6 L258.8,427.9 L259.1,428.1 L259.5,428.3 L259.8,428.3 L260.1,428.3 L260.4,428.1 L260.8,427.9 L261.1,427.7 L261.4,427.4 L261.8,427.1 L262.1,426.7 L262.4,426.3 L262.8,425.8 L263.1,425.2 L263.4,424.6 L263.7,423.9 L264.1,423.1 L264.4,422.2 L264.7,421.1 L265.1,419.9 L265.4,418.5 L265.7,417.1 L266.0,415.7 L266.4,414.3 L266.7,413.1 L267.0,412.1 L267.4,411.4 L267.7,410.7 L268.0,410.0 L268.3,409.3 L268.7,408.5 L269.0,407.8 L269.3,407.1 L269.7,406.4 L270.0,405.7 L270.3,404.9 L270.7,404.2 L271.0,403.5 L271.3,402.8 L271.6,402.0 L272.0,401.3 L272.3,400.6 L272.6,399.9 L273.0,399.2 L273.3,398.4 L273.6,397.7 L273.9,397.0 L274.3,396.3 L274.6,395.5 L274.9,394.8 L275.3,394.1 L275.6,393.4 L275.9,392.6 L276.2,391.9 L276.6,391.2 L276.9,390.5 L277.2,389.8 L277.6,389.0 L277.9,388.3 L278.2,387.6 L278.5,386.9 L278.9,386.1 L279.2,385.4 L279.5,384.7 L279.9,384.0 L280.2,383.2 L280.5,382.5 L280.9,381.8 L281.2,381.1 L281.5,380.3 L281.8,379.6 L282.2,378.9 L282.5,378.2 L282.8,377.4 L283.2,376.7 L283.5,376.0 L283.8,375.3 L284.1,374.5 L284.5,373.8 L284.8,373.1 L285.1,372.4 L285.5,371.6 L285.8,370.9 L286.1,370.2 L286.4,369.5 L286.8,368.7 L287.1,368.0 L287.4,367.3 L287.8,366.6 L288.1,365.8 L288.4,365.1 L288.8,364.4 L289.1,363.7 L289.4,362.9 L289.7,362.2 L290.1,361.5 L290.4,360.8 L290.7,360.0 L291.1,359.3 L291.4,358.6 L291.7,357.8 L292.0,357.1 L292.4,356.4 L292.7,355.7 L293.0,354.9 L293.4,354.2 L293.7,353.5 L294.0,352.8 L294.3,352.0 L294.7,351.3 L295.0,350.6 L295.3,349.8 L295.7,349.1 L296.0,348.4 L296.3,347.7 L296.6,346.9 L297.0,346.2 L297.3,345.5 L297.6,344.8 L298.0,344.0 L298.3,343.3 L298.6,342.6 L299.0,341.8 L299.3,341.1 L299.6,340.4 L299.9,339.7 L300.3,338.9 L300.6,338.2 L300.9,337.5 L301.3,336.7 L301.6,336.0 L301.9,335.3 L302.2,334.6 L302.6,333.8 L302.9,333.1 L303.2,332.4 L303.6,331.6 L303.9,330.9 L304.2,330.2 L304.5,329.4 L304.9,328.7 L305.2,328.0 L305.5,327.3 L305.9,326.5 L306.2,325.8 L306.5,325.1 L306.9,324.3 L307.2,323.6 L307.5,322.9 L307.8,322.1 L308.2,321.4 L308.5,320.7 L308.8,320.0 L309.2,319.2 L309.5,318.5 L309.8,317.8 L310.1,317.0 L310.5,316.3 L310.8,315.6 L311.1,314.8 L311.5,314.1 L311.8,313.4 L312.1,312.7 L312.4,311.9 L312.8,311.2 L313.1,310.5 L313.4,309.7 L313.8,309.0 L314.1,308.3 L314.4,307.5 L314.8,306.8 L315.1,306.1 L315.4,305.3 L315.7,304.6 L316.1,303.9 L316.4,303.1 L316.7,302.4 L317.1,301.7 L317.4,300.9 L317.7,300.2 L318.0,299.5 L318.4,298.7 L318.7,298.0 L319.0,297.3 L319.4,296.5 L319.7,295.8 L320.0,295.1 L320.3,294.3 L320.7,293.6 L321.0,292.9 L321.3,292.2 L321.7,291.4 L322.0,290.7 L322.3,290.0 L322.6,289.2 L323.0,288.5 L323.3,287.7 L323.6,287.0 L324.0,286.3 L324.3,285.5 L324.6,284.8 L325.0,284.1 L325.3,283.3 L325.6,282.6 L325.9,281.9 L326.3,281.1 L326.6,280.4 L326.9,279.7 L327.3,278.9 L327.6,278.2 L327.9,277.5 L328.2,276.7 L328.6,276.0 L328.9,275.3 L329.2,274.5 L329.6,273.8 L329.9,273.1 L330.2,272.3 L330.5,271.6 L330.9,270.9 L331.2,270.1 L331.5,269.4 L331.9,268.7 L332.2,267.9 L332.5,267.2 L332.9,266.4 L333.2,265.7 L333.5,265.0 L333.8,264.2 L334.2,263.5 L334.5,262.8 L334.8,262.0 L335.2,261.3 L335.5,260.6 L335.8,259.8 L336.1,259.1 L336.5,258.3 L336.8,257.6 L337.1,256.9 L337.5,256.1 L337.8,255.4 L338.1,254.7 L338.4,253.9 L338.8,253.2 L339.1,252.5 L339.4,251.7 L339.8,251.0 L340.1,250.2 L340.4,249.5 L340.8,248.8 L341.1,248.0 L341.4,247.3 L341.7,246.6 L342.1,245.8 L342.4,245.1 L342.7,244.3 L343.1,243.6 L343.4,242.9 L343.7,242.1 L344.0,241.4 L344.4,240.7 L344.7,239.9 L345.0,239.2 L345.4,238.4 L345.7,237.7 L346.0,237.0 L346.3,236.2 L346.7,235.5 L347.0,234.7 L347.3,234.0 L347.7,233.3 L348.0,232.5 L348.3,231.8 L348.6,231.1 L349.0,230.3 L349.3,229.6 L349.6,228.8 L350.0,228.1 L350.3,227.4 L350.6,226.6 L351.0,225.9 L351.3,225.1 L351.6,224.4 L351.9,223.7 L352.3,222.9 L352.6,222.2 L352.9,221.4 L353.3,220.7 L353.6,220.0 L353.9,219.2 L354.2,218.5 L354.6,217.7 L354.9,217.0 L355.2,216.3 L355.6,215.5 L355.9,214.8 L356.2,214.0 L356.5,213.3 L356.9,212.6 L357.2,211.8 L357.5,211.1 L357.9,210.3 L358.2,209.6 L358.5,208.8 L358.9,208.1 L359.2,207.4 L359.5,206.6 L359.8,205.9 L360.2,205.1 L360.5,204.4 L360.8,203.7 L361.2,202.9 L361.5,202.2 L361.8,201.4 L362.1,200.7 L362.5,199.9 L362.8,199.2 L363.1,198.5 L363.5,197.7 L363.8,197.0 L364.1,196.2 L364.4,195.5 L364.8,194.7 L365.1,194.0 L365.4,193.3 L365.8,192.5 L366.1,191.8 L366.4,191.0 L366.8,190.3 L367.1,189.6 L367.4,188.8 L367.7,188.1 L368.1,187.4 L368.4,186.8 L368.7,186.1 L369.1,185.5 L369.4,185.0 L369.7,184.6 L370.0,184.2 L370.4,183.9 L370.7,183.7 L371.0,183.6 L371.4,183.6 L371.7,183.7 L372.0,183.8 L372.3,184.1 L372.7,184.4 L373.0,184.8 L373.3,185.3 L373.7,185.8 L374.0,186.4 L374.3,187.0 L374.6,187.6 L375.0,188.3 L375.3,188.9 L375.6,189.7 L376.0,190.4 L376.3,191.2 L376.6,191.9 L377.0,192.7 L377.3,193.6 L377.6,194.4 L377.9,195.3 L378.3,196.2 L378.6,197.2 L378.9,198.2 L379.3,199.1 L379.6,200.1 L379.9,201.1 L380.2,202.1 L380.6,203.1 L380.9,204.1 L381.2,205.0 L381.6,205.9 L381.9,206.9 L382.2,207.8 L382.5,208.7 L382.9,209.6 L383.2,210.5 L383.5,211.4 L383.9,212.2 L384.2,213.1 L384.5,214.0 L384.9,214.9 L385.2,215.7 L385.5,216.6 L385.8,217.4 L386.2,218.2 L386.5,219.1 L386.8,219.9 L387.2,220.7 L387.5,221.4 L387.8,222.2 L388.1,223.0 L388.5,223.8 L388.8,224.5 L389.1,225.3 L389.5,226.1 L389.8,226.8 L390.1,227.6 L390.4,228.3 L390.8,229.1 L391.1,229.8 L391.4,230.5 L391.8,231.3 L392.1,232.0 L392.4,232.8 L392.8,233.5 L393.1,234.3 L393.4,235.0 L393.7,235.8 L394.1,236.5 L394.4,237.3 L394.7,238.0 L395.1,238.7 L395.4,239.5 L395.7,240.2 L396.0,241.0 L396.4,241.7 L396.7,242.5 L397.0,243.2 L397.4,243.9 L397.7,244.7 L398.0,245.4 L398.3,246.1 L398.7,246.9 L399.0,247.6 L399.3,248.3 L399.7,249.1 L400.0,249.8 L400.3,250.5 L400.6,251.3 L401.0,252.0 L401.3,252.7 L401.6,253.5 L402.0,254.2 L402.3,254.9 L402.6,255.7 L403.0,256.4 L403.3,257.1 L403.6,257.9 L403.9,258.6 L404.3,259.3 L404.6,260.0 L404.9,260.8 L405.3,261.5 L405.6,262.2 L405.9,262.9 L406.2,263.7 L406.6,264.4 L406.9,265.1 L407.2,265.8 L407.6,266.6 L407.9,267.3 L408.2,268.0 L408.5,268.7 L408.9,269.4 L409.2,270.2 L409.5,270.9 L409.9,271.6 L410.2,272.3 L410.5,273.0 L410.9,273.8 L411.2,274.5 L411.5,275.2 L411.8,275.9 L412.2,276.6 L412.5,277.4 L412.8,278.1 L413.2,278.8 L413.5,279.5 L413.8,280.2 L414.1,280.9 L414.5,281.7 L414.8,282.4 L415.1,283.1 L415.5,283.8 L415.8,284.5 L416.1,285.2 L416.4,285.9 L416.8,286.7 L417.1,287.4 L417.4,288.1 L417.8,288.8 L418.1,289.5 L418.4,290.2 L418.8,290.9 L419.1,291.7 L419.4,292.4 L419.7,293.1 L420.1,293.8 L420.4,294.5 L420.7,295.2 L421.1,295.9 L421.4,296.6 L421.7,297.4 L422.0,298.1 L422.4,298.8 L422.7,299.5 L423.0,300.2 L423.4,300.9 L423.7,301.6 L424.0,302.3 L424.3,303.1 L424.7,303.8 L425.0,304.5 L425.3,305.2 L425.7,305.9 L426.0,306.6 L426.3,307.3 L426.6,308.0 L427.0,308.8 L427.3,309.5 L427.6,310.2 L428.0,310.9 L428.3,311.6 L428.6,312.3 L429.0,313.0 L429.3,313.7 L429.6,314.4 L429.9,315.2 L430.3,315.9 L430.6,316.6 L430.9,317.3 L431.3,318.0 L431.6,318.7 L431.9,319.4 L432.2,320.1 L432.6,320.9 L432.9,321.6 L433.2,322.3 L433.6,323.0 L433.9,323.7 L434.2,324.4 L434.5,325.1 L434.9,325.9 L435.2,326.6 L435.5,327.3 L435.9,328.0 L436.2,328.7 L436.5,329.4 L436.9,330.1 L437.2,330.9 L437.5,331.6 L437.8,332.3 L438.2,333.0 L438.5,333.7 L438.8,334.4 L439.2,335.1 L439.5,335.9 L439.8,336.6 L440.1,337.3 L440.5,338.0 L440.8,338.7 L441.1,339.4 L441.5,340.1 L441.8,340.8 L442.1,341.5 L442.4,342.3 L442.8,343.0 L443.1,343.7 L443.4,344.4 L443.8,345.1 L444.1,345.8 L444.4,346.5 L444.8,347.2 L445.1,347.9 L445.4,348.6 L445.7,349.3 L446.1,350.1 L446.4,350.8 L446.7,351.5 L447.1,352.2 L447.4,352.9 L447.7,353.6 L448.0,354.3 L448.4,355.0 L448.7,355.7 L449.0,356.4 L449.4,357.1 L449.7,357.8 L450.0,358.5 L450.3,359.2 L450.7,359.9 L451.0,360.6 L451.3,361.3 L451.7,362.1 L452.0,362.8 L452.3,363.5 L452.6,364.2 L453.0,364.9 L453.3,365.6 L453.6,366.3 L454.0,367.0 L454.3,367.7 L454.6,368.4 L455.0,369.1 L455.3,369.8 L455.6,370.5 L455.9,371.2 L456.3,371.9 L456.6,372.6 L456.9,373.3 L457.3,374.0 L457.6,374.7 L457.9,375.4 L458.2,376.1 L458.6,376.9 L458.9,377.6 L459.2,378.3 L459.6,379.0 L459.9,379.7 L460.2,380.4 L460.5,381.1 L460.9,381.8 L461.2,382.5 L461.5,383.2 L461.9,383.9 L462.2,384.6 L462.5,385.3 L462.9,386.0 L463.2,386.7 L463.5,387.4 L463.8,388.2 L464.2,388.9 L464.5,389.6 L464.8,390.3 L465.2,391.0 L465.5,391.7 L465.8,392.4 L466.1,393.1 L466.5,393.8 L466.8,394.5 L467.1,395.2 L467.5,395.9 L467.8,396.7 L468.1,397.4 L468.4,398.1 L468.8,398.8 L469.1,399.5 L469.4,400.2 L469.8,400.9 L470.1,401.6 L470.4,402.3 L470.7,403.1 L471.1,403.8 L471.4,404.5 L471.7,405.2 L472.1,405.9 L472.4,406.6 L472.7,407.3 L473.1,408.1 L473.4,408.8 L473.7,409.5 L474.0,410.2 L474.4,410.9 L474.7,411.6 L475.0,412.4 L475.4,413.1 L475.7,413.8 L476.0,414.5 L476.3,415.2 L476.7,416.0 L477.0,416.7 L477.3,417.4 L477.7,418.1 L478.0,418.8 L478.3,419.6 L478.6,420.3 L479.0,421.0 L479.3,421.7 L479.6,422.4 L480.0,423.2 L480.3,423.9 L480.6,424.6 L481.0,425.3 L481.3,426.0 L481.6,426.8 L481.9,427.5 L482.3,428.2 L482.6,428.9 L482.9,429.6 L483.3,430.4 L483.6,431.1 L483.9,431.8 L484.2,432.5 L484.6,433.3 L484.9,434.0 L485.2,434.7 L485.6,435.4 L485.9,436.2 L486.2,436.9 L486.5,437.6 L486.9,438.4 L487.2,439.1 L487.5,439.8 L487.9,440.6 L488.2,441.3 L488.5,442.0 L488.9,442.8 L489.2,443.5 L489.5,444.2 L489.8,445.0 L490.2,445.7 L490.5,446.5 L490.8,447.2 L491.2,448.0 L491.5,448.8 L491.8,449.5 L492.1,450.3 L492.5,451.0 L492.8,451.8 L493.1,452.6 L493.5,453.4 L493.8,454.1 L494.1,454.9 L494.4,455.7 L494.8,456.5 L495.1,457.3 L495.4,458.1 L495.8,458.9 L496.1,459.7 L496.4,460.5 L496.7,461.2 L497.1,462.0 L497.4,462.8 L497.7,463.6 L498.1,464.4 L498.4,465.2 L498.7,466.1 L499.1,466.9 L499.4,467.8 L499.7,468.7 L500.0,469.7 L500.4,470.6 L500.7,471.6 L501.0,472.6 L501.4,473.6 L501.7,474.6 L502.0,475.5 L502.3,476.6 L502.7,477.6 L503.0,478.6 L503.3,479.7 L503.7,480.7 L504.0,481.8 L504.3,482.9 L504.6,484.1 L505.0,485.3 L505.3,486.5 L505.6,487.7 L506.0,488.8 L506.3,490.0 L506.6,491.1 L507.0,492.2 L507.3,493.2 L507.6,494.3 L507.9,495.2 L508.3,496.2 L508.6,497.2 L508.9,498.1 L509.3,498.9 L509.6,499.8 L509.9,500.6 L510.2,501.4 L510.6,502.2 L510.9,503.0 L511.2,503.8 L511.6,504.6 L511.9,505.4 L512.2,506.1 L512.5,506.8 L512.9,507.4 L513.2,508.0 L513.5,508.5 L513.9,509.0 L514.2,509.3 L514.5,509.6 L514.9,509.8 L515.2,510.0 L515.5,510.1 L515.8,510.3 L516.2,510.4 L516.5,510.5 L516.8,510.6 L517.2,510.7 L517.5,510.8 L517.8,510.9 L518.1,510.9 L518.5,511.0 L518.8,511.0 L519.1,511.1 L519.5,511.1 L519.8,511.1 L520.1,511.2 L520.4,511.2 L520.8,511.2 L521.1,511.2 L521.4,511.2 L521.8,511.3 L522.1,511.3 L522.4,511.4 L522.7,511.5 L523.1,511.6 L523.4,511.9 L523.7,512.4 L524.1,513.1 L524.4,514.0 L524.7,515.3 L525.1,516.9 L525.4,518.8 L525.7,521.0 L526.0,523.4 L526.4,525.9 L526.7,528.4 L527.0,530.9 L527.4,533.5 L527.7,536.1 L528.0,538.8 L528.3,541.5 L528.7,544.2 L529.0,547.0 L529.3,549.8 L529.7,552.4 L530.0,554.7 L530.3,556.8 L530.6,558.6 L531.0,560.1 L531.3,561.2 L531.6,562.1 L532.0,562.7 L532.3,563.0 L532.6,562.9 L533.0,562.4 L533.3,561.5 L533.6,560.2 L533.9,558.8 L534.3,557.0 L534.6,555.0 L534.9,552.7 L535.3,550.1 L535.6,547.3 L535.9,544.2 L536.2,540.8 L536.6,537.1 L536.9,533.1 L537.2,529.0 L537.6,524.7 L537.9,520.2 L538.2,515.6 L538.5,510.9 L538.9,506.1 L539.2,501.4 L539.5,496.6 L539.9,491.8 L540.2,487.0 L540.5,482.3 L540.9,477.7 L541.2,473.2 L541.5,468.4 L541.8,463.2 L542.2,458.0 L542.5,453.2 L542.8,448.9 L543.2,445.0 L543.5,441.3 L543.8,437.9 L544.1,434.7 L544.5,431.9 L544.8,429.6 L545.1,427.5 L545.5,425.6 L545.8,423.8 L546.1,422.3 L546.4,421.1 L546.8,420.3 L547.1,419.7 L547.4,419.2 L547.8,418.8 L548.1,418.6 L548.4,418.5 L548.7,418.6 L549.1,418.8 L549.4,419.1 L549.7,419.5 L550.1,419.9 L550.4,420.3 L550.7,420.7 L551.1,421.3 L551.4,422.0 L551.7,422.8 L552.0,423.5 L552.4,424.2 L552.7,424.9 L553.0,425.5 L553.4,426.0 L553.7,426.4 L554.0,426.8 L554.3,427.2 L554.7,427.6 L555.0,427.9 L555.3,428.1 L555.7,428.3 L556.0,428.3 L556.3,428.3 L556.6,428.1 L557.0,427.9 L557.3,427.7 L557.6,427.4 L558.0,427.1 L558.3,426.7 L558.6,426.3 L559.0,425.8 L559.3,425.2 L559.6,424.6 L559.9,423.9 L560.3,423.1 L560.6,422.2 L560.9,421.1 L561.3,419.9 L561.6,418.5 L561.9,417.1 L562.2,415.7 L562.6,414.3 L562.9,413.1 L563.2,412.1 L563.6,411.4 L563.9,410.7 L564.2,410.0 L564.5,409.3 L564.9,408.5 L565.2,407.8 L565.5,407.1 L565.9,406.4 L566.2,405.7 L566.5,404.9 L566.9,404.2 L567.2,403.5 L567.5,402.8 L567.8,402.0 L568.2,401.3 L568.5,400.6 L568.8,399.9 L569.2,399.2 L569.5,398.4 L569.8,397.7 L570.1,397.0 L570.5,396.3 L570.8,395.5 L571.1,394.8 L571.5,394.1 L571.8,393.4 L572.1,392.6 L572.4,391.9 L572.8,391.2 L573.1,390.5 L573.4,389.8 L573.8,389.0 L574.1,388.3 L574.4,387.6 L574.7,386.9 L575.1,386.1 L575.4,385.4 L575.7,384.7 L576.1,384.0 L576.4,383.2 L576.7,382.5 L577.1,381.8 L577.4,381.1 L577.7,380.3 L578.0,379.6 L578.4,378.9 L578.7,378.2 L579.0,377.4 L579.4,376.7 L579.7,376.0 L580.0,375.3 L580.3,374.5 L580.7,373.8 L581.0,373.1 L581.3,372.4 L581.7,371.6 L582.0,370.9 L582.3,370.2 L582.6,369.5 L583.0,368.7 L583.3,368.0 L583.6,367.3 L584.0,366.6 L584.3,365.8 L584.6,365.1 L585.0,364.4 L585.3,363.7 L585.6,362.9 L585.9,362.2 L586.3,361.5 L586.6,360.8 L586.9,360.0 L587.3,359.3 L587.6,358.6 L587.9,357.8 L588.2,357.1 L588.6,356.4 L588.9,355.7 L589.2,354.9 L589.6,354.2 L589.9,353.5 L590.2,352.8 L590.5,352.0 L590.9,351.3 L591.2,350.6 L591.5,349.8 L591.9,349.1 L592.2,348.4 L592.5,347.7 L592.9,346.9 L593.2,346.2 L593.5,345.5 L593.8,344.8 L594.2,344.0 L594.5,343.3 L594.8,342.6 L595.2,341.8 L595.5,341.1 L595.8,340.4 L596.1,339.7 L596.5,338.9 L596.8,338.2 L597.1,337.5 L597.5,336.7 L597.8,336.0 L598.1,335.3 L598.4,334.6 L598.8,333.8 L599.1,333.1 L599.4,332.4 L599.8,331.6 L600.1,330.9 L600.4,330.2 L600.7,329.4 L601.1,328.7 L601.4,328.0 L601.7,327.3 L602.1,326.5 L602.4,325.8 L602.7,325.1 L603.1,324.3 L603.4,323.6 L603.7,322.9 L604.0,322.1 L604.4,321.4 L604.7,320.7 L605.0,320.0 L605.4,319.2 L605.7,318.5 L606.0,317.8 L606.3,317.0 L606.7,316.3 L607.0,315.6 L607.3,314.8 L607.7,314.1 L608.0,313.4 L608.3,312.7 L608.6,311.9 L609.0,311.2 L609.3,310.5 L609.6,309.7 L610.0,309.0 L610.3,308.3 L610.6,307.5 L611.0,306.8 L611.3,306.1 L611.6,305.3 L611.9,304.6 L612.3,303.9 L612.6,303.1 L612.9,302.4 L613.3,301.7 L613.6,300.9 L613.9,300.2 L614.2,299.5 L614.6,298.7 L614.9,298.0 L615.2,297.3 L615.6,296.5 L615.9,295.8 L616.2,295.1 L616.5,294.3 L616.9,293.6 L617.2,292.9 L617.5,292.2 L617.9,291.4 L618.2,290.7 L618.5,290.0 L618.8,289.2 L619.2,288.5 L619.5,287.7 L619.8,287.0 L620.2,286.3 L620.5,285.5 L620.8,284.8 L621.2,284.1 L621.5,283.3 L621.8,282.6 L622.1,281.9 L622.5,281.1 L622.8,280.4 L623.1,279.7 L623.5,278.9 L623.8,278.2 L624.1,277.5 L624.4,276.7 L624.8,276.0 L625.1,275.3 L625.4,274.5 L625.8,273.8 L626.1,273.1 L626.4,272.3 L626.7,271.6 L627.1,270.9 L627.4,270.1 L627.7,269.4 L628.1,268.7 L628.4,267.9 L628.7,267.2 L629.1,266.4 L629.4,265.7 L629.7,265.0 L630.0,264.2 L630.4,263.5 L630.7,262.8 L631.0,262.0 L631.4,261.3 L631.7,260.6 L632.0,259.8 L632.3,259.1 L632.7,258.3 L633.0,257.6 L633.3,256.9 L633.7,256.1 L634.0,255.4 L634.3,254.7 L634.6,253.9 L635.0,253.2 L635.3,252.5 L635.6,251.7 L636.0,251.0 L636.3,250.2 L636.6,249.5 L637.0,248.8 L637.3,248.0 L637.6,247.3 L637.9,246.6 L638.3,245.8 L638.6,245.1 L638.9,244.3 L639.3,243.6 L639.6,242.9 L639.9,242.1 L640.2,241.4 L640.6,240.7 L640.9,239.9 L641.2,239.2 L641.6,238.4 L641.9,237.7 L642.2,237.0 L642.5,236.2 L642.9,235.5 L643.2,234.7 L643.5,234.0 L643.9,233.3 L644.2,232.5 L644.5,231.8 L644.8,231.1 L645.2,230.3 L645.5,229.6 L645.8,228.8 L646.2,228.1 L646.5,227.4 L646.8,226.6 L647.2,225.9 L647.5,225.1 L647.8,224.4 L648.1,223.7 L648.5,222.9 L648.8,222.2 L649.1,221.4 L649.5,220.7 L649.8,220.0 L650.1,219.2 L650.4,218.5 L650.8,217.7 L651.1,217.0 L651.4,216.3 L651.8,215.5 L652.1,214.8 L652.4,214.0 L652.7,213.3 L653.1,212.6 L653.4,211.8 L653.7,211.1 L654.1,210.3 L654.4,209.6 L654.7,208.8 L655.1,208.1 L655.4,207.4 L655.7,206.6 L656.0,205.9 L656.4,205.1 L656.7,204.4 L657.0,203.7 L657.4,202.9 L657.7,202.2 L658.0,201.4 L658.3,200.7 L658.7,199.9 L659.0,199.2 L659.3,198.5 L659.7,197.7 L660.0,197.0 L660.3,196.2 L660.6,195.5 L661.0,194.7 L661.3,194.0 L661.6,193.3 L662.0,192.5 L662.3,191.8 L662.6,191.0 L663.0,190.3 L663.3,189.6 L663.6,188.8 L663.9,188.1 L664.3,187.4 L664.6,186.8 L664.9,186.1 L665.3,185.5 L665.6,185.0 L665.9,184.6 L666.2,184.2 L666.6,183.9 L666.9,183.7" stroke="#A064BE" stroke-width="3.6"/></g><rect x="74.95" y="9.7" width="592.15" height="571.80" fill="none" stroke="#000" stroke-width="2.3"/><path d="M74.50,581.5 V573.00 M107.41,581.5 V577.30 M140.32,581.5 V573.00 M173.23,581.5 V577.30 M206.14,581.5 V573.00 M239.06,581.5 V577.30 M271.97,581.5 V573.00 M304.88,581.5 V577.30 M337.79,581.5 V573.00 M370.70,581.5 V577.30 M403.61,581.5 V573.00 M436.52,581.5 V577.30 M469.43,581.5 V573.00 M502.34,581.5 V577.30 M535.26,581.5 V573.00 M568.17,581.5 V577.30 M601.08,581.5 V573.00 M633.99,581.5 V577.30 M666.90,581.5 V573.00 M74.95,581.93 H83.45 M74.95,546.16 H79.15 M74.95,510.40 H83.45 M74.95,474.64 H79.15 M74.95,438.87 H83.45 M74.95,403.11 H79.15 M74.95,367.34 H83.45 M74.95,331.58 H79.15 M74.95,295.82 H83.45 M74.95,260.05 H79.15 M74.95,224.29 H83.45 M74.95,188.52 H79.15 M74.95,152.76 H83.45 M74.95,117.00 H79.15 M74.95,81.23 H83.45 M74.95,45.47 H79.15 M74.95,9.70 H83.45" stroke="#000" stroke-width="2" fill="none"/><text transform="translate(74.50,611.5) scale(0.95,1)" font-family="Liberation Serif" font-weight="bold" font-size="26" text-anchor="middle">0</text><text transform="translate(140.32,611.5) scale(0.95,1)" font-family="Liberation Serif" font-weight="bold" font-size="26" text-anchor="middle">20</text><text transform="translate(206.14,611.5) scale(0.95,1)" font-family="Liberation Serif" font-weight="bold" font-size="26" text-anchor="middle">40</text><text transform="translate(271.97,611.5) scale(0.95,1)" font-family="Liberation Serif" font-weight="bold" font-size="26" text-anchor="middle">60</text><text transform="translate(337.79,611.5) scale(0.95,1)" font-family="Liberation Serif" font-weight="bold" font-size="26" text-anchor="middle">80</text><text transform="translate(403.61,611.5) scale(0.95,1)" font-family="Liberation Serif" font-weight="bold" font-size="26" text-anchor="middle">100</text><text transform="translate(469.43,611.5) scale(0.95,1)" font-family="Liberation Serif" font-weight="bold" font-size="26" text-anchor="middle">120</text><text transform="translate(535.26,611.5) scale(0.95,1)" font-family="Liberation Serif" font-weight="bold" font-size="26" text-anchor="middle">140</text><text transform="translate(601.08,611.5) scale(0.95,1)" font-family="Liberation Serif" font-weight="bold" font-size="26" text-anchor="middle">160</text><text transform="translate(666.90,611.5) scale(0.95,1)" font-family="Liberation Serif" font-weight="bold" font-size="26" text-anchor="middle">180</text><text transform="translate(64.8,589.63) scale(0.95,1)" font-family="Liberation Serif" font-weight="bold" font-size="26" text-anchor="end">-20</text><text transform="translate(64.8,518.10) scale(0.95,1)" font-family="Liberation Serif" font-weight="bold" font-size="26" text-anchor="end">0</text><text transform="translate(64.8,446.57) scale(0.95,1)" font-family="Liberation Serif" font-weight="bold" font-size="26" text-anchor="end">20</text><text transform="translate(64.8,375.04) scale(0.95,1)" font-family="Liberation Serif" font-weight="bold" font-size="26" text-anchor="end">40</text><text transform="translate(64.8,303.52) scale(0.95,1)" font-family="Liberation Serif" font-weight="bold" font-size="26" text-anchor="end">60</text><text transform="translate(64.8,231.99) scale(0.95,1)" font-family="Liberation Serif" font-weight="bold" font-size="26" text-anchor="end">80</text><text transform="translate(64.8,160.46) scale(0.95,1)" font-family="Liberation Serif" font-weight="bold" font-size="26" text-anchor="end">100</text><text transform="translate(64.8,88.93) scale(0.95,1)" font-family="Liberation Serif" font-weight="bold" font-size="26" text-anchor="end">120</text><text transform="translate(64.8,17.40) scale(0.95,1)" font-family="Liberation Serif" font-weight="bold" font-size="26" text-anchor="end">140</text><text x="371" y="644.7" font-family="Liberation Serif" font-weight="bold" font-size="31.5" text-anchor="middle">Rotational angle (°)</text><text transform="translate(23.2,295.6) rotate(-90)" x="0" y="0" font-family="Liberation Serif" font-weight="bold" font-size="31.5" text-anchor="middle">Outlet flow (L/min)</text><rect x="87" y="21" width="306" height="130.7" fill="#fff"/><line x1="89.7" y1="35.50" x2="135.3" y2="35.50" stroke="#FB9A06" stroke-width="3.2" stroke-linecap="round"/><text x="140.3" y="41.80" font-family="Liberation Serif" font-weight="bold" font-size="20.24">Rotational speed: 1000 r/min</text><line x1="89.7" y1="61.15" x2="135.3" y2="61.15" stroke="#05B4A6" stroke-width="3.2" stroke-linecap="round"/><text x="140.3" y="67.45" font-family="Liberation Serif" font-weight="bold" font-size="20.24">Rotational speed: 3000 r/min</text><line x1="89.7" y1="86.80" x2="135.3" y2="86.80" stroke="#E81632" stroke-width="3.2" stroke-linecap="round"/><text x="140.3" y="93.10" font-family="Liberation Serif" font-weight="bold" font-size="20.24">Rotational speed: 5000 r/min</text><line x1="89.7" y1="112.45" x2="135.3" y2="112.45" stroke="#055F91" stroke-width="3.2" stroke-linecap="round"/><text x="140.3" y="118.75" font-family="Liberation Serif" font-weight="bold" font-size="20.24">Rotational speed: 7000 r/min</text><line x1="89.7" y1="138.10" x2="135.3" y2="138.10" stroke="#A064BE" stroke-width="3.2" stroke-linecap="round"/><text x="140.3" y="144.40" font-family="Liberation Serif" font-weight="bold" font-size="20.24">Rotational speed: 9000 r/min</text><rect x="420.7" y="21.7" width="202.90" height="128.70" fill="#fff"/><g clip-path="url(#ic)" fill="none" stroke-linejoin="round"><path d="M413.3,68.1 L414.4,68.1 L415.5,68.2 L416.6,68.3 L417.7,68.4 L418.9,68.5 L420.0,68.6 L421.1,68.7 L422.2,68.8 L423.3,69.0 L424.4,69.1 L425.5,69.3 L426.6,69.5 L427.7,69.7 L428.8,69.9 L429.9,70.1 L431.0,70.4 L432.1,70.6 L433.2,70.9 L434.3,71.2 L435.5,71.4 L436.6,71.7 L437.7,72.0 L438.8,72.4 L439.9,72.7 L441.0,73.0 L442.1,73.4 L443.2,73.7 L444.3,74.1 L445.4,74.4 L446.5,74.8 L447.6,75.1 L448.7,75.5 L449.8,75.9 L451.0,76.2 L452.1,76.6 L453.2,76.9 L454.3,77.2 L455.4,77.6 L456.5,77.9 L457.6,78.2 L458.7,78.5 L459.8,78.8 L460.9,79.0 L462.0,79.3 L463.1,79.5 L464.2,79.7 L465.3,79.9 L466.4,80.1 L467.6,80.2 L468.7,80.4 L469.8,80.5 L470.9,80.6 L472.0,80.7 L473.1,80.7 L474.2,80.8 L475.3,80.8 L476.4,80.8 L477.5,80.8 L478.6,80.7 L479.7,80.6 L480.8,80.5 L481.9,80.4 L483.0,80.2 L484.2,80.1 L485.3,79.9 L486.4,79.6 L487.5,79.4 L488.6,79.1 L489.7,78.8 L490.8,78.5 L491.9,78.2 L493.0,77.8 L494.1,77.4 L495.2,77.0 L496.3,76.6 L497.4,76.2 L498.5,75.7 L499.6,75.3 L500.8,74.8 L501.9,74.3 L503.0,73.8 L504.1,73.3 L505.2,72.8 L506.3,72.3 L507.4,71.8 L508.5,71.4 L509.6,70.9 L510.7,70.4 L511.8,69.9 L512.9,69.5 L514.0,69.0 L515.1,68.6 L516.2,68.2 L517.4,67.8 L518.5,67.4 L519.6,67.0 L520.7,66.7 L521.8,66.3 L522.9,66.0 L524.0,65.7 L525.1,65.4 L526.2,65.1 L527.3,64.9 L528.4,64.6 L529.5,64.4 L530.6,64.2 L531.7,63.9 L532.8,63.7 L534.0,63.6 L535.1,63.4 L536.2,63.2 L537.3,63.0 L538.4,62.9 L539.5,62.7 L540.6,62.6 L541.7,62.5 L542.8,62.4 L543.9,62.3 L545.0,62.2 L546.1,62.1 L547.2,62.0 L548.3,61.9 L549.4,61.9 L550.6,61.8 L551.7,61.8 L552.8,61.7 L553.9,61.7 L555.0,61.6 L556.1,61.6 L557.2,61.6 L558.3,61.6 L559.4,61.5 L560.5,61.5 L561.6,61.5 L562.7,61.5 L563.8,61.5 L564.9,61.4 L566.1,61.4 L567.2,61.4 L568.3,61.4 L569.4,61.4 L570.5,61.3 L571.6,61.3 L572.7,61.3 L573.8,61.3 L574.9,61.2 L576.0,61.2 L577.1,61.2 L578.2,61.2 L579.3,61.2 L580.4,61.1 L581.5,61.1 L582.7,61.1 L583.8,61.1 L584.9,61.1 L586.0,61.0 L587.1,61.0 L588.2,61.0 L589.3,61.0 L590.4,60.9 L591.5,60.9 L592.6,60.9 L593.7,60.9 L594.8,60.9 L595.9,60.8 L597.0,60.8 L598.1,60.8 L599.3,60.8 L600.4,60.7 L601.5,60.7 L602.6,60.7 L603.7,60.7 L604.8,60.6 L605.9,60.6 L607.0,60.6 L608.1,60.5 L609.2,60.5 L610.3,60.5 L611.4,60.4 L612.5,60.4 L613.6,60.3 L614.7,60.3 L615.9,60.3 L617.0,60.2 L618.1,60.2 L619.2,60.1 L620.3,60.1 L621.4,60.1 L622.5,60.0 L623.6,60.0 L624.7,59.9 L625.8,59.9 L626.9,59.9 L628.0,59.8 L629.1,59.8 L630.2,59.8 L631.3,59.7" stroke="#FB9A06" stroke-width="1.9"/><path d="M413.3,68.3 L414.4,68.4 L415.5,68.5 L416.6,68.7 L417.7,68.8 L418.9,69.0 L420.0,69.2 L421.1,69.4 L422.2,69.7 L423.3,70.0 L424.4,70.3 L425.5,70.7 L426.6,71.1 L427.7,71.5 L428.8,72.0 L429.9,72.5 L431.0,73.1 L432.1,73.7 L433.2,74.3 L434.3,75.0 L435.5,75.7 L436.6,76.5 L437.7,77.3 L438.8,78.2 L439.9,79.1 L441.0,80.0 L442.1,80.9 L443.2,81.8 L444.3,82.8 L445.4,83.8 L446.5,84.8 L447.6,85.7 L448.7,86.7 L449.8,87.7 L451.0,88.6 L452.1,89.6 L453.2,90.5 L454.3,91.3 L455.4,92.2 L456.5,93.1 L457.6,93.9 L458.7,94.7 L459.8,95.5 L460.9,96.2 L462.0,97.0 L463.1,97.7 L464.2,98.4 L465.3,99.0 L466.4,99.6 L467.6,100.2 L468.7,100.7 L469.8,101.2 L470.9,101.6 L472.0,102.0 L473.1,102.3 L474.2,102.6 L475.3,102.9 L476.4,103.1 L477.5,103.2 L478.6,103.3 L479.7,103.3 L480.8,103.3 L481.9,103.2 L483.0,103.1 L484.2,102.9 L485.3,102.6 L486.4,102.4 L487.5,102.0 L488.6,101.7 L489.7,101.2 L490.8,100.8 L491.9,100.3 L493.0,99.8 L494.1,99.2 L495.2,98.6 L496.3,98.0 L497.4,97.4 L498.5,96.7 L499.6,96.0 L500.8,95.3 L501.9,94.6 L503.0,93.9 L504.1,93.1 L505.2,92.4 L506.3,91.6 L507.4,90.9 L508.5,90.1 L509.6,89.3 L510.7,88.5 L511.8,87.7 L512.9,86.9 L514.0,86.0 L515.1,85.1 L516.2,84.2 L517.4,83.2 L518.5,82.2 L519.6,81.2 L520.7,80.2 L521.8,79.1 L522.9,78.1 L524.0,77.1 L525.1,76.1 L526.2,75.0 L527.3,74.0 L528.4,73.1 L529.5,72.1 L530.6,71.2 L531.7,70.3 L532.8,69.4 L534.0,68.5 L535.1,67.7 L536.2,66.8 L537.3,66.0 L538.4,65.2 L539.5,64.4 L540.6,63.6 L541.7,62.8 L542.8,62.0 L543.9,61.2 L545.0,60.4 L546.1,59.7 L547.2,58.9 L548.3,58.1 L549.4,57.4 L550.6,56.6 L551.7,55.9 L552.8,55.1 L553.9,54.4 L555.0,53.8 L556.1,53.1 L557.2,52.5 L558.3,51.9 L559.4,51.3 L560.5,50.7 L561.6,50.2 L562.7,49.7 L563.8,49.2 L564.9,48.7 L566.1,48.3 L567.2,47.9 L568.3,47.5 L569.4,47.1 L570.5,46.8 L571.6,46.5 L572.7,46.2 L573.8,45.9 L574.9,45.7 L576.0,45.4 L577.1,45.2 L578.2,45.0 L579.3,44.8 L580.4,44.6 L581.5,44.5 L582.7,44.3 L583.8,44.2 L584.9,44.0 L586.0,43.9 L587.1,43.7 L588.2,43.6 L589.3,43.5 L590.4,43.4 L591.5,43.3 L592.6,43.2 L593.7,43.1 L594.8,43.0 L595.9,42.9 L597.0,42.8 L598.1,42.7 L599.3,42.7 L600.4,42.6 L601.5,42.6 L602.6,42.5 L603.7,42.5 L604.8,42.5 L605.9,42.4 L607.0,42.4 L608.1,42.4 L609.2,42.4 L610.3,42.3 L611.4,42.3 L612.5,42.3 L613.6,42.3 L614.7,42.3 L615.9,42.3 L617.0,42.3 L618.1,42.3 L619.2,42.3 L620.3,42.3 L621.4,42.3 L622.5,42.2 L623.6,42.2 L624.7,42.2 L625.8,42.2 L626.9,42.2 L628.0,42.1 L629.1,42.1 L630.2,42.1 L631.3,42.1" stroke="#05B4A6" stroke-width="1.9"/><path d="M413.3,68.3 L414.4,68.4 L415.5,68.5 L416.6,68.7 L417.7,68.8 L418.9,69.0 L420.0,69.2 L421.1,69.4 L422.2,69.7 L423.3,70.0 L424.4,70.3 L425.5,70.6 L426.6,71.0 L427.7,71.5 L428.8,72.0 L429.9,72.5 L431.0,73.0 L432.1,73.6 L433.2,74.2 L434.3,74.9 L435.5,75.6 L436.6,76.4 L437.7,77.2 L438.8,78.0 L439.9,78.9 L441.0,79.8 L442.1,80.7 L443.2,81.7 L444.3,82.7 L445.4,83.7 L446.5,84.7 L447.6,85.7 L448.7,86.8 L449.8,87.8 L451.0,88.9 L452.1,90.0 L453.2,91.0 L454.3,92.1 L455.4,93.2 L456.5,94.3 L457.6,95.4 L458.7,96.4 L459.8,97.5 L460.9,98.6 L462.0,99.7 L463.1,100.8 L464.2,101.9 L465.3,103.0 L466.4,104.1 L467.6,105.2 L468.7,106.2 L469.8,107.3 L470.9,108.3 L472.0,109.3 L473.1,110.2 L474.2,111.2 L475.3,112.0 L476.4,112.8 L477.5,113.6 L478.6,114.3 L479.7,115.0 L480.8,115.6 L481.9,116.2 L483.0,116.7 L484.2,117.1 L485.3,117.6 L486.4,117.9 L487.5,118.2 L488.6,118.5 L489.7,118.7 L490.8,118.9 L491.9,119.0 L493.0,119.1 L494.1,119.1 L495.2,119.1 L496.3,119.0 L497.4,118.9 L498.5,118.7 L499.6,118.5 L500.8,118.3 L501.9,118.0 L503.0,117.6 L504.1,117.2 L505.2,116.8 L506.3,116.3 L507.4,115.8 L508.5,115.2 L509.6,114.6 L510.7,113.9 L511.8,113.2 L512.9,112.5 L514.0,111.8 L515.1,111.0 L516.2,110.1 L517.4,109.3 L518.5,108.4 L519.6,107.5 L520.7,106.6 L521.8,105.7 L522.9,104.7 L524.0,103.7 L525.1,102.7 L526.2,101.6 L527.3,100.5 L528.4,99.4 L529.5,98.2 L530.6,97.0 L531.7,95.7 L532.8,94.4 L534.0,93.1 L535.1,91.8 L536.2,90.4 L537.3,89.0 L538.4,87.6 L539.5,86.1 L540.6,84.7 L541.7,83.2 L542.8,81.7 L543.9,80.2 L545.0,78.7 L546.1,77.2 L547.2,75.7 L548.3,74.2 L549.4,72.7 L550.6,71.2 L551.7,69.7 L552.8,68.2 L553.9,66.8 L555.0,65.3 L556.1,63.9 L557.2,62.5 L558.3,61.1 L559.4,59.8 L560.5,58.4 L561.6,57.1 L562.7,55.8 L563.8,54.5 L564.9,53.2 L566.1,51.9 L567.2,50.6 L568.3,49.4 L569.4,48.1 L570.5,47.0 L571.6,45.8 L572.7,44.7 L573.8,43.6 L574.9,42.5 L576.0,41.5 L577.1,40.4 L578.2,39.4 L579.3,38.5 L580.4,37.5 L581.5,36.6 L582.7,35.7 L583.8,34.9 L584.9,34.0 L586.0,33.2 L587.1,32.4 L588.2,31.7 L589.3,30.9 L590.4,30.2 L591.5,29.5 L592.6,28.8 L593.7,28.1 L594.8,27.5 L595.9,26.8 L597.0,26.2 L598.1,25.6 L599.3,25.1 L600.4,24.5 L601.5,23.9 L602.6,23.4 L603.7,22.9 L604.8,22.4 L605.9,22.0 L607.0,21.5 L608.1,21.1 L609.2,20.7 L610.3,20.4 L611.4,20.0 L612.5,19.7 L613.6,19.4 L614.7,19.1 L615.9,18.8 L617.0,18.5 L618.1,18.3 L619.2,18.0 L620.3,17.8 L621.4,17.6 L622.5,17.4 L623.6,17.2 L624.7,17.0 L625.8,16.9 L626.9,16.7 L628.0,16.6 L629.1,16.4 L630.2,16.3 L631.3,16.1" stroke="#E81632" stroke-width="1.9"/><path d="M413.3,68.3 L414.4,68.4 L415.5,68.6 L416.6,68.7 L417.7,68.9 L418.9,69.1 L420.0,69.3 L421.1,69.6 L422.2,69.9 L423.3,70.2 L424.4,70.6 L425.5,71.0 L426.6,71.4 L427.7,71.9 L428.8,72.4 L429.9,72.9 L431.0,73.5 L432.1,74.1 L433.2,74.8 L434.3,75.5 L435.5,76.2 L436.6,77.0 L437.7,77.8 L438.8,78.7 L439.9,79.5 L441.0,80.4 L442.1,81.4 L443.2,82.3 L444.3,83.3 L445.4,84.3 L446.5,85.3 L447.6,86.3 L448.7,87.4 L449.8,88.4 L451.0,89.5 L452.1,90.5 L453.2,91.6 L454.3,92.6 L455.4,93.7 L456.5,94.7 L457.6,95.8 L458.7,96.9 L459.8,98.0 L460.9,99.1 L462.0,100.2 L463.1,101.3 L464.2,102.4 L465.3,103.5 L466.4,104.6 L467.6,105.7 L468.7,106.9 L469.8,108.0 L470.9,109.2 L472.0,110.3 L473.1,111.5 L474.2,112.6 L475.3,113.8 L476.4,115.0 L477.5,116.1 L478.6,117.3 L479.7,118.4 L480.8,119.5 L481.9,120.6 L483.0,121.6 L484.2,122.7 L485.3,123.6 L486.4,124.5 L487.5,125.4 L488.6,126.2 L489.7,126.9 L490.8,127.6 L491.9,128.2 L493.0,128.8 L494.1,129.3 L495.2,129.7 L496.3,130.1 L497.4,130.4 L498.5,130.7 L499.6,130.9 L500.8,131.1 L501.9,131.3 L503.0,131.4 L504.1,131.4 L505.2,131.4 L506.3,131.4 L507.4,131.4 L508.5,131.3 L509.6,131.1 L510.7,131.0 L511.8,130.8 L512.9,130.5 L514.0,130.2 L515.1,129.8 L516.2,129.4 L517.4,129.0 L518.5,128.5 L519.6,128.0 L520.7,127.4 L521.8,126.8 L522.9,126.1 L524.0,125.4 L525.1,124.6 L526.2,123.8 L527.3,123.0 L528.4,122.1 L529.5,121.2 L530.6,120.2 L531.7,119.1 L532.8,118.1 L534.0,117.0 L535.1,115.8 L536.2,114.6 L537.3,113.4 L538.4,112.1 L539.5,110.8 L540.6,109.5 L541.7,108.1 L542.8,106.8 L543.9,105.3 L545.0,103.9 L546.1,102.4 L547.2,100.9 L548.3,99.4 L549.4,97.9 L550.6,96.3 L551.7,94.8 L552.8,93.2 L553.9,91.6 L555.0,90.1 L556.1,88.5 L557.2,86.9 L558.3,85.3 L559.4,83.7 L560.5,82.1 L561.6,80.5 L562.7,78.8 L563.8,77.2 L564.9,75.6 L566.1,73.9 L567.2,72.2 L568.3,70.5 L569.4,68.8 L570.5,67.1 L571.6,65.4 L572.7,63.7 L573.8,62.0 L574.9,60.3 L576.0,58.6 L577.1,56.9 L578.2,55.1 L579.3,53.3 L580.4,51.6 L581.5,49.8 L582.7,48.1 L583.8,46.3 L584.9,44.6 L586.0,42.9 L587.1,41.2 L588.2,39.5 L589.3,37.8 L590.4,36.2 L591.5,34.6 L592.6,33.1 L593.7,31.5 L594.8,30.0 L595.9,28.5 L597.0,27.1 L598.1,25.6 L599.3,24.2 L600.4,22.7 L601.5,21.4 L602.6,20.1 L603.7,18.9 L604.8,17.6 L605.9,16.4 L607.0,15.2 L608.1,14.0 L609.2,12.8 L610.3,11.6 L611.4,10.5 L612.5,9.3 L613.6,8.2 L614.7,7.1 L615.9,6.0 L617.0,5.0 L618.1,3.9 L619.2,2.9 L620.3,1.9 L621.4,1.0 L622.5,0.1 L623.6,-0.8 L624.7,-1.7 L625.8,-2.6 L626.9,-3.4 L628.0,-4.1 L629.1,-4.9 L630.2,-5.6 L631.3,-6.3" stroke="#055F91" stroke-width="1.9"/><path d="M413.3,68.3 L414.4,68.4 L415.5,68.5 L416.6,68.7 L417.7,68.8 L418.9,69.0 L420.0,69.2 L421.1,69.4 L422.2,69.7 L423.3,70.0 L424.4,70.3 L425.5,70.7 L426.6,71.0 L427.7,71.5 L428.8,72.0 L429.9,72.5 L431.0,73.0 L432.1,73.6 L433.2,74.3 L434.3,74.9 L435.5,75.7 L436.6,76.4 L437.7,77.2 L438.8,78.1 L439.9,78.9 L441.0,79.8 L442.1,80.8 L443.2,81.7 L444.3,82.7 L445.4,83.7 L446.5,84.7 L447.6,85.7 L448.7,86.8 L449.8,87.8 L451.0,88.9 L452.1,89.9 L453.2,90.9 L454.3,92.0 L455.4,93.0 L456.5,94.1 L457.6,95.2 L458.7,96.2 L459.8,97.3 L460.9,98.4 L462.0,99.4 L463.1,100.5 L464.2,101.6 L465.3,102.7 L466.4,103.8 L467.6,104.9 L468.7,106.0 L469.8,107.2 L470.9,108.3 L472.0,109.4 L473.1,110.6 L474.2,111.7 L475.3,112.9 L476.4,114.0 L477.5,115.2 L478.6,116.4 L479.7,117.5 L480.8,118.7 L481.9,119.8 L483.0,121.0 L484.2,122.1 L485.3,123.2 L486.4,124.3 L487.5,125.3 L488.6,126.3 L489.7,127.3 L490.8,128.2 L491.9,129.2 L493.0,130.0 L494.1,130.9 L495.2,131.7 L496.3,132.4 L497.4,133.2 L498.5,133.9 L499.6,134.5 L500.8,135.1 L501.9,135.7 L503.0,136.2 L504.1,136.7 L505.2,137.2 L506.3,137.6 L507.4,138.0 L508.5,138.3 L509.6,138.7 L510.7,138.9 L511.8,139.2 L512.9,139.4 L514.0,139.6 L515.1,139.7 L516.2,139.8 L517.4,139.8 L518.5,139.8 L519.6,139.7 L520.7,139.6 L521.8,139.4 L522.9,139.2 L524.0,138.9 L525.1,138.6 L526.2,138.2 L527.3,137.8 L528.4,137.3 L529.5,136.8 L530.6,136.3 L531.7,135.7 L532.8,135.2 L534.0,134.5 L535.1,133.9 L536.2,133.2 L537.3,132.4 L538.4,131.7 L539.5,130.9 L540.6,130.0 L541.7,129.2 L542.8,128.3 L543.9,127.4 L545.0,126.4 L546.1,125.4 L547.2,124.4 L548.3,123.3 L549.4,122.2 L550.6,121.1 L551.7,119.9 L552.8,118.7 L553.9,117.5 L555.0,116.2 L556.1,114.9 L557.2,113.6 L558.3,112.2 L559.4,110.8 L560.5,109.3 L561.6,107.8 L562.7,106.3 L563.8,104.8 L564.9,103.2 L566.1,101.6 L567.2,99.9 L568.3,98.2 L569.4,96.5 L570.5,94.8 L571.6,93.1 L572.7,91.3 L573.8,89.5 L574.9,87.7 L576.0,85.8 L577.1,84.0 L578.2,82.1 L579.3,80.2 L580.4,78.3 L581.5,76.4 L582.7,74.4 L583.8,72.5 L584.9,70.5 L586.0,68.6 L587.1,66.6 L588.2,64.6 L589.3,62.7 L590.4,60.7 L591.5,58.7 L592.6,56.7 L593.7,54.7 L594.8,52.7 L595.9,50.7 L597.0,48.7 L598.1,46.7 L599.3,44.7 L600.4,42.7 L601.5,40.7 L602.6,38.7 L603.7,36.7 L604.8,34.8 L605.9,32.8 L607.0,30.8 L608.1,28.9 L609.2,26.9 L610.3,25.0 L611.4,23.1 L612.5,21.2 L613.6,19.3 L614.7,17.4 L615.9,15.5 L617.0,13.6 L618.1,11.6 L619.2,9.5 L620.3,7.4 L621.4,5.3 L622.5,3.1 L623.6,1.0 L624.7,-1.2 L625.8,-3.4 L626.9,-5.5 L628.0,-7.6 L629.1,-9.7 L630.2,-11.7 L631.3,-13.6" stroke="#A064BE" stroke-width="1.9"/></g><rect x="420.7" y="21.7" width="202.90" height="128.70" fill="none" stroke="#000" stroke-width="1.4"/><path d="M439.15,150.4 V147.40 M457.59,150.4 V148.60 M476.04,150.4 V147.40 M494.48,150.4 V148.60 M512.93,150.4 V147.40 M531.37,150.4 V148.60 M549.82,150.4 V147.40 M568.26,150.4 V148.60 M586.71,150.4 V147.40 M605.15,150.4 V148.60 M420.7,146.20 H423.70 M420.7,126.30 H422.50 M420.7,106.40 H423.70 M420.7,86.50 H422.50 M420.7,66.60 H423.70 M420.7,46.70 H422.50 M420.7,26.80 H423.70" stroke="#000" stroke-width="1.2" fill="none"/><text transform="translate(439.15,165.5) scale(0.93,1)" font-family="Liberation Serif" font-weight="bold" font-size="14.5" text-anchor="middle">47</text><text transform="translate(476.04,165.5) scale(0.93,1)" font-family="Liberation Serif" font-weight="bold" font-size="14.5" text-anchor="middle">48</text><text transform="translate(512.93,165.5) scale(0.93,1)" font-family="Liberation Serif" font-weight="bold" font-size="14.5" text-anchor="middle">49</text><text transform="translate(549.82,165.5) scale(0.93,1)" font-family="Liberation Serif" font-weight="bold" font-size="14.5" text-anchor="middle">50</text><text transform="translate(586.71,165.5) scale(0.93,1)" font-family="Liberation Serif" font-weight="bold" font-size="14.5" text-anchor="middle">51</text><text transform="translate(623.60,165.5) scale(0.93,1)" font-family="Liberation Serif" font-weight="bold" font-size="14.5" text-anchor="middle">52</text><text transform="translate(418.0,31.40) scale(0.93,1)" font-family="Liberation Serif" font-weight="bold" font-size="14.5" text-anchor="end">8</text><text transform="translate(418.0,71.20) scale(0.93,1)" font-family="Liberation Serif" font-weight="bold" font-size="14.5" text-anchor="end">0</text><text transform="translate(418.0,111.00) scale(0.93,1)" font-family="Liberation Serif" font-weight="bold" font-size="14.5" text-anchor="end">-8</text><text transform="translate(418.0,150.80) scale(0.93,1)" font-family="Liberation Serif" font-weight="bold" font-size="14.5" text-anchor="end">-16</text></svg></body></html>
